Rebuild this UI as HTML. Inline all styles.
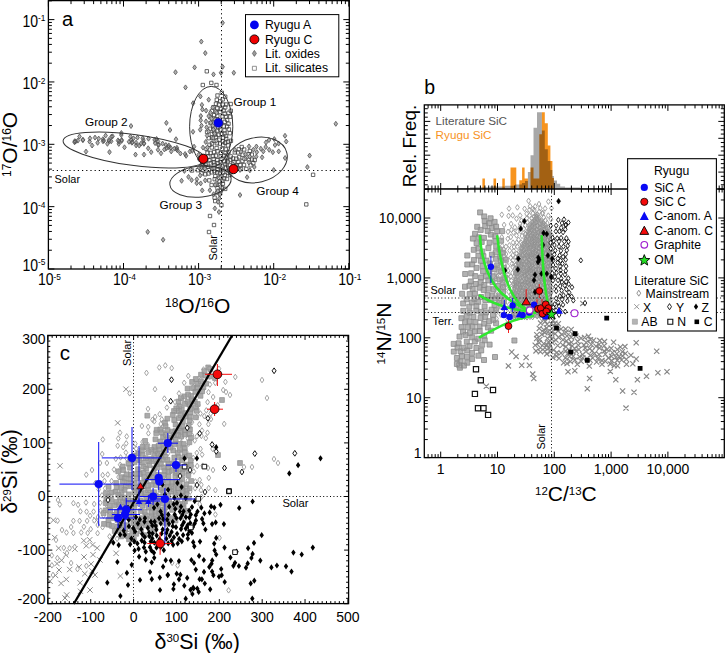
<!DOCTYPE html>
<html><head><meta charset="utf-8"><style>html,body{margin:0;padding:0;background:#fff;width:725px;height:653px;overflow:hidden}svg{display:block}</style></head><body><svg width="725" height="653" viewBox="0 0 725 653"><g id="pa"><path d="M218.9 160.4h3.4v3.4h-3.4z M221.5 136.2h3.4v3.4h-3.4z M218.4 110.3h3.4v3.4h-3.4z M215.6 106.7h3.4v3.4h-3.4z M246.9 152.6h3.4v3.4h-3.4z M215.6 158.5h3.4v3.4h-3.4z M222.8 128.7h3.4v3.4h-3.4z M212.4 130h3.4v3.4h-3.4z M220.3 147.1h3.4v3.4h-3.4z M203.9 163.2h3.4v3.4h-3.4z M211.8 160.6h3.4v3.4h-3.4z M210.2 132.3h3.4v3.4h-3.4z M225.4 118.2h3.4v3.4h-3.4z M216.1 121.5h3.4v3.4h-3.4z M228.6 158.3h3.4v3.4h-3.4z M219.9 132.5h3.4v3.4h-3.4z M215.6 117.8h3.4v3.4h-3.4z M220.8 114.7h3.4v3.4h-3.4z M214.2 135.7h3.4v3.4h-3.4z M206.3 165.2h3.4v3.4h-3.4z M219.1 151.4h3.4v3.4h-3.4z M212 139.2h3.4v3.4h-3.4z M212.3 121.8h3.4v3.4h-3.4z M207.6 158.6h3.4v3.4h-3.4z M201.6 168.6h3.4v3.4h-3.4z M216.6 125.7h3.4v3.4h-3.4z M214.2 154h3.4v3.4h-3.4z M212.7 169.4h3.4v3.4h-3.4z M218.3 171.8h3.4v3.4h-3.4z M224.3 134.2h3.4v3.4h-3.4z M231.8 160.5h3.4v3.4h-3.4z M221.5 143.3h3.4v3.4h-3.4z M221.1 139.3h3.4v3.4h-3.4z M215.2 141.5h3.4v3.4h-3.4z M223 120.1h3.4v3.4h-3.4z M212.5 113.4h3.4v3.4h-3.4z M204.5 159h3.4v3.4h-3.4z M217.1 176.2h3.4v3.4h-3.4z M222.4 159.7h3.4v3.4h-3.4z M217.2 102.9h3.4v3.4h-3.4z M234.7 157h3.4v3.4h-3.4z M213.6 174.4h3.4v3.4h-3.4z M217.7 138h3.4v3.4h-3.4z M236.6 160.2h3.4v3.4h-3.4z M234.8 163.6h3.4v3.4h-3.4z M218.2 119.1h3.4v3.4h-3.4z M208.6 115.6h3.4v3.4h-3.4z M200.4 161h3.4v3.4h-3.4z M226 171h3.4v3.4h-3.4z M219.5 174.5h3.4v3.4h-3.4z M215.7 164.6h3.4v3.4h-3.4z M224.4 166h3.4v3.4h-3.4z M223.8 151.1h3.4v3.4h-3.4z M217.9 179.7h3.4v3.4h-3.4z M210.3 135.9h3.4v3.4h-3.4z M218.3 183.1h3.4v3.4h-3.4z M250.1 152.9h3.4v3.4h-3.4z M222.5 176.8h3.4v3.4h-3.4z M224.2 147.7h3.4v3.4h-3.4z M215.9 149.6h3.4v3.4h-3.4z M224.9 155.6h3.4v3.4h-3.4z M210.1 145.8h3.4v3.4h-3.4z M215.6 114.2h3.4v3.4h-3.4z M217.1 133.1h3.4v3.4h-3.4z M211.5 126h3.4v3.4h-3.4z M200.1 164.1h3.4v3.4h-3.4z M213.1 132.9h3.4v3.4h-3.4z M208.8 151.2h3.4v3.4h-3.4z M219.2 188.7h3.4v3.4h-3.4z M229.1 109.1h3.4v3.4h-3.4z M222.9 112h3.4v3.4h-3.4z M206.8 171.8h3.4v3.4h-3.4z M211.9 157.4h3.4v3.4h-3.4z M240.9 153h3.4v3.4h-3.4z M211.6 117.1h3.4v3.4h-3.4z M207.1 168.3h3.4v3.4h-3.4z M243.3 157h3.4v3.4h-3.4z M237.4 155.6h3.4v3.4h-3.4z M223.5 187.2h3.4v3.4h-3.4z M225.9 159.6h3.4v3.4h-3.4z M216 161.4h3.4v3.4h-3.4z M229 154.7h3.4v3.4h-3.4z M211.2 166.7h3.4v3.4h-3.4z M215.8 128.9h3.4v3.4h-3.4z M221 97.7h3.4v3.4h-3.4z M222.6 153.8h3.4v3.4h-3.4z M226.3 139.9h3.4v3.4h-3.4z M204.8 147.2h3.4v3.4h-3.4z M205.8 151.1h3.4v3.4h-3.4z M250.2 157.8h3.4v3.4h-3.4z M211.3 154.6h3.4v3.4h-3.4z M226.3 143.7h3.4v3.4h-3.4z M218.9 154.6h3.4v3.4h-3.4z M203.6 172.6h3.4v3.4h-3.4z M218.6 127.9h3.4v3.4h-3.4z M221.3 170.9h3.4v3.4h-3.4z M223.5 95h3.4v3.4h-3.4z M210.2 109.2h3.4v3.4h-3.4z M207 136.5h3.4v3.4h-3.4z M240.8 159.3h3.4v3.4h-3.4z M223.5 141.1h3.4v3.4h-3.4z M190.3 168.8h3.4v3.4h-3.4z M224.5 137.1h3.4v3.4h-3.4z M224.4 102.8h3.4v3.4h-3.4z M225.3 124.8h3.4v3.4h-3.4z M209.1 161.6h3.4v3.4h-3.4z M223.5 105.7h3.4v3.4h-3.4z M213 177.5h3.4v3.4h-3.4z M215.8 186.4h3.4v3.4h-3.4z M214.9 146.3h3.4v3.4h-3.4z M233.1 150.7h3.4v3.4h-3.4z M220.4 164.7h3.4v3.4h-3.4z M223.8 162.4h3.4v3.4h-3.4z M222.1 124.6h3.4v3.4h-3.4z M231.3 156.7h3.4v3.4h-3.4z M218.3 141.9h3.4v3.4h-3.4z M205.4 130.3h3.4v3.4h-3.4z M212.4 150.4h3.4v3.4h-3.4z M219.5 168.6h3.4v3.4h-3.4z M214.2 109.9h3.4v3.4h-3.4z M206.6 155h3.4v3.4h-3.4z M236.4 167.1h3.4v3.4h-3.4z M209.9 183.3h3.4v3.4h-3.4z M215.1 98.1h3.4v3.4h-3.4z M220.1 91.1h3.4v3.4h-3.4z M227.2 127.7h3.4v3.4h-3.4z M229 102.3h3.4v3.4h-3.4z M247.2 158.1h3.4v3.4h-3.4z M218.4 191.8h3.4v3.4h-3.4z M210.3 141.7h3.4v3.4h-3.4z M220.7 179.1h3.4v3.4h-3.4z M228.6 115h3.4v3.4h-3.4z M212.9 163.3h3.4v3.4h-3.4z M238.6 163.3h3.4v3.4h-3.4z M207.8 143.1h3.4v3.4h-3.4z M219.2 107.4h3.4v3.4h-3.4z M248.9 163.6h3.4v3.4h-3.4z M223.2 173.4h3.4v3.4h-3.4z M221.3 102.9h3.4v3.4h-3.4z M218.6 99.6h3.4v3.4h-3.4z M229 167.6h3.4v3.4h-3.4z M228.4 163.7h3.4v3.4h-3.4z M242.3 163.3h3.4v3.4h-3.4z M226.8 122h3.4v3.4h-3.4z M215.6 190.8h3.4v3.4h-3.4z M226.9 111.1h3.4v3.4h-3.4z M219.3 122.3h3.4v3.4h-3.4z M228.4 173.3h3.4v3.4h-3.4z M215.5 170.7h3.4v3.4h-3.4z M219.7 203.4h3.4v3.4h-3.4z M211.8 105.5h3.4v3.4h-3.4z M196.1 168.5h3.4v3.4h-3.4z M225.3 177.3h3.4v3.4h-3.4z M213.5 199.4h3.4v3.4h-3.4z M219.8 157.3h3.4v3.4h-3.4z M199.8 171.5h3.4v3.4h-3.4z M212.9 195.9h3.4v3.4h-3.4z M215.7 167.9h3.4v3.4h-3.4z M221.9 108.8h3.4v3.4h-3.4z M253 158.3h3.4v3.4h-3.4z M215.8 93.8h3.4v3.4h-3.4z M202.6 165.9h3.4v3.4h-3.4z M214.4 183.1h3.4v3.4h-3.4z M221.2 182h3.4v3.4h-3.4z M229.2 139.1h3.4v3.4h-3.4z M208.8 121.4h3.4v3.4h-3.4z M236.3 150.8h3.4v3.4h-3.4z M224.2 115.2h3.4v3.4h-3.4z M226.9 150.2h3.4v3.4h-3.4z M214.3 102.1h3.4v3.4h-3.4z M237.1 147.6h3.4v3.4h-3.4z M251.6 161.4h3.4v3.4h-3.4z M210 170.6h3.4v3.4h-3.4z M222.8 131.8h3.4v3.4h-3.4z M248.1 149.3h3.4v3.4h-3.4z M200.4 157.3h3.4v3.4h-3.4z M239.3 167.4h3.4v3.4h-3.4z M244.6 167.2h3.4v3.4h-3.4z M228.2 131.5h3.4v3.4h-3.4z M207.6 178.7h3.4v3.4h-3.4z M242.5 147.8h3.4v3.4h-3.4z M208.7 127h3.4v3.4h-3.4z M240 145.3h3.4v3.4h-3.4z M220.5 186h3.4v3.4h-3.4z M205.1 69.6h3.4v3.4h-3.4z M201.1 83.3h3.4v3.4h-3.4z M209.6 81.2h3.4v3.4h-3.4z M214.8 83.3h3.4v3.4h-3.4z M311.4 173.1h3.4v3.4h-3.4z M304.6 202.7h3.4v3.4h-3.4z M208.3 214.3h3.4v3.4h-3.4z M212.3 223.3h3.4v3.4h-3.4z M207.3 230.3h3.4v3.4h-3.4z" fill="#fff" stroke="#404040" stroke-width="0.8"/><path d="M144 140.7l1.8 2.5l-1.8 2.5l-1.8-2.5z M162.6 141.1l1.8 2.5l-1.8 2.5l-1.8-2.5z M95 135.1l1.8 2.5l-1.8 2.5l-1.8-2.5z M186.1 153.3l1.8 2.5l-1.8 2.5l-1.8-2.5z M185.1 151.5l1.8 2.5l-1.8 2.5l-1.8-2.5z M118 137.9l1.8 2.5l-1.8 2.5l-1.8-2.5z M105.6 133.1l1.8 2.5l-1.8 2.5l-1.8-2.5z M164.4 147l1.8 2.5l-1.8 2.5l-1.8-2.5z M121.7 137.4l1.8 2.5l-1.8 2.5l-1.8-2.5z M74.7 138.7l1.8 2.5l-1.8 2.5l-1.8-2.5z M118.8 141.4l1.8 2.5l-1.8 2.5l-1.8-2.5z M129 139.3l1.8 2.5l-1.8 2.5l-1.8-2.5z M198.7 152.3l1.8 2.5l-1.8 2.5l-1.8-2.5z M74.6 139.8l1.8 2.5l-1.8 2.5l-1.8-2.5z M143.4 137.7l1.8 2.5l-1.8 2.5l-1.8-2.5z M77.9 138.1l1.8 2.5l-1.8 2.5l-1.8-2.5z M121.4 130.5l1.8 2.5l-1.8 2.5l-1.8-2.5z M180.4 151l1.8 2.5l-1.8 2.5l-1.8-2.5z M189.9 149l1.8 2.5l-1.8 2.5l-1.8-2.5z M176 136.7l1.8 2.5l-1.8 2.5l-1.8-2.5z M158 142l1.8 2.5l-1.8 2.5l-1.8-2.5z M124.5 144.8l1.8 2.5l-1.8 2.5l-1.8-2.5z M203.5 155.4l1.8 2.5l-1.8 2.5l-1.8-2.5z M119 139l1.8 2.5l-1.8 2.5l-1.8-2.5z M170.7 145.3l1.8 2.5l-1.8 2.5l-1.8-2.5z M107.4 141.3l1.8 2.5l-1.8 2.5l-1.8-2.5z M194.1 144.2l1.8 2.5l-1.8 2.5l-1.8-2.5z M202.3 154.1l1.8 2.5l-1.8 2.5l-1.8-2.5z M158 147.3l1.8 2.5l-1.8 2.5l-1.8-2.5z M89.6 139.1l1.8 2.5l-1.8 2.5l-1.8-2.5z M75.7 138.9l1.8 2.5l-1.8 2.5l-1.8-2.5z M121.6 138.4l1.8 2.5l-1.8 2.5l-1.8-2.5z M131.8 140.2l1.8 2.5l-1.8 2.5l-1.8-2.5z M108.9 137.4l1.8 2.5l-1.8 2.5l-1.8-2.5z M79.5 134l1.8 2.5l-1.8 2.5l-1.8-2.5z M109.3 138.6l1.8 2.5l-1.8 2.5l-1.8-2.5z M142.7 135.7l1.8 2.5l-1.8 2.5l-1.8-2.5z M201.5 165.1l1.8 2.5l-1.8 2.5l-1.8-2.5z M112.6 133.8l1.8 2.5l-1.8 2.5l-1.8-2.5z M155.1 140.6l1.8 2.5l-1.8 2.5l-1.8-2.5z M158.7 142.5l1.8 2.5l-1.8 2.5l-1.8-2.5z M176.9 145.3l1.8 2.5l-1.8 2.5l-1.8-2.5z M130.4 134.1l1.8 2.5l-1.8 2.5l-1.8-2.5z M136.1 140.2l1.8 2.5l-1.8 2.5l-1.8-2.5z M192.3 148.3l1.8 2.5l-1.8 2.5l-1.8-2.5z M141 141.1l1.8 2.5l-1.8 2.5l-1.8-2.5z M90 135.8l1.8 2.5l-1.8 2.5l-1.8-2.5z M176.7 146.9l1.8 2.5l-1.8 2.5l-1.8-2.5z M103 138.8l1.8 2.5l-1.8 2.5l-1.8-2.5z M171.2 148.9l1.8 2.5l-1.8 2.5l-1.8-2.5z M83.1 137.4l1.8 2.5l-1.8 2.5l-1.8-2.5z M137.5 135.1l1.8 2.5l-1.8 2.5l-1.8-2.5z M103.9 138.1l1.8 2.5l-1.8 2.5l-1.8-2.5z M139.2 143.1l1.8 2.5l-1.8 2.5l-1.8-2.5z M143.9 141.3l1.8 2.5l-1.8 2.5l-1.8-2.5z M97.6 140.3l1.8 2.5l-1.8 2.5l-1.8-2.5z M131.2 137.6l1.8 2.5l-1.8 2.5l-1.8-2.5z M202.6 162.5l1.8 2.5l-1.8 2.5l-1.8-2.5z M168.7 144.7l1.8 2.5l-1.8 2.5l-1.8-2.5z M132.5 139.7l1.8 2.5l-1.8 2.5l-1.8-2.5z M174.4 146.1l1.8 2.5l-1.8 2.5l-1.8-2.5z M121.3 132.5l1.8 2.5l-1.8 2.5l-1.8-2.5z M203.3 161.8l1.8 2.5l-1.8 2.5l-1.8-2.5z M98.7 136.1l1.8 2.5l-1.8 2.5l-1.8-2.5z M154.6 137.4l1.8 2.5l-1.8 2.5l-1.8-2.5z M111.4 134.2l1.8 2.5l-1.8 2.5l-1.8-2.5z M166.6 145.6l1.8 2.5l-1.8 2.5l-1.8-2.5z M111.2 138.8l1.8 2.5l-1.8 2.5l-1.8-2.5z M199 156.5l1.8 2.5l-1.8 2.5l-1.8-2.5z M82.7 137.5l1.8 2.5l-1.8 2.5l-1.8-2.5z M148.5 136.2l1.8 2.5l-1.8 2.5l-1.8-2.5z M102.9 136.7l1.8 2.5l-1.8 2.5l-1.8-2.5z M168.8 142.9l1.8 2.5l-1.8 2.5l-1.8-2.5z M148.2 145.8l1.8 2.5l-1.8 2.5l-1.8-2.5z M92.1 143l1.8 2.5l-1.8 2.5l-1.8-2.5z M133.5 135.8l1.8 2.5l-1.8 2.5l-1.8-2.5z M156.6 136.5l1.8 2.5l-1.8 2.5l-1.8-2.5z M165.9 142.5l1.8 2.5l-1.8 2.5l-1.8-2.5z M177.6 148l1.8 2.5l-1.8 2.5l-1.8-2.5z M136.1 142.9l1.8 2.5l-1.8 2.5l-1.8-2.5z M86 149.1l1.8 2.5l-1.8 2.5l-1.8-2.5z M109.5 149.6l1.8 2.5l-1.8 2.5l-1.8-2.5z M135.5 152.1l1.8 2.5l-1.8 2.5l-1.8-2.5z M144 152.1l1.8 2.5l-1.8 2.5l-1.8-2.5z M151.2 149.6l1.8 2.5l-1.8 2.5l-1.8-2.5z M161 150.8l1.8 2.5l-1.8 2.5l-1.8-2.5z M201.5 123.1l1.8 2.5l-1.8 2.5l-1.8-2.5z M212.8 123.2l1.8 2.5l-1.8 2.5l-1.8-2.5z M263.3 148.9l1.8 2.5l-1.8 2.5l-1.8-2.5z M213.6 191.7l1.8 2.5l-1.8 2.5l-1.8-2.5z M193 129.3l1.8 2.5l-1.8 2.5l-1.8-2.5z M214.9 205.9l1.8 2.5l-1.8 2.5l-1.8-2.5z M262.1 154.8l1.8 2.5l-1.8 2.5l-1.8-2.5z M227.9 159.4l1.8 2.5l-1.8 2.5l-1.8-2.5z M219 209.5l1.8 2.5l-1.8 2.5l-1.8-2.5z M200.2 127.2l1.8 2.5l-1.8 2.5l-1.8-2.5z M219.9 192l1.8 2.5l-1.8 2.5l-1.8-2.5z M200.4 93.9l1.8 2.5l-1.8 2.5l-1.8-2.5z M188.5 174.4l1.8 2.5l-1.8 2.5l-1.8-2.5z M206 118.9l1.8 2.5l-1.8 2.5l-1.8-2.5z M216.8 177.5l1.8 2.5l-1.8 2.5l-1.8-2.5z M220.7 184l1.8 2.5l-1.8 2.5l-1.8-2.5z M256.2 154.2l1.8 2.5l-1.8 2.5l-1.8-2.5z M196.8 176.8l1.8 2.5l-1.8 2.5l-1.8-2.5z M191.6 177.6l1.8 2.5l-1.8 2.5l-1.8-2.5z M272.8 149.7l1.8 2.5l-1.8 2.5l-1.8-2.5z M256.4 144l1.8 2.5l-1.8 2.5l-1.8-2.5z M208.6 128.9l1.8 2.5l-1.8 2.5l-1.8-2.5z M200.8 113.5l1.8 2.5l-1.8 2.5l-1.8-2.5z M248.9 160l1.8 2.5l-1.8 2.5l-1.8-2.5z M269 137.5l1.8 2.5l-1.8 2.5l-1.8-2.5z M204.8 166.2l1.8 2.5l-1.8 2.5l-1.8-2.5z M207.1 133.1l1.8 2.5l-1.8 2.5l-1.8-2.5z M181.6 178.3l1.8 2.5l-1.8 2.5l-1.8-2.5z M201.9 102.4l1.8 2.5l-1.8 2.5l-1.8-2.5z M210.7 120.2l1.8 2.5l-1.8 2.5l-1.8-2.5z M209.9 187.7l1.8 2.5l-1.8 2.5l-1.8-2.5z M278.7 148.9l1.8 2.5l-1.8 2.5l-1.8-2.5z M208.7 113.6l1.8 2.5l-1.8 2.5l-1.8-2.5z M206.1 108.1l1.8 2.5l-1.8 2.5l-1.8-2.5z M207.4 145l1.8 2.5l-1.8 2.5l-1.8-2.5z M215.1 116.9l1.8 2.5l-1.8 2.5l-1.8-2.5z M210.5 110.2l1.8 2.5l-1.8 2.5l-1.8-2.5z M205.2 177.9l1.8 2.5l-1.8 2.5l-1.8-2.5z M214.6 131.2l1.8 2.5l-1.8 2.5l-1.8-2.5z M212.8 105l1.8 2.5l-1.8 2.5l-1.8-2.5z M219.3 195.9l1.8 2.5l-1.8 2.5l-1.8-2.5z M217.8 188.6l1.8 2.5l-1.8 2.5l-1.8-2.5z M260.8 146.2l1.8 2.5l-1.8 2.5l-1.8-2.5z M214.2 165.5l1.8 2.5l-1.8 2.5l-1.8-2.5z M211.6 116.2l1.8 2.5l-1.8 2.5l-1.8-2.5z M200.2 172.9l1.8 2.5l-1.8 2.5l-1.8-2.5z M196.7 180.6l1.8 2.5l-1.8 2.5l-1.8-2.5z M265.7 144.5l1.8 2.5l-1.8 2.5l-1.8-2.5z M240.9 149.3l1.8 2.5l-1.8 2.5l-1.8-2.5z M249 143.9l1.8 2.5l-1.8 2.5l-1.8-2.5z M213.4 127l1.8 2.5l-1.8 2.5l-1.8-2.5z M200.7 117.8l1.8 2.5l-1.8 2.5l-1.8-2.5z M253.4 147.2l1.8 2.5l-1.8 2.5l-1.8-2.5z M249.9 167.8l1.8 2.5l-1.8 2.5l-1.8-2.5z M206.6 124.8l1.8 2.5l-1.8 2.5l-1.8-2.5z M249.6 154l1.8 2.5l-1.8 2.5l-1.8-2.5z M184.4 168.4l1.8 2.5l-1.8 2.5l-1.8-2.5z M199.1 165.2l1.8 2.5l-1.8 2.5l-1.8-2.5z M269.2 147.3l1.8 2.5l-1.8 2.5l-1.8-2.5z M218.1 199.4l1.8 2.5l-1.8 2.5l-1.8-2.5z M245.5 151.7l1.8 2.5l-1.8 2.5l-1.8-2.5z M274.3 136.6l1.8 2.5l-1.8 2.5l-1.8-2.5z M190.5 167.1l1.8 2.5l-1.8 2.5l-1.8-2.5z M208.7 97.2l1.8 2.5l-1.8 2.5l-1.8-2.5z M221.6 166l1.8 2.5l-1.8 2.5l-1.8-2.5z M205.7 139.5l1.8 2.5l-1.8 2.5l-1.8-2.5z M278.6 141.1l1.8 2.5l-1.8 2.5l-1.8-2.5z M286.2 139l1.8 2.5l-1.8 2.5l-1.8-2.5z M232.8 161.5l1.8 2.5l-1.8 2.5l-1.8-2.5z M220.3 175l1.8 2.5l-1.8 2.5l-1.8-2.5z M202.4 107l1.8 2.5l-1.8 2.5l-1.8-2.5z M203 145.1l1.8 2.5l-1.8 2.5l-1.8-2.5z M240 167.4l1.8 2.5l-1.8 2.5l-1.8-2.5z M247.1 174.7l1.8 2.5l-1.8 2.5l-1.8-2.5z M285 133.3l1.8 2.5l-1.8 2.5l-1.8-2.5z M200.7 180.9l1.8 2.5l-1.8 2.5l-1.8-2.5z M216.6 110.3l1.8 2.5l-1.8 2.5l-1.8-2.5z M236.3 163.4l1.8 2.5l-1.8 2.5l-1.8-2.5z M243.8 156.3l1.8 2.5l-1.8 2.5l-1.8-2.5z M254.3 164.5l1.8 2.5l-1.8 2.5l-1.8-2.5z M275 142.5l1.8 2.5l-1.8 2.5l-1.8-2.5z M216.3 138.2l1.8 2.5l-1.8 2.5l-1.8-2.5z M213.2 135.5l1.8 2.5l-1.8 2.5l-1.8-2.5z M234.8 147.3l1.8 2.5l-1.8 2.5l-1.8-2.5z M215.1 182.4l1.8 2.5l-1.8 2.5l-1.8-2.5z M256.8 149.6l1.8 2.5l-1.8 2.5l-1.8-2.5z M266 139.9l1.8 2.5l-1.8 2.5l-1.8-2.5z M216.3 122.8l1.8 2.5l-1.8 2.5l-1.8-2.5z M202.2 187.9l1.8 2.5l-1.8 2.5l-1.8-2.5z M222.6 20.3l1.8 2.5l-1.8 2.5l-1.8-2.5z M201.3 39.1l1.8 2.5l-1.8 2.5l-1.8-2.5z M205.3 50.6l1.8 2.5l-1.8 2.5l-1.8-2.5z M194.6 64.9l1.8 2.5l-1.8 2.5l-1.8-2.5z M175.5 69.7l1.8 2.5l-1.8 2.5l-1.8-2.5z M222.6 64.3l1.8 2.5l-1.8 2.5l-1.8-2.5z M233.8 70.3l1.8 2.5l-1.8 2.5l-1.8-2.5z M185.5 84.9l1.8 2.5l-1.8 2.5l-1.8-2.5z M193.1 100.7l1.8 2.5l-1.8 2.5l-1.8-2.5z M166.4 120.4l1.8 2.5l-1.8 2.5l-1.8-2.5z M335.8 121.3l1.8 2.5l-1.8 2.5l-1.8-2.5z M213.5 71.9l1.8 2.5l-1.8 2.5l-1.8-2.5z M221 70.3l1.8 2.5l-1.8 2.5l-1.8-2.5z M309.6 153.1l1.8 2.5l-1.8 2.5l-1.8-2.5z M307.4 164.6l1.8 2.5l-1.8 2.5l-1.8-2.5z M240 192.5l1.8 2.5l-1.8 2.5l-1.8-2.5z M273.7 167.5l1.8 2.5l-1.8 2.5l-1.8-2.5z M285.1 155.5l1.8 2.5l-1.8 2.5l-1.8-2.5z M147.7 229.4l1.8 2.5l-1.8 2.5l-1.8-2.5z M163.1 237.3l1.8 2.5l-1.8 2.5l-1.8-2.5z M158 139l1.8 2.5l-1.8 2.5l-1.8-2.5z M131 123.5l1.8 2.5l-1.8 2.5l-1.8-2.5z M170 127.5l1.8 2.5l-1.8 2.5l-1.8-2.5z" fill="#b0b0b0" stroke="#505050" stroke-width="0.8"/><ellipse cx="134" cy="150" rx="71.5" ry="15.5" transform="rotate(7.6 134 150)" fill="none" stroke="#333" stroke-width="1"/><ellipse cx="211.2" cy="126.8" rx="21.6" ry="40.4" fill="none" stroke="#333" stroke-width="1"/><ellipse cx="200.5" cy="181.5" rx="30.8" ry="15.5" transform="rotate(-6 200.5 181.5)" fill="none" stroke="#333" stroke-width="1"/><ellipse cx="256.7" cy="160" rx="31" ry="22.3" transform="rotate(-13.5 256.7 160)" fill="none" stroke="#333" stroke-width="1"/><path d="M48.4 170.5H349.3M221.5 0.6V269" stroke="#000" stroke-width="1" stroke-dasharray="1.2 3" fill="none"/><circle cx="218.3" cy="122.8" r="4.4" fill="#0000f0" stroke="#0000a0" stroke-width="0.6"/><circle cx="203.3" cy="158.8" r="4.6" fill="#f00000" stroke="#000" stroke-width="0.9"/><circle cx="233.5" cy="169.1" r="4.6" fill="#f00000" stroke="#000" stroke-width="0.9"/><rect x="245.5" y="14.6" width="93.3" height="62.2" fill="#fff" stroke="#000" stroke-width="1"/><circle cx="254.4" cy="24.9" r="4.4" fill="#0000f0"/><circle cx="254.4" cy="39.4" r="4.5" fill="#f00000" stroke="#000" stroke-width="0.9"/><path d="M254.4 50.4l2 3l-2 3l-2-3z" fill="#9a9a9a" stroke="#555" stroke-width="0.7"/><path d="M252.4 66.3h4v4h-4z" fill="#fff" stroke="#777" stroke-width="0.8"/><text x="265" y="29.2" font-family="Liberation Sans, sans-serif" font-size="12.2">Ryugu A</text><text x="265" y="43.5" font-family="Liberation Sans, sans-serif" font-size="12.2">Ryugu C</text><text x="265" y="57.8" font-family="Liberation Sans, sans-serif" font-size="12.2">Lit. oxides</text><text x="265" y="72.1" font-family="Liberation Sans, sans-serif" font-size="12.2">Lit. silicates</text><text x="233.6" y="105.9" font-family="Liberation Sans, sans-serif" font-size="11.8">Group 1</text><text x="85" y="125.5" font-family="Liberation Sans, sans-serif" font-size="11.8">Group 2</text><text x="159.5" y="209.3" font-family="Liberation Sans, sans-serif" font-size="11.8">Group 3</text><text x="256.3" y="195" font-family="Liberation Sans, sans-serif" font-size="11.8">Group 4</text><text x="54.6" y="182.8" font-family="Liberation Sans, sans-serif" font-size="10.9">Solar</text><text transform="translate(216.5,260.5) rotate(-90)" font-family="Liberation Sans, sans-serif" font-size="10.9">Solar</text><path d="M48.4 269v-6 M48.4 0.6v6 M71.01 269v-3.5 M71.01 0.6v3.5 M84.23 269v-3.5 M84.23 0.6v3.5 M93.61 269v-3.5 M93.61 0.6v3.5 M100.89 269v-3.5 M100.89 0.6v3.5 M106.84 269v-3.5 M106.84 0.6v3.5 M111.87 269v-3.5 M111.87 0.6v3.5 M116.22 269v-3.5 M116.22 0.6v3.5 M120.06 269v-3.5 M120.06 0.6v3.5 M123.5 269v-6 M123.5 0.6v6 M146.11 269v-3.5 M146.11 0.6v3.5 M159.33 269v-3.5 M159.33 0.6v3.5 M168.71 269v-3.5 M168.71 0.6v3.5 M175.99 269v-3.5 M175.99 0.6v3.5 M181.94 269v-3.5 M181.94 0.6v3.5 M186.97 269v-3.5 M186.97 0.6v3.5 M191.32 269v-3.5 M191.32 0.6v3.5 M195.16 269v-3.5 M195.16 0.6v3.5 M198.6 269v-6 M198.6 0.6v6 M221.21 269v-3.5 M221.21 0.6v3.5 M234.43 269v-3.5 M234.43 0.6v3.5 M243.81 269v-3.5 M243.81 0.6v3.5 M251.09 269v-3.5 M251.09 0.6v3.5 M257.04 269v-3.5 M257.04 0.6v3.5 M262.07 269v-3.5 M262.07 0.6v3.5 M266.42 269v-3.5 M266.42 0.6v3.5 M270.26 269v-3.5 M270.26 0.6v3.5 M273.7 269v-6 M273.7 0.6v6 M296.31 269v-3.5 M296.31 0.6v3.5 M309.53 269v-3.5 M309.53 0.6v3.5 M318.91 269v-3.5 M318.91 0.6v3.5 M326.19 269v-3.5 M326.19 0.6v3.5 M332.14 269v-3.5 M332.14 0.6v3.5 M337.17 269v-3.5 M337.17 0.6v3.5 M341.52 269v-3.5 M341.52 0.6v3.5 M345.36 269v-3.5 M345.36 0.6v3.5 M348.8 269v-6 M348.8 0.6v6 M48.4 269h6 M349.3 269h-6 M48.4 250.23h3.5 M349.3 250.23h-3.5 M48.4 239.25h3.5 M349.3 239.25h-3.5 M48.4 231.46h3.5 M349.3 231.46h-3.5 M48.4 225.42h3.5 M349.3 225.42h-3.5 M48.4 220.48h3.5 M349.3 220.48h-3.5 M48.4 216.31h3.5 M349.3 216.31h-3.5 M48.4 212.69h3.5 M349.3 212.69h-3.5 M48.4 209.5h3.5 M349.3 209.5h-3.5 M48.4 206.65h6 M349.3 206.65h-6 M48.4 187.88h3.5 M349.3 187.88h-3.5 M48.4 176.9h3.5 M349.3 176.9h-3.5 M48.4 169.11h3.5 M349.3 169.11h-3.5 M48.4 163.07h3.5 M349.3 163.07h-3.5 M48.4 158.13h3.5 M349.3 158.13h-3.5 M48.4 153.96h3.5 M349.3 153.96h-3.5 M48.4 150.34h3.5 M349.3 150.34h-3.5 M48.4 147.15h3.5 M349.3 147.15h-3.5 M48.4 144.3h6 M349.3 144.3h-6 M48.4 125.53h3.5 M349.3 125.53h-3.5 M48.4 114.55h3.5 M349.3 114.55h-3.5 M48.4 106.76h3.5 M349.3 106.76h-3.5 M48.4 100.72h3.5 M349.3 100.72h-3.5 M48.4 95.78h3.5 M349.3 95.78h-3.5 M48.4 91.61h3.5 M349.3 91.61h-3.5 M48.4 87.99h3.5 M349.3 87.99h-3.5 M48.4 84.8h3.5 M349.3 84.8h-3.5 M48.4 81.95h6 M349.3 81.95h-6 M48.4 63.18h3.5 M349.3 63.18h-3.5 M48.4 52.2h3.5 M349.3 52.2h-3.5 M48.4 44.41h3.5 M349.3 44.41h-3.5 M48.4 38.37h3.5 M349.3 38.37h-3.5 M48.4 33.43h3.5 M349.3 33.43h-3.5 M48.4 29.26h3.5 M349.3 29.26h-3.5 M48.4 25.64h3.5 M349.3 25.64h-3.5 M48.4 22.45h3.5 M349.3 22.45h-3.5 M48.4 19.6h6 M349.3 19.6h-6 M48.4 0.83h3.5 M349.3 0.83h-3.5" stroke="#000" stroke-width="1" fill="none"/><rect x="48.4" y="0.6" width="300.9" height="268.4" fill="none" stroke="#000" stroke-width="1.3"/><text transform="translate(49.4,285) scale(0.9,1)" text-anchor="middle" font-family="Liberation Sans, sans-serif" font-size="15.6">10<tspan font-size="9.3" dy="-5.3">-5</tspan></text><text transform="translate(45.5,270.5) scale(0.9,1)" text-anchor="end" font-family="Liberation Sans, sans-serif" font-size="15.6">10<tspan font-size="9.3" dy="-5.3">-5</tspan></text><text transform="translate(124.5,285) scale(0.9,1)" text-anchor="middle" font-family="Liberation Sans, sans-serif" font-size="15.6">10<tspan font-size="9.3" dy="-5.3">-4</tspan></text><text transform="translate(45.5,213.65) scale(0.9,1)" text-anchor="end" font-family="Liberation Sans, sans-serif" font-size="15.6">10<tspan font-size="9.3" dy="-5.3">-4</tspan></text><text transform="translate(199.6,285) scale(0.9,1)" text-anchor="middle" font-family="Liberation Sans, sans-serif" font-size="15.6">10<tspan font-size="9.3" dy="-5.3">-3</tspan></text><text transform="translate(45.5,151.3) scale(0.9,1)" text-anchor="end" font-family="Liberation Sans, sans-serif" font-size="15.6">10<tspan font-size="9.3" dy="-5.3">-3</tspan></text><text transform="translate(274.7,285) scale(0.9,1)" text-anchor="middle" font-family="Liberation Sans, sans-serif" font-size="15.6">10<tspan font-size="9.3" dy="-5.3">-2</tspan></text><text transform="translate(45.5,88.95) scale(0.9,1)" text-anchor="end" font-family="Liberation Sans, sans-serif" font-size="15.6">10<tspan font-size="9.3" dy="-5.3">-2</tspan></text><text transform="translate(349.8,285) scale(0.9,1)" text-anchor="middle" font-family="Liberation Sans, sans-serif" font-size="15.6">10<tspan font-size="9.3" dy="-5.3">-1</tspan></text><text transform="translate(45.5,26.6) scale(0.9,1)" text-anchor="end" font-family="Liberation Sans, sans-serif" font-size="15.6">10<tspan font-size="9.3" dy="-5.3">-1</tspan></text><text x="165" y="313" font-family="Liberation Sans, sans-serif" font-size="21"><tspan font-size="12" dy="-6.5">18</tspan><tspan dy="6.5">O/</tspan><tspan font-size="12" dy="-6.5">16</tspan><tspan dy="6.5">O</tspan></text><text transform="translate(17.3,144.4) rotate(-90)" text-anchor="middle" font-family="Liberation Sans, sans-serif" font-size="21"><tspan font-size="12" dy="-6.5">17</tspan><tspan dy="6.5">O/</tspan><tspan font-size="12" dy="-6.5">16</tspan><tspan dy="6.5">O</tspan></text><text x="62" y="25.5" font-family="Liberation Sans, sans-serif" font-size="20">a</text></g><g id="pb"><path d="M482.4 189V178.6H484.9V189z M493.5 189V178.6H496.1V189z M502.3 189V178.6H504.8V189z M510.5 189V167.5H516.3V189z M519.3 189V180.3H522.1V189z M522.1 189V167.5H524.6V189z M524.6 189V178.6H527.9V189z M530.5 189V167.5H533.5V189z M533.5 189V178.6H539.3V189z M539.3 189V134.3H541.9V189z M541.9 189V112.2H544.8V189z M544.8 189V123.2H547.8V189z M547.8 189V145.4H550.4V189z M550.4 189V161H552.4V189z M552.4 189V178H553.9V189z" fill="#f7941e"/><path d="M440 189V188H470V189z M470 189V187.2H490V189z M490 189V186.6H505V189z M505 189V185.8H515V189z M515 189V184.5H522V189z M522 189V183H525V189z M525 189V181H527.9V189z M527.9 189V172.1H530.5V189z M530.5 189V155.2H533.5V189z M533.5 189V127.8H537V189z M537 189V112.2H541.9V189z M541.9 189V130.4H544.8V189z M544.8 189V149.3H547.8V189z M547.8 189V161H550.4V189z M550.4 189V170H552.4V189z M552.4 189V176H553.9V189z M553.9 189V180.6H557V189z M557 189V183.8H560.2V189z M560.2 189V186.4H565V189z M565 189V187.6H580V189z M580 189V188.3H600V189z" fill="#000" fill-opacity="0.34"/><path d="M582.6 345.5l5.2 5.2m-5.2 0l5.2 -5.2 M608.9 353.6l5.2 5.2m-5.2 0l5.2 -5.2 M544 325.5l5.2 5.2m-5.2 0l5.2 -5.2 M590.1 355.4l5.2 5.2m-5.2 0l5.2 -5.2 M563.5 329.6l5.2 5.2m-5.2 0l5.2 -5.2 M601.9 339l5.2 5.2m-5.2 0l5.2 -5.2 M614.2 351.2l5.2 5.2m-5.2 0l5.2 -5.2 M541.1 341.2l5.2 5.2m-5.2 0l5.2 -5.2 M550.6 318l5.2 5.2m-5.2 0l5.2 -5.2 M587.8 352.8l5.2 5.2m-5.2 0l5.2 -5.2 M555.1 342.9l5.2 5.2m-5.2 0l5.2 -5.2 M567.1 353.9l5.2 5.2m-5.2 0l5.2 -5.2 M578.5 335.6l5.2 5.2m-5.2 0l5.2 -5.2 M605.8 355.3l5.2 5.2m-5.2 0l5.2 -5.2 M609.8 350.1l5.2 5.2m-5.2 0l5.2 -5.2 M553.3 337.5l5.2 5.2m-5.2 0l5.2 -5.2 M544.8 335.6l5.2 5.2m-5.2 0l5.2 -5.2 M576.3 346.9l5.2 5.2m-5.2 0l5.2 -5.2 M596.5 351.8l5.2 5.2m-5.2 0l5.2 -5.2 M576.9 354.2l5.2 5.2m-5.2 0l5.2 -5.2 M569.6 343.3l5.2 5.2m-5.2 0l5.2 -5.2 M563 348.5l5.2 5.2m-5.2 0l5.2 -5.2 M568.6 334.6l5.2 5.2m-5.2 0l5.2 -5.2 M589.6 348.2l5.2 5.2m-5.2 0l5.2 -5.2 M546 339.3l5.2 5.2m-5.2 0l5.2 -5.2 M548.8 321.3l5.2 5.2m-5.2 0l5.2 -5.2 M560.2 342.4l5.2 5.2m-5.2 0l5.2 -5.2 M567.8 358.9l5.2 5.2m-5.2 0l5.2 -5.2 M633.6 356.4l5.2 5.2m-5.2 0l5.2 -5.2 M596.4 341.8l5.2 5.2m-5.2 0l5.2 -5.2 M572.3 357.4l5.2 5.2m-5.2 0l5.2 -5.2 M563.8 338.3l5.2 5.2m-5.2 0l5.2 -5.2 M554.3 350l5.2 5.2m-5.2 0l5.2 -5.2 M587.8 337.2l5.2 5.2m-5.2 0l5.2 -5.2 M614.7 346.9l5.2 5.2m-5.2 0l5.2 -5.2 M560.3 337.1l5.2 5.2m-5.2 0l5.2 -5.2 M559.3 331.8l5.2 5.2m-5.2 0l5.2 -5.2 M595.2 355.8l5.2 5.2m-5.2 0l5.2 -5.2 M542.6 318.8l5.2 5.2m-5.2 0l5.2 -5.2 M604.4 346.8l5.2 5.2m-5.2 0l5.2 -5.2 M537.2 336.9l5.2 5.2m-5.2 0l5.2 -5.2 M547.6 333.5l5.2 5.2m-5.2 0l5.2 -5.2 M547.4 342.5l5.2 5.2m-5.2 0l5.2 -5.2 M619 357.4l5.2 5.2m-5.2 0l5.2 -5.2 M549 329.3l5.2 5.2m-5.2 0l5.2 -5.2 M550.2 354.8l5.2 5.2m-5.2 0l5.2 -5.2 M563 326.4l5.2 5.2m-5.2 0l5.2 -5.2 M574.9 338.6l5.2 5.2m-5.2 0l5.2 -5.2 M534.2 332.2l5.2 5.2m-5.2 0l5.2 -5.2 M593.4 343.6l5.2 5.2m-5.2 0l5.2 -5.2 M538 320.5l5.2 5.2m-5.2 0l5.2 -5.2 M568.6 326.9l5.2 5.2m-5.2 0l5.2 -5.2 M549.2 336.5l5.2 5.2m-5.2 0l5.2 -5.2 M580 351.9l5.2 5.2m-5.2 0l5.2 -5.2 M556.5 355.7l5.2 5.2m-5.2 0l5.2 -5.2 M611 339.7l5.2 5.2m-5.2 0l5.2 -5.2 M614.7 357.8l5.2 5.2m-5.2 0l5.2 -5.2 M566.6 347.6l5.2 5.2m-5.2 0l5.2 -5.2 M563.4 344.1l5.2 5.2m-5.2 0l5.2 -5.2 M568.9 339.6l5.2 5.2m-5.2 0l5.2 -5.2 M622.3 344l5.2 5.2m-5.2 0l5.2 -5.2 M602.7 351.6l5.2 5.2m-5.2 0l5.2 -5.2 M587.1 346.1l5.2 5.2m-5.2 0l5.2 -5.2 M622.8 350.9l5.2 5.2m-5.2 0l5.2 -5.2 M558.4 326.4l5.2 5.2m-5.2 0l5.2 -5.2 M564.4 333.4l5.2 5.2m-5.2 0l5.2 -5.2 M553.7 353.4l5.2 5.2m-5.2 0l5.2 -5.2 M552.4 320.7l5.2 5.2m-5.2 0l5.2 -5.2 M617.8 344.4l5.2 5.2m-5.2 0l5.2 -5.2 M623.9 361.6l5.2 5.2m-5.2 0l5.2 -5.2 M596.9 345.5l5.2 5.2m-5.2 0l5.2 -5.2 M552.6 331.1l5.2 5.2m-5.2 0l5.2 -5.2 M545.6 329.2l5.2 5.2m-5.2 0l5.2 -5.2 M628.3 352.6l5.2 5.2m-5.2 0l5.2 -5.2 M592 351l5.2 5.2m-5.2 0l5.2 -5.2 M581.4 342.5l5.2 5.2m-5.2 0l5.2 -5.2 M549.4 325.7l5.2 5.2m-5.2 0l5.2 -5.2 M562.8 355.3l5.2 5.2m-5.2 0l5.2 -5.2 M619.8 353.4l5.2 5.2m-5.2 0l5.2 -5.2 M553.8 323.8l5.2 5.2m-5.2 0l5.2 -5.2 M597.2 338l5.2 5.2m-5.2 0l5.2 -5.2 M558.4 350.5l5.2 5.2m-5.2 0l5.2 -5.2 M580.2 355.2l5.2 5.2m-5.2 0l5.2 -5.2 M583.4 348.9l5.2 5.2m-5.2 0l5.2 -5.2 M549.8 340.2l5.2 5.2m-5.2 0l5.2 -5.2 M578.5 358.7l5.2 5.2m-5.2 0l5.2 -5.2 M542.3 345.2l5.2 5.2m-5.2 0l5.2 -5.2 M542.2 330.2l5.2 5.2m-5.2 0l5.2 -5.2 M601.6 343.2l5.2 5.2m-5.2 0l5.2 -5.2 M588.6 341.9l5.2 5.2m-5.2 0l5.2 -5.2 M599.4 358l5.2 5.2m-5.2 0l5.2 -5.2 M561 360.1l5.2 5.2m-5.2 0l5.2 -5.2 M599.4 361.7l5.2 5.2m-5.2 0l5.2 -5.2 M536.6 340.2l5.2 5.2m-5.2 0l5.2 -5.2 M574.7 361.7l5.2 5.2m-5.2 0l5.2 -5.2 M570.2 349.1l5.2 5.2m-5.2 0l5.2 -5.2 M613.3 354.6l5.2 5.2m-5.2 0l5.2 -5.2 M623.7 356.7l5.2 5.2m-5.2 0l5.2 -5.2 M573.6 348.6l5.2 5.2m-5.2 0l5.2 -5.2 M569.7 331.4l5.2 5.2m-5.2 0l5.2 -5.2 M591 337.7l5.2 5.2m-5.2 0l5.2 -5.2 M607.7 361.3l5.2 5.2m-5.2 0l5.2 -5.2 M555.4 328.3l5.2 5.2m-5.2 0l5.2 -5.2 M534.1 335.9l5.2 5.2m-5.2 0l5.2 -5.2 M547.8 349l5.2 5.2m-5.2 0l5.2 -5.2 M575.8 342.7l5.2 5.2m-5.2 0l5.2 -5.2 M585.9 333.7l5.2 5.2m-5.2 0l5.2 -5.2 M583.5 339.9l5.2 5.2m-5.2 0l5.2 -5.2 M587.5 357.7l5.2 5.2m-5.2 0l5.2 -5.2 M564.9 351.1l5.2 5.2m-5.2 0l5.2 -5.2 M542.3 348.6l5.2 5.2m-5.2 0l5.2 -5.2 M541.2 327.1l5.2 5.2m-5.2 0l5.2 -5.2 M551 347.4l5.2 5.2m-5.2 0l5.2 -5.2 M581.9 334.9l5.2 5.2m-5.2 0l5.2 -5.2 M555.7 321.2l5.2 5.2m-5.2 0l5.2 -5.2 M546.3 345.5l5.2 5.2m-5.2 0l5.2 -5.2 M555.7 334.6l5.2 5.2m-5.2 0l5.2 -5.2 M607.7 368.8l5.2 5.2m-5.2 0l5.2 -5.2 M539.2 331.8l5.2 5.2m-5.2 0l5.2 -5.2 M572.2 368.1l5.2 5.2m-5.2 0l5.2 -5.2 M532.6 342.6l5.2 5.2m-5.2 0l5.2 -5.2 M586.7 363.5l5.2 5.2m-5.2 0l5.2 -5.2 M608.6 345.6l5.2 5.2m-5.2 0l5.2 -5.2 M536.7 325.8l5.2 5.2m-5.2 0l5.2 -5.2 M601.6 348.5l5.2 5.2m-5.2 0l5.2 -5.2 M573.4 333.5l5.2 5.2m-5.2 0l5.2 -5.2 M545.1 315.1l5.2 5.2m-5.2 0l5.2 -5.2 M537.9 345.1l5.2 5.2m-5.2 0l5.2 -5.2 M594 359.4l5.2 5.2m-5.2 0l5.2 -5.2 M611.7 363l5.2 5.2m-5.2 0l5.2 -5.2 M564.4 360.9l5.2 5.2m-5.2 0l5.2 -5.2 M570.6 353.6l5.2 5.2m-5.2 0l5.2 -5.2 M544.2 351.3l5.2 5.2m-5.2 0l5.2 -5.2 M584.3 355.8l5.2 5.2m-5.2 0l5.2 -5.2 M616.6 353.9l5.2 5.2m-5.2 0l5.2 -5.2 M609.1 358l5.2 5.2m-5.2 0l5.2 -5.2 M614.9 363.1l5.2 5.2m-5.2 0l5.2 -5.2 M544.1 342.3l5.2 5.2m-5.2 0l5.2 -5.2 M540.5 311.8l5.2 5.2m-5.2 0l5.2 -5.2 M572 345.7l5.2 5.2m-5.2 0l5.2 -5.2 M544.5 321.6l5.2 5.2m-5.2 0l5.2 -5.2 M566 341.3l5.2 5.2m-5.2 0l5.2 -5.2 M602.8 358.7l5.2 5.2m-5.2 0l5.2 -5.2 M619.7 349.1l5.2 5.2m-5.2 0l5.2 -5.2 M537.8 349.1l5.2 5.2m-5.2 0l5.2 -5.2 M580.2 300.8l5.2 5.2m-5.2 0l5.2 -5.2 M633.6 340.2l5.2 5.2m-5.2 0l5.2 -5.2 M654.1 348.6l5.2 5.2m-5.2 0l5.2 -5.2 M630.2 361.1l5.2 5.2m-5.2 0l5.2 -5.2 M655.3 370.2l5.2 5.2m-5.2 0l5.2 -5.2 M664.4 369.1l5.2 5.2m-5.2 0l5.2 -5.2 M643.9 373.6l5.2 5.2m-5.2 0l5.2 -5.2 M634.8 377.1l5.2 5.2m-5.2 0l5.2 -5.2 M587 375.9l5.2 5.2m-5.2 0l5.2 -5.2 M613.2 377.1l5.2 5.2m-5.2 0l5.2 -5.2 M584.7 386.2l5.2 5.2m-5.2 0l5.2 -5.2 M620 388.4l5.2 5.2m-5.2 0l5.2 -5.2 M631.4 389.6l5.2 5.2m-5.2 0l5.2 -5.2 M623.4 405.5l5.2 5.2m-5.2 0l5.2 -5.2 M565.4 369.1l5.2 5.2m-5.2 0l5.2 -5.2 M505.8 363.3l5.2 5.2m-5.2 0l5.2 -5.2 M513.5 353.8l5.2 5.2m-5.2 0l5.2 -5.2 M509.1 349.4l5.2 5.2m-5.2 0l5.2 -5.2 M519.1 362.6l5.2 5.2m-5.2 0l5.2 -5.2 M526.8 362.6l5.2 5.2m-5.2 0l5.2 -5.2 M523.5 354.9l5.2 5.2m-5.2 0l5.2 -5.2 M530.1 371.5l5.2 5.2m-5.2 0l5.2 -5.2 M531.2 375.9l5.2 5.2m-5.2 0l5.2 -5.2 M533.4 348.3l5.2 5.2m-5.2 0l5.2 -5.2 M483.7 383.6l5.2 5.2m-5.2 0l5.2 -5.2" stroke="#858585" stroke-width="1.15" fill="none"/><path d="M472.4 328.9h5.0v5.0h-5.0z M464.1 296.8h5.0v5.0h-5.0z M458 348.9h5.0v5.0h-5.0z M481.4 235.4h5.0v5.0h-5.0z M492.9 238.4h5.0v5.0h-5.0z M472.3 339h5.0v5.0h-5.0z M497.1 276.9h5.0v5.0h-5.0z M486.7 268.7h5.0v5.0h-5.0z M465.2 324.6h5.0v5.0h-5.0z M463.1 332.6h5.0v5.0h-5.0z M490 279.6h5.0v5.0h-5.0z M482.2 218.4h5.0v5.0h-5.0z M482.1 303.9h5.0v5.0h-5.0z M479.8 249h5.0v5.0h-5.0z M464.3 339.2h5.0v5.0h-5.0z M498.1 268.9h5.0v5.0h-5.0z M451.3 349.1h5.0v5.0h-5.0z M489.2 225.5h5.0v5.0h-5.0z M487.1 240.1h5.0v5.0h-5.0z M480.1 263.5h5.0v5.0h-5.0z M477 324h5.0v5.0h-5.0z M492.8 233.8h5.0v5.0h-5.0z M489.4 252.2h5.0v5.0h-5.0z M459.1 324.6h5.0v5.0h-5.0z M464.7 348h5.0v5.0h-5.0z M476.4 234.8h5.0v5.0h-5.0z M466.8 304.2h5.0v5.0h-5.0z M480.6 268.9h5.0v5.0h-5.0z M474 265.4h5.0v5.0h-5.0z M461.1 345.3h5.0v5.0h-5.0z M472.4 291h5.0v5.0h-5.0z M478.5 294.5h5.0v5.0h-5.0z M473.9 345.5h5.0v5.0h-5.0z M479.2 239.4h5.0v5.0h-5.0z M464.8 360.2h5.0v5.0h-5.0z M484 258.1h5.0v5.0h-5.0z M477.2 328.5h5.0v5.0h-5.0z M488.3 232.1h5.0v5.0h-5.0z M491.1 286.7h5.0v5.0h-5.0z M481.8 282.5h5.0v5.0h-5.0z M497.4 293.7h5.0v5.0h-5.0z M475.7 299.3h5.0v5.0h-5.0z M491.6 273.8h5.0v5.0h-5.0z M457 334.1h5.0v5.0h-5.0z M464.8 253h5.0v5.0h-5.0z M493.7 244h5.0v5.0h-5.0z M477 285.2h5.0v5.0h-5.0z M472.7 273.6h5.0v5.0h-5.0z M458.1 358.9h5.0v5.0h-5.0z M493.6 224.2h5.0v5.0h-5.0z M471.4 257.6h5.0v5.0h-5.0z M472.6 231.3h5.0v5.0h-5.0z M473.9 303.7h5.0v5.0h-5.0z M487.4 261h5.0v5.0h-5.0z M500.1 280.2h5.0v5.0h-5.0z M488.1 215.8h5.0v5.0h-5.0z M483.5 309.9h5.0v5.0h-5.0z M472.9 319.7h5.0v5.0h-5.0z M485.9 286.2h5.0v5.0h-5.0z M470.9 314.5h5.0v5.0h-5.0z M485.2 228.4h5.0v5.0h-5.0z M468.3 278.9h5.0v5.0h-5.0z M473.8 308.2h5.0v5.0h-5.0z M485 292.6h5.0v5.0h-5.0z M492.1 266.7h5.0v5.0h-5.0z M481.6 333.2h5.0v5.0h-5.0z M454.4 361.5h5.0v5.0h-5.0z M478.2 227.4h5.0v5.0h-5.0z M473.2 281.5h5.0v5.0h-5.0z M481.7 321.1h5.0v5.0h-5.0z M492 302.6h5.0v5.0h-5.0z M487.9 297.6h5.0v5.0h-5.0z M495.6 283.5h5.0v5.0h-5.0z M469.6 356.5h5.0v5.0h-5.0z M474.1 240.7h5.0v5.0h-5.0z M469.4 300h5.0v5.0h-5.0z M478.3 258.2h5.0v5.0h-5.0z M486.7 318.7h5.0v5.0h-5.0z M478.6 275h5.0v5.0h-5.0z M483.4 273.8h5.0v5.0h-5.0z M488.6 328.2h5.0v5.0h-5.0z M464.8 262h5.0v5.0h-5.0z M494.7 262.8h5.0v5.0h-5.0z M493.3 256.3h5.0v5.0h-5.0z M475.8 336.2h5.0v5.0h-5.0z M471.3 247.3h5.0v5.0h-5.0z M464.3 313.6h5.0v5.0h-5.0z M466.9 283.3h5.0v5.0h-5.0z M481.7 213.9h5.0v5.0h-5.0z M478.1 315.4h5.0v5.0h-5.0z M493.3 249.8h5.0v5.0h-5.0z M498.6 258.7h5.0v5.0h-5.0z M485.9 245.6h5.0v5.0h-5.0z M482.7 223.7h5.0v5.0h-5.0z M464.4 354.4h5.0v5.0h-5.0z M454.4 355.5h5.0v5.0h-5.0z M461.4 363.1h5.0v5.0h-5.0z M462.7 271.5h5.0v5.0h-5.0z M457.4 365.2h5.0v5.0h-5.0z M498.6 238.2h5.0v5.0h-5.0z M467.2 291.6h5.0v5.0h-5.0z M467.1 343.6h5.0v5.0h-5.0z M459.5 353.6h5.0v5.0h-5.0z M469.7 334.8h5.0v5.0h-5.0z M497.8 254.1h5.0v5.0h-5.0z M482.8 297.5h5.0v5.0h-5.0z M494.7 228.7h5.0v5.0h-5.0z M469.6 350.4h5.0v5.0h-5.0z M456.1 340.8h5.0v5.0h-5.0z M475.9 253.1h5.0v5.0h-5.0z M470.4 236.1h5.0v5.0h-5.0z M490.5 312.4h5.0v5.0h-5.0z M460.7 301h5.0v5.0h-5.0z M467.2 310.1h5.0v5.0h-5.0z M501.2 265.5h5.0v5.0h-5.0z M478.2 279.6h5.0v5.0h-5.0z M493.1 296h5.0v5.0h-5.0z M460.8 308.3h5.0v5.0h-5.0z M470.1 324.2h5.0v5.0h-5.0z M490.8 317.3h5.0v5.0h-5.0z M489.2 307.2h5.0v5.0h-5.0z M481.2 287.4h5.0v5.0h-5.0z M500.4 250.1h5.0v5.0h-5.0z M458.9 315.7h5.0v5.0h-5.0z M467.1 319h5.0v5.0h-5.0z M475.9 246h5.0v5.0h-5.0z M468.7 270.8h5.0v5.0h-5.0z M478.7 309.4h5.0v5.0h-5.0z M470.2 286.5h5.0v5.0h-5.0z M486.6 220.8h5.0v5.0h-5.0z M480.9 253.7h5.0v5.0h-5.0z M496.9 300.1h5.0v5.0h-5.0z M479.7 342.2h5.0v5.0h-5.0z M467.3 330.4h5.0v5.0h-5.0z M482.2 337.8h5.0v5.0h-5.0z M459.6 291.3h5.0v5.0h-5.0z M502.7 275.1h5.0v5.0h-5.0z M503.3 257.3h5.0v5.0h-5.0z M485.4 324.9h5.0v5.0h-5.0z M475.9 353.2h5.0v5.0h-5.0z M493.6 320.8h5.0v5.0h-5.0z M500.5 284.7h5.0v5.0h-5.0z M469.7 261.9h5.0v5.0h-5.0z M478.7 347.9h5.0v5.0h-5.0z M451.2 341.4h5.0v5.0h-5.0z M482.7 314.4h5.0v5.0h-5.0z M493.7 307.7h5.0v5.0h-5.0z M455 345.1h5.0v5.0h-5.0z M485.8 277.9h5.0v5.0h-5.0z M462.5 284.2h5.0v5.0h-5.0z M489.9 292.9h5.0v5.0h-5.0z M460.5 329h5.0v5.0h-5.0z M474.7 224.3h5.0v5.0h-5.0z M462.6 319.6h5.0v5.0h-5.0z M497.2 247h5.0v5.0h-5.0z M471.9 296.3h5.0v5.0h-5.0z M501.3 298.9h5.0v5.0h-5.0z M492.1 219.4h5.0v5.0h-5.0z M500.5 289.4h5.0v5.0h-5.0z M499.6 228.6h5.0v5.0h-5.0z M477.6 209.9h5.0v5.0h-5.0z M511.9 338h5.0v5.0h-5.0z M487.1 342.1h5.0v5.0h-5.0z M492.5 354.5h5.0v5.0h-5.0z M481.5 357.5h5.0v5.0h-5.0z M456.8 362.8h5.0v5.0h-5.0z" fill="#b2b2b2" stroke="#8a8a8a" stroke-width="0.8"/><path d="M473.4 366.6h5.2v5.2h-5.2z M478.2 377.7h5.2v5.2h-5.2z M490.4 387.4h5.2v5.2h-5.2z M472.3 391.3h5.2v5.2h-5.2z M475.4 405.7h5.2v5.2h-5.2z M480.9 405.7h5.2v5.2h-5.2z M485.5 412.3h5.2v5.2h-5.2z" fill="none" stroke="#111" stroke-width="1.2"/><path d="M536 213 L546 225 L552 234 L552 318 L511 318 L512 295 L515 268 L521 246 L528 228z" fill="#b8b8b8"/><path d="M536 247.4l1.9 2.8l-1.9 2.8l-1.9 -2.8z M524.8 272.2l1.9 2.8l-1.9 2.8l-1.9 -2.8z M532.5 253l1.9 2.8l-1.9 2.8l-1.9 -2.8z M519.4 310.1l1.9 2.8l-1.9 2.8l-1.9 -2.8z M530.6 244.3l1.9 2.8l-1.9 2.8l-1.9 -2.8z M531.6 270.8l1.9 2.8l-1.9 2.8l-1.9 -2.8z M547.7 300.6l1.9 2.8l-1.9 2.8l-1.9 -2.8z M542.8 308.9l1.9 2.8l-1.9 2.8l-1.9 -2.8z M517.5 283.9l1.9 2.8l-1.9 2.8l-1.9 -2.8z M524.1 261.3l1.9 2.8l-1.9 2.8l-1.9 -2.8z M520.6 284.4l1.9 2.8l-1.9 2.8l-1.9 -2.8z M539 253.7l1.9 2.8l-1.9 2.8l-1.9 -2.8z M538.4 229.5l1.9 2.8l-1.9 2.8l-1.9 -2.8z M532 223.3l1.9 2.8l-1.9 2.8l-1.9 -2.8z M525.9 236.7l1.9 2.8l-1.9 2.8l-1.9 -2.8z M532.6 314.3l1.9 2.8l-1.9 2.8l-1.9 -2.8z M533.5 273.5l1.9 2.8l-1.9 2.8l-1.9 -2.8z M537.4 296.6l1.9 2.8l-1.9 2.8l-1.9 -2.8z M536.5 244.4l1.9 2.8l-1.9 2.8l-1.9 -2.8z M544.5 272.1l1.9 2.8l-1.9 2.8l-1.9 -2.8z M529.7 229.5l1.9 2.8l-1.9 2.8l-1.9 -2.8z M515.2 304.9l1.9 2.8l-1.9 2.8l-1.9 -2.8z M542 312l1.9 2.8l-1.9 2.8l-1.9 -2.8z M539.5 234l1.9 2.8l-1.9 2.8l-1.9 -2.8z M515.6 277.5l1.9 2.8l-1.9 2.8l-1.9 -2.8z M530.2 285.2l1.9 2.8l-1.9 2.8l-1.9 -2.8z M547.9 249.4l1.9 2.8l-1.9 2.8l-1.9 -2.8z M542.8 244.5l1.9 2.8l-1.9 2.8l-1.9 -2.8z M522.5 303.5l1.9 2.8l-1.9 2.8l-1.9 -2.8z M524.6 281.3l1.9 2.8l-1.9 2.8l-1.9 -2.8z M518.8 260.8l1.9 2.8l-1.9 2.8l-1.9 -2.8z M534.3 290.4l1.9 2.8l-1.9 2.8l-1.9 -2.8z M535.8 263.5l1.9 2.8l-1.9 2.8l-1.9 -2.8z M539.9 257.1l1.9 2.8l-1.9 2.8l-1.9 -2.8z M550.1 252.8l1.9 2.8l-1.9 2.8l-1.9 -2.8z M548.7 312.3l1.9 2.8l-1.9 2.8l-1.9 -2.8z M524.4 291.3l1.9 2.8l-1.9 2.8l-1.9 -2.8z M525.7 310.7l1.9 2.8l-1.9 2.8l-1.9 -2.8z M550.5 262.9l1.9 2.8l-1.9 2.8l-1.9 -2.8z M532.6 287.9l1.9 2.8l-1.9 2.8l-1.9 -2.8z M551.1 260.4l1.9 2.8l-1.9 2.8l-1.9 -2.8z M519.2 299.7l1.9 2.8l-1.9 2.8l-1.9 -2.8z M537.2 313.5l1.9 2.8l-1.9 2.8l-1.9 -2.8z M540.8 263.6l1.9 2.8l-1.9 2.8l-1.9 -2.8z M518.3 312.9l1.9 2.8l-1.9 2.8l-1.9 -2.8z M534.5 224.1l1.9 2.8l-1.9 2.8l-1.9 -2.8z M519.8 305.3l1.9 2.8l-1.9 2.8l-1.9 -2.8z M516.1 308.1l1.9 2.8l-1.9 2.8l-1.9 -2.8z M538.6 249.1l1.9 2.8l-1.9 2.8l-1.9 -2.8z M514.3 273.4l1.9 2.8l-1.9 2.8l-1.9 -2.8z M526.4 252.2l1.9 2.8l-1.9 2.8l-1.9 -2.8z M524.1 241.1l1.9 2.8l-1.9 2.8l-1.9 -2.8z M546.4 302.5l1.9 2.8l-1.9 2.8l-1.9 -2.8z M545.2 265.3l1.9 2.8l-1.9 2.8l-1.9 -2.8z M540.1 240.1l1.9 2.8l-1.9 2.8l-1.9 -2.8z M544 253.4l1.9 2.8l-1.9 2.8l-1.9 -2.8z M512.8 300.3l1.9 2.8l-1.9 2.8l-1.9 -2.8z M513.8 314.8l1.9 2.8l-1.9 2.8l-1.9 -2.8z M532 262.2l1.9 2.8l-1.9 2.8l-1.9 -2.8z M533.1 265.9l1.9 2.8l-1.9 2.8l-1.9 -2.8z M543.8 298.7l1.9 2.8l-1.9 2.8l-1.9 -2.8z M528.4 260.1l1.9 2.8l-1.9 2.8l-1.9 -2.8z M539.9 282.6l1.9 2.8l-1.9 2.8l-1.9 -2.8z M542.6 228.9l1.9 2.8l-1.9 2.8l-1.9 -2.8z M528.7 273.8l1.9 2.8l-1.9 2.8l-1.9 -2.8z M551.2 256.5l1.9 2.8l-1.9 2.8l-1.9 -2.8z M538.1 291.3l1.9 2.8l-1.9 2.8l-1.9 -2.8z M533.8 282.2l1.9 2.8l-1.9 2.8l-1.9 -2.8z M540.8 293.7l1.9 2.8l-1.9 2.8l-1.9 -2.8z M523.9 296.8l1.9 2.8l-1.9 2.8l-1.9 -2.8z M528.7 297.5l1.9 2.8l-1.9 2.8l-1.9 -2.8z M543.9 231.1l1.9 2.8l-1.9 2.8l-1.9 -2.8z M537.6 223.1l1.9 2.8l-1.9 2.8l-1.9 -2.8z M541.7 273.5l1.9 2.8l-1.9 2.8l-1.9 -2.8z M548.7 260.2l1.9 2.8l-1.9 2.8l-1.9 -2.8z M548.1 256.6l1.9 2.8l-1.9 2.8l-1.9 -2.8z M524.2 247.2l1.9 2.8l-1.9 2.8l-1.9 -2.8z M518.8 288.9l1.9 2.8l-1.9 2.8l-1.9 -2.8z M536.8 282.8l1.9 2.8l-1.9 2.8l-1.9 -2.8z M532 299.4l1.9 2.8l-1.9 2.8l-1.9 -2.8z M526.5 265.4l1.9 2.8l-1.9 2.8l-1.9 -2.8z M530.5 305.4l1.9 2.8l-1.9 2.8l-1.9 -2.8z M531.3 291.2l1.9 2.8l-1.9 2.8l-1.9 -2.8z M547.5 284l1.9 2.8l-1.9 2.8l-1.9 -2.8z M546.9 266.9l1.9 2.8l-1.9 2.8l-1.9 -2.8z M533.6 296.3l1.9 2.8l-1.9 2.8l-1.9 -2.8z M548.8 288.3l1.9 2.8l-1.9 2.8l-1.9 -2.8z M527.8 239.3l1.9 2.8l-1.9 2.8l-1.9 -2.8z M526.3 258.7l1.9 2.8l-1.9 2.8l-1.9 -2.8z M549.2 280l1.9 2.8l-1.9 2.8l-1.9 -2.8z M545.6 229.6l1.9 2.8l-1.9 2.8l-1.9 -2.8z M526.8 294.2l1.9 2.8l-1.9 2.8l-1.9 -2.8z M544.8 288.5l1.9 2.8l-1.9 2.8l-1.9 -2.8z M547.5 307.8l1.9 2.8l-1.9 2.8l-1.9 -2.8z M524.8 269l1.9 2.8l-1.9 2.8l-1.9 -2.8z M520.4 266.4l1.9 2.8l-1.9 2.8l-1.9 -2.8z M514 297.1l1.9 2.8l-1.9 2.8l-1.9 -2.8z M542.1 279.3l1.9 2.8l-1.9 2.8l-1.9 -2.8z M513.4 281.5l1.9 2.8l-1.9 2.8l-1.9 -2.8z M539 298.8l1.9 2.8l-1.9 2.8l-1.9 -2.8z M545.7 292.8l1.9 2.8l-1.9 2.8l-1.9 -2.8z M547.2 241.5l1.9 2.8l-1.9 2.8l-1.9 -2.8z M534.1 277.2l1.9 2.8l-1.9 2.8l-1.9 -2.8z M551.1 301.2l1.9 2.8l-1.9 2.8l-1.9 -2.8z M528.9 309.7l1.9 2.8l-1.9 2.8l-1.9 -2.8z M550.3 277.3l1.9 2.8l-1.9 2.8l-1.9 -2.8z M528 301.6l1.9 2.8l-1.9 2.8l-1.9 -2.8z M517.5 280.1l1.9 2.8l-1.9 2.8l-1.9 -2.8z M536 256.4l1.9 2.8l-1.9 2.8l-1.9 -2.8z M543.2 306.4l1.9 2.8l-1.9 2.8l-1.9 -2.8z M544.3 281.6l1.9 2.8l-1.9 2.8l-1.9 -2.8z M521.8 245.2l1.9 2.8l-1.9 2.8l-1.9 -2.8z M547.1 244.6l1.9 2.8l-1.9 2.8l-1.9 -2.8z M545.6 239.5l1.9 2.8l-1.9 2.8l-1.9 -2.8z M546.4 225.1l1.9 2.8l-1.9 2.8l-1.9 -2.8z M546.4 312.5l1.9 2.8l-1.9 2.8l-1.9 -2.8z M546.6 275.8l1.9 2.8l-1.9 2.8l-1.9 -2.8z M528.6 277.6l1.9 2.8l-1.9 2.8l-1.9 -2.8z M542.9 285.4l1.9 2.8l-1.9 2.8l-1.9 -2.8z M542.5 265.3l1.9 2.8l-1.9 2.8l-1.9 -2.8z M534 310l1.9 2.8l-1.9 2.8l-1.9 -2.8z M536.6 286.3l1.9 2.8l-1.9 2.8l-1.9 -2.8z M541.5 255.1l1.9 2.8l-1.9 2.8l-1.9 -2.8z M533.5 244.3l1.9 2.8l-1.9 2.8l-1.9 -2.8z M530.4 301.6l1.9 2.8l-1.9 2.8l-1.9 -2.8z M536.6 214.1l1.9 2.8l-1.9 2.8l-1.9 -2.8z M529.8 224.7l1.9 2.8l-1.9 2.8l-1.9 -2.8z M523.3 285.2l1.9 2.8l-1.9 2.8l-1.9 -2.8z M519.6 294.1l1.9 2.8l-1.9 2.8l-1.9 -2.8z M526.2 245.5l1.9 2.8l-1.9 2.8l-1.9 -2.8z M551.3 246.7l1.9 2.8l-1.9 2.8l-1.9 -2.8z M516.9 267.3l1.9 2.8l-1.9 2.8l-1.9 -2.8z M528.9 241.4l1.9 2.8l-1.9 2.8l-1.9 -2.8z M541.7 236.8l1.9 2.8l-1.9 2.8l-1.9 -2.8z M517.6 273.6l1.9 2.8l-1.9 2.8l-1.9 -2.8z M521.8 278.3l1.9 2.8l-1.9 2.8l-1.9 -2.8z M531.7 236.3l1.9 2.8l-1.9 2.8l-1.9 -2.8z M532.8 250l1.9 2.8l-1.9 2.8l-1.9 -2.8z M538.2 288.6l1.9 2.8l-1.9 2.8l-1.9 -2.8z M535.9 219.4l1.9 2.8l-1.9 2.8l-1.9 -2.8z M525.9 304.1l1.9 2.8l-1.9 2.8l-1.9 -2.8z M547.4 237.1l1.9 2.8l-1.9 2.8l-1.9 -2.8z M527.4 279.6l1.9 2.8l-1.9 2.8l-1.9 -2.8z M547.3 270.8l1.9 2.8l-1.9 2.8l-1.9 -2.8z M550.1 294.6l1.9 2.8l-1.9 2.8l-1.9 -2.8z M539 259.7l1.9 2.8l-1.9 2.8l-1.9 -2.8z M551.1 308.7l1.9 2.8l-1.9 2.8l-1.9 -2.8z M513.2 308l1.9 2.8l-1.9 2.8l-1.9 -2.8z M532 242.3l1.9 2.8l-1.9 2.8l-1.9 -2.8z M548.8 228.9l1.9 2.8l-1.9 2.8l-1.9 -2.8z M530.8 264.6l1.9 2.8l-1.9 2.8l-1.9 -2.8z M520.7 249.5l1.9 2.8l-1.9 2.8l-1.9 -2.8z M541.2 277.2l1.9 2.8l-1.9 2.8l-1.9 -2.8z M528.9 256.7l1.9 2.8l-1.9 2.8l-1.9 -2.8z M549.5 231.2l1.9 2.8l-1.9 2.8l-1.9 -2.8z M534.8 239.5l1.9 2.8l-1.9 2.8l-1.9 -2.8z M531.1 310.7l1.9 2.8l-1.9 2.8l-1.9 -2.8z M537.3 216.4l1.9 2.8l-1.9 2.8l-1.9 -2.8z M521.7 271.4l1.9 2.8l-1.9 2.8l-1.9 -2.8z M538.2 304.6l1.9 2.8l-1.9 2.8l-1.9 -2.8z M537.2 233.4l1.9 2.8l-1.9 2.8l-1.9 -2.8z M536 267.1l1.9 2.8l-1.9 2.8l-1.9 -2.8z M527.4 289.2l1.9 2.8l-1.9 2.8l-1.9 -2.8z M523.7 265.1l1.9 2.8l-1.9 2.8l-1.9 -2.8z M534.2 214.1l1.9 2.8l-1.9 2.8l-1.9 -2.8z M537 309.4l1.9 2.8l-1.9 2.8l-1.9 -2.8z M540.7 269.9l1.9 2.8l-1.9 2.8l-1.9 -2.8z M517.6 255.8l1.9 2.8l-1.9 2.8l-1.9 -2.8z M518.4 277.3l1.9 2.8l-1.9 2.8l-1.9 -2.8z M549.3 303.6l1.9 2.8l-1.9 2.8l-1.9 -2.8z M515.2 270.3l1.9 2.8l-1.9 2.8l-1.9 -2.8z M539.3 274.7l1.9 2.8l-1.9 2.8l-1.9 -2.8z M514.7 285.7l1.9 2.8l-1.9 2.8l-1.9 -2.8z M535 300.6l1.9 2.8l-1.9 2.8l-1.9 -2.8z M531.5 280.7l1.9 2.8l-1.9 2.8l-1.9 -2.8z M543.8 267.4l1.9 2.8l-1.9 2.8l-1.9 -2.8z M549.4 239.4l1.9 2.8l-1.9 2.8l-1.9 -2.8z M531.2 233l1.9 2.8l-1.9 2.8l-1.9 -2.8z M519.4 286.6l1.9 2.8l-1.9 2.8l-1.9 -2.8z M541.3 218.5l1.9 2.8l-1.9 2.8l-1.9 -2.8z M551.9 285l1.9 2.8l-1.9 2.8l-1.9 -2.8z M537.9 307.1l1.9 2.8l-1.9 2.8l-1.9 -2.8z M527.3 283.4l1.9 2.8l-1.9 2.8l-1.9 -2.8z M535.5 279.2l1.9 2.8l-1.9 2.8l-1.9 -2.8z M537 269.7l1.9 2.8l-1.9 2.8l-1.9 -2.8z M516 261.7l1.9 2.8l-1.9 2.8l-1.9 -2.8z M527 314.5l1.9 2.8l-1.9 2.8l-1.9 -2.8z M538.8 245.3l1.9 2.8l-1.9 2.8l-1.9 -2.8z M517.6 270.6l1.9 2.8l-1.9 2.8l-1.9 -2.8z M540.1 296.8l1.9 2.8l-1.9 2.8l-1.9 -2.8z M550.7 235.8l1.9 2.8l-1.9 2.8l-1.9 -2.8z M538.1 272.1l1.9 2.8l-1.9 2.8l-1.9 -2.8z M539.9 302.7l1.9 2.8l-1.9 2.8l-1.9 -2.8z M527.8 254.2l1.9 2.8l-1.9 2.8l-1.9 -2.8z M534.5 284.4l1.9 2.8l-1.9 2.8l-1.9 -2.8z M551.5 272.7l1.9 2.8l-1.9 2.8l-1.9 -2.8z M532.4 259.5l1.9 2.8l-1.9 2.8l-1.9 -2.8z M544.6 246l1.9 2.8l-1.9 2.8l-1.9 -2.8z M523.9 294l1.9 2.8l-1.9 2.8l-1.9 -2.8z M534 293.9l1.9 2.8l-1.9 2.8l-1.9 -2.8z M545 262.9l1.9 2.8l-1.9 2.8l-1.9 -2.8z M522.2 310.2l1.9 2.8l-1.9 2.8l-1.9 -2.8z M518.4 253.3l1.9 2.8l-1.9 2.8l-1.9 -2.8z M543.3 222.7l1.9 2.8l-1.9 2.8l-1.9 -2.8z M537.2 236.7l1.9 2.8l-1.9 2.8l-1.9 -2.8z M522.8 258.6l1.9 2.8l-1.9 2.8l-1.9 -2.8z M536.1 259.4l1.9 2.8l-1.9 2.8l-1.9 -2.8z M540.5 243.6l1.9 2.8l-1.9 2.8l-1.9 -2.8z M552 265.7l1.9 2.8l-1.9 2.8l-1.9 -2.8z M526.2 286.7l1.9 2.8l-1.9 2.8l-1.9 -2.8z M524.8 299.5l1.9 2.8l-1.9 2.8l-1.9 -2.8z M533 247l1.9 2.8l-1.9 2.8l-1.9 -2.8z M551 290.1l1.9 2.8l-1.9 2.8l-1.9 -2.8z M532.5 255.7l1.9 2.8l-1.9 2.8l-1.9 -2.8z M532.4 218.9l1.9 2.8l-1.9 2.8l-1.9 -2.8z M529.8 222.2l1.9 2.8l-1.9 2.8l-1.9 -2.8z M515.8 301.7l1.9 2.8l-1.9 2.8l-1.9 -2.8z M526.3 276.4l1.9 2.8l-1.9 2.8l-1.9 -2.8z M544.2 259.6l1.9 2.8l-1.9 2.8l-1.9 -2.8z M534.1 220.9l1.9 2.8l-1.9 2.8l-1.9 -2.8z M537.6 251.8l1.9 2.8l-1.9 2.8l-1.9 -2.8z M539.7 311.9l1.9 2.8l-1.9 2.8l-1.9 -2.8z M519.9 291.3l1.9 2.8l-1.9 2.8l-1.9 -2.8z M529.1 248.3l1.9 2.8l-1.9 2.8l-1.9 -2.8z M519.7 257.9l1.9 2.8l-1.9 2.8l-1.9 -2.8z M521.2 260.5l1.9 2.8l-1.9 2.8l-1.9 -2.8z M514.4 292.6l1.9 2.8l-1.9 2.8l-1.9 -2.8z M545.7 222.6l1.9 2.8l-1.9 2.8l-1.9 -2.8z M535 270.9l1.9 2.8l-1.9 2.8l-1.9 -2.8z M524.9 250.2l1.9 2.8l-1.9 2.8l-1.9 -2.8z M534.9 253.5l1.9 2.8l-1.9 2.8l-1.9 -2.8z M551.7 232.4l1.9 2.8l-1.9 2.8l-1.9 -2.8z M540.9 267.4l1.9 2.8l-1.9 2.8l-1.9 -2.8z M544.1 296.3l1.9 2.8l-1.9 2.8l-1.9 -2.8z M550.1 298.8l1.9 2.8l-1.9 2.8l-1.9 -2.8z M518.4 264.5l1.9 2.8l-1.9 2.8l-1.9 -2.8z M534.4 217.1l1.9 2.8l-1.9 2.8l-1.9 -2.8z M521.3 307.2l1.9 2.8l-1.9 2.8l-1.9 -2.8z M521 263.2l1.9 2.8l-1.9 2.8l-1.9 -2.8z M534.3 227.9l1.9 2.8l-1.9 2.8l-1.9 -2.8z M517.3 292.6l1.9 2.8l-1.9 2.8l-1.9 -2.8z M521.8 314.4l1.9 2.8l-1.9 2.8l-1.9 -2.8z M524.6 314.1l1.9 2.8l-1.9 2.8l-1.9 -2.8z M546 232.2l1.9 2.8l-1.9 2.8l-1.9 -2.8z M547 297.2l1.9 2.8l-1.9 2.8l-1.9 -2.8z M551.5 287.7l1.9 2.8l-1.9 2.8l-1.9 -2.8z M543.1 234.4l1.9 2.8l-1.9 2.8l-1.9 -2.8z M527 268.1l1.9 2.8l-1.9 2.8l-1.9 -2.8z M547.7 253.8l1.9 2.8l-1.9 2.8l-1.9 -2.8z M536.8 293.4l1.9 2.8l-1.9 2.8l-1.9 -2.8z M540.4 309.7l1.9 2.8l-1.9 2.8l-1.9 -2.8z M529.5 262.1l1.9 2.8l-1.9 2.8l-1.9 -2.8z M539 278.2l1.9 2.8l-1.9 2.8l-1.9 -2.8z M542.3 247.5l1.9 2.8l-1.9 2.8l-1.9 -2.8z M520.5 296.7l1.9 2.8l-1.9 2.8l-1.9 -2.8z M516.9 297.3l1.9 2.8l-1.9 2.8l-1.9 -2.8z M540 224.5l1.9 2.8l-1.9 2.8l-1.9 -2.8z M534.5 305.1l1.9 2.8l-1.9 2.8l-1.9 -2.8z M535 232.1l1.9 2.8l-1.9 2.8l-1.9 -2.8z M549.9 244.2l1.9 2.8l-1.9 2.8l-1.9 -2.8z M529 266.7l1.9 2.8l-1.9 2.8l-1.9 -2.8z M522.5 287.7l1.9 2.8l-1.9 2.8l-1.9 -2.8z M515.2 265.7l1.9 2.8l-1.9 2.8l-1.9 -2.8z M542.3 291.4l1.9 2.8l-1.9 2.8l-1.9 -2.8z M537.7 239l1.9 2.8l-1.9 2.8l-1.9 -2.8z M521.9 242.1l1.9 2.8l-1.9 2.8l-1.9 -2.8z M541.5 315.1l1.9 2.8l-1.9 2.8l-1.9 -2.8z M515.4 290.3l1.9 2.8l-1.9 2.8l-1.9 -2.8z M545.6 315.1l1.9 2.8l-1.9 2.8l-1.9 -2.8z M533.5 268.7l1.9 2.8l-1.9 2.8l-1.9 -2.8z M541.2 299.8l1.9 2.8l-1.9 2.8l-1.9 -2.8z M529.1 292.5l1.9 2.8l-1.9 2.8l-1.9 -2.8z M536.8 227.1l1.9 2.8l-1.9 2.8l-1.9 -2.8z M532 227.9l1.9 2.8l-1.9 2.8l-1.9 -2.8z M517.3 303.7l1.9 2.8l-1.9 2.8l-1.9 -2.8z M551.5 249.8l1.9 2.8l-1.9 2.8l-1.9 -2.8z M541.9 260.2l1.9 2.8l-1.9 2.8l-1.9 -2.8z M524 308.7l1.9 2.8l-1.9 2.8l-1.9 -2.8z M542.6 238.9l1.9 2.8l-1.9 2.8l-1.9 -2.8z M522.2 273.8l1.9 2.8l-1.9 2.8l-1.9 -2.8z M530.5 295l1.9 2.8l-1.9 2.8l-1.9 -2.8z M547.3 310.2l1.9 2.8l-1.9 2.8l-1.9 -2.8z M520.9 301.6l1.9 2.8l-1.9 2.8l-1.9 -2.8z M550.4 282.7l1.9 2.8l-1.9 2.8l-1.9 -2.8z M518.9 268.6l1.9 2.8l-1.9 2.8l-1.9 -2.8z M521.1 254.6l1.9 2.8l-1.9 2.8l-1.9 -2.8z M524.7 255.7l1.9 2.8l-1.9 2.8l-1.9 -2.8z M532.8 230.7l1.9 2.8l-1.9 2.8l-1.9 -2.8z M534.4 236.9l1.9 2.8l-1.9 2.8l-1.9 -2.8z M519.4 282.3l1.9 2.8l-1.9 2.8l-1.9 -2.8z M527.5 228.7l1.9 2.8l-1.9 2.8l-1.9 -2.8z M544.5 278l1.9 2.8l-1.9 2.8l-1.9 -2.8z M512.2 312.7l1.9 2.8l-1.9 2.8l-1.9 -2.8z M546.5 290.2l1.9 2.8l-1.9 2.8l-1.9 -2.8z M544.3 226.4l1.9 2.8l-1.9 2.8l-1.9 -2.8z M549.6 266l1.9 2.8l-1.9 2.8l-1.9 -2.8z M544.8 242.2l1.9 2.8l-1.9 2.8l-1.9 -2.8z M537.1 211.7l1.9 2.8l-1.9 2.8l-1.9 -2.8z M525.7 231.2l1.9 2.8l-1.9 2.8l-1.9 -2.8z M550 241.8l1.9 2.8l-1.9 2.8l-1.9 -2.8z M551.2 313.1l1.9 2.8l-1.9 2.8l-1.9 -2.8z M530.9 278l1.9 2.8l-1.9 2.8l-1.9 -2.8z M537.3 300.4l1.9 2.8l-1.9 2.8l-1.9 -2.8z M528.1 305.8l1.9 2.8l-1.9 2.8l-1.9 -2.8z M531.5 275.6l1.9 2.8l-1.9 2.8l-1.9 -2.8z M535.2 249.9l1.9 2.8l-1.9 2.8l-1.9 -2.8z M515.6 311.5l1.9 2.8l-1.9 2.8l-1.9 -2.8z M551.7 304.3l1.9 2.8l-1.9 2.8l-1.9 -2.8z M543.6 275.6l1.9 2.8l-1.9 2.8l-1.9 -2.8z M529.2 269l1.9 2.8l-1.9 2.8l-1.9 -2.8z M522.7 252.5l1.9 2.8l-1.9 2.8l-1.9 -2.8z M540.6 287.9l1.9 2.8l-1.9 2.8l-1.9 -2.8z M547.4 305.2l1.9 2.8l-1.9 2.8l-1.9 -2.8z M512.7 303.7l1.9 2.8l-1.9 2.8l-1.9 -2.8z M543.1 256.8l1.9 2.8l-1.9 2.8l-1.9 -2.8z M533.2 302.9l1.9 2.8l-1.9 2.8l-1.9 -2.8z M542.9 250.1l1.9 2.8l-1.9 2.8l-1.9 -2.8z M539.3 214.9l1.9 2.8l-1.9 2.8l-1.9 -2.8z M550.9 269.6l1.9 2.8l-1.9 2.8l-1.9 -2.8z M548.4 274.1l1.9 2.8l-1.9 2.8l-1.9 -2.8z M533.8 234.4l1.9 2.8l-1.9 2.8l-1.9 -2.8z M538.1 262.5l1.9 2.8l-1.9 2.8l-1.9 -2.8z M539.8 221.1l1.9 2.8l-1.9 2.8l-1.9 -2.8z M529 226.9l1.9 2.8l-1.9 2.8l-1.9 -2.8z M515.3 283.2l1.9 2.8l-1.9 2.8l-1.9 -2.8z M533.6 307.5l1.9 2.8l-1.9 2.8l-1.9 -2.8z M527.4 233.7l1.9 2.8l-1.9 2.8l-1.9 -2.8z M516.6 287.5l1.9 2.8l-1.9 2.8l-1.9 -2.8z M537.5 241.6l1.9 2.8l-1.9 2.8l-1.9 -2.8z M540.5 228l1.9 2.8l-1.9 2.8l-1.9 -2.8z M524.7 289l1.9 2.8l-1.9 2.8l-1.9 -2.8z M516.8 314.8l1.9 2.8l-1.9 2.8l-1.9 -2.8z M540.7 230.6l1.9 2.8l-1.9 2.8l-1.9 -2.8z M545 236.2l1.9 2.8l-1.9 2.8l-1.9 -2.8z M527.2 243.1l1.9 2.8l-1.9 2.8l-1.9 -2.8z M522 281.9l1.9 2.8l-1.9 2.8l-1.9 -2.8z M525.1 278.8l1.9 2.8l-1.9 2.8l-1.9 -2.8z M526.7 291.9l1.9 2.8l-1.9 2.8l-1.9 -2.8z M551.3 296.7l1.9 2.8l-1.9 2.8l-1.9 -2.8z M539 285l1.9 2.8l-1.9 2.8l-1.9 -2.8z M543.3 220.4l1.9 2.8l-1.9 2.8l-1.9 -2.8z M530 314l1.9 2.8l-1.9 2.8l-1.9 -2.8z M529.1 235.9l1.9 2.8l-1.9 2.8l-1.9 -2.8z M526.9 271.2l1.9 2.8l-1.9 2.8l-1.9 -2.8z M548.7 291.2l1.9 2.8l-1.9 2.8l-1.9 -2.8z M545.9 257.4l1.9 2.8l-1.9 2.8l-1.9 -2.8z M535.6 303l1.9 2.8l-1.9 2.8l-1.9 -2.8z M538.3 267.4l1.9 2.8l-1.9 2.8l-1.9 -2.8z M529.1 282l1.9 2.8l-1.9 2.8l-1.9 -2.8z M518.6 307.5l1.9 2.8l-1.9 2.8l-1.9 -2.8z M541.7 252.1l1.9 2.8l-1.9 2.8l-1.9 -2.8z M525.2 238.9l1.9 2.8l-1.9 2.8l-1.9 -2.8z M530.7 251.3l1.9 2.8l-1.9 2.8l-1.9 -2.8z M543.2 301.1l1.9 2.8l-1.9 2.8l-1.9 -2.8z M512.1 293.8l1.9 2.8l-1.9 2.8l-1.9 -2.8z M548 263.9l1.9 2.8l-1.9 2.8l-1.9 -2.8z M542.8 303.9l1.9 2.8l-1.9 2.8l-1.9 -2.8z M528.8 245.8l1.9 2.8l-1.9 2.8l-1.9 -2.8z M531.1 267.5l1.9 2.8l-1.9 2.8l-1.9 -2.8z M543.2 269.9l1.9 2.8l-1.9 2.8l-1.9 -2.8z M549.8 306.3l1.9 2.8l-1.9 2.8l-1.9 -2.8z M545.9 285.9l1.9 2.8l-1.9 2.8l-1.9 -2.8z M547.7 246.9l1.9 2.8l-1.9 2.8l-1.9 -2.8z M537 276.4l1.9 2.8l-1.9 2.8l-1.9 -2.8z M546.4 279.4l1.9 2.8l-1.9 2.8l-1.9 -2.8z M530 289.2l1.9 2.8l-1.9 2.8l-1.9 -2.8z M531.9 239.3l1.9 2.8l-1.9 2.8l-1.9 -2.8z M540.8 306l1.9 2.8l-1.9 2.8l-1.9 -2.8z M545.4 251.1l1.9 2.8l-1.9 2.8l-1.9 -2.8z M548.7 234l1.9 2.8l-1.9 2.8l-1.9 -2.8z M534.6 242l1.9 2.8l-1.9 2.8l-1.9 -2.8z M530.1 253.7l1.9 2.8l-1.9 2.8l-1.9 -2.8z M551.8 239.1l1.9 2.8l-1.9 2.8l-1.9 -2.8z M515.2 279.9l1.9 2.8l-1.9 2.8l-1.9 -2.8z M512.4 290.6l1.9 2.8l-1.9 2.8l-1.9 -2.8z" fill="none" stroke="#8e8e8e" stroke-width="0.9"/><path d="M522 233.2l1.9 2.8l-1.9 2.8l-1.9 -2.8z M525.6 235.7l1.9 2.8l-1.9 2.8l-1.9 -2.8z M499.8 263.7l1.9 2.8l-1.9 2.8l-1.9 -2.8z M532.6 219.1l1.9 2.8l-1.9 2.8l-1.9 -2.8z M509.6 280.7l1.9 2.8l-1.9 2.8l-1.9 -2.8z M517.4 269.5l1.9 2.8l-1.9 2.8l-1.9 -2.8z M512.7 212.6l1.9 2.8l-1.9 2.8l-1.9 -2.8z M514.9 224.5l1.9 2.8l-1.9 2.8l-1.9 -2.8z M509.3 301.7l1.9 2.8l-1.9 2.8l-1.9 -2.8z M522.9 263.5l1.9 2.8l-1.9 2.8l-1.9 -2.8z M512.5 270.2l1.9 2.8l-1.9 2.8l-1.9 -2.8z M521.2 245.2l1.9 2.8l-1.9 2.8l-1.9 -2.8z M511.4 277.7l1.9 2.8l-1.9 2.8l-1.9 -2.8z M529 226.8l1.9 2.8l-1.9 2.8l-1.9 -2.8z M517.4 274l1.9 2.8l-1.9 2.8l-1.9 -2.8z M528.7 222.9l1.9 2.8l-1.9 2.8l-1.9 -2.8z M525.3 222.7l1.9 2.8l-1.9 2.8l-1.9 -2.8z M525.8 253.8l1.9 2.8l-1.9 2.8l-1.9 -2.8z M514.8 267.5l1.9 2.8l-1.9 2.8l-1.9 -2.8z M506.5 295.1l1.9 2.8l-1.9 2.8l-1.9 -2.8z M512.7 304.6l1.9 2.8l-1.9 2.8l-1.9 -2.8z M528.7 242.7l1.9 2.8l-1.9 2.8l-1.9 -2.8z M509.6 306.7l1.9 2.8l-1.9 2.8l-1.9 -2.8z M525.3 269.8l1.9 2.8l-1.9 2.8l-1.9 -2.8z M529.4 247.8l1.9 2.8l-1.9 2.8l-1.9 -2.8z M497.6 294.8l1.9 2.8l-1.9 2.8l-1.9 -2.8z M515.2 277.1l1.9 2.8l-1.9 2.8l-1.9 -2.8z M512.8 252.4l1.9 2.8l-1.9 2.8l-1.9 -2.8z M518.4 279.4l1.9 2.8l-1.9 2.8l-1.9 -2.8z M497.8 305.4l1.9 2.8l-1.9 2.8l-1.9 -2.8z M520.8 228.7l1.9 2.8l-1.9 2.8l-1.9 -2.8z M529.4 232.4l1.9 2.8l-1.9 2.8l-1.9 -2.8z M508.7 289l1.9 2.8l-1.9 2.8l-1.9 -2.8z M534 223.5l1.9 2.8l-1.9 2.8l-1.9 -2.8z M505.9 243.9l1.9 2.8l-1.9 2.8l-1.9 -2.8z M508.1 276.3l1.9 2.8l-1.9 2.8l-1.9 -2.8z M512 260.9l1.9 2.8l-1.9 2.8l-1.9 -2.8z M502 280.7l1.9 2.8l-1.9 2.8l-1.9 -2.8z M512.9 257.7l1.9 2.8l-1.9 2.8l-1.9 -2.8z M513.1 239.8l1.9 2.8l-1.9 2.8l-1.9 -2.8z M508 229l1.9 2.8l-1.9 2.8l-1.9 -2.8z M532.7 227.4l1.9 2.8l-1.9 2.8l-1.9 -2.8z M505.6 285l1.9 2.8l-1.9 2.8l-1.9 -2.8z M513.7 248l1.9 2.8l-1.9 2.8l-1.9 -2.8z M513.7 313.1l1.9 2.8l-1.9 2.8l-1.9 -2.8z M504.5 300.5l1.9 2.8l-1.9 2.8l-1.9 -2.8z M535.2 203.6l1.9 2.8l-1.9 2.8l-1.9 -2.8z M516.5 232.6l1.9 2.8l-1.9 2.8l-1.9 -2.8z M521.2 239.8l1.9 2.8l-1.9 2.8l-1.9 -2.8z M500.1 258.9l1.9 2.8l-1.9 2.8l-1.9 -2.8z M543.8 214.6l1.9 2.8l-1.9 2.8l-1.9 -2.8z M503.4 266.9l1.9 2.8l-1.9 2.8l-1.9 -2.8z M506.5 279.8l1.9 2.8l-1.9 2.8l-1.9 -2.8z M538.3 236.5l1.9 2.8l-1.9 2.8l-1.9 -2.8z M533.1 231.4l1.9 2.8l-1.9 2.8l-1.9 -2.8z M509.4 242.5l1.9 2.8l-1.9 2.8l-1.9 -2.8z M512.6 264.1l1.9 2.8l-1.9 2.8l-1.9 -2.8z M509.7 247.8l1.9 2.8l-1.9 2.8l-1.9 -2.8z M511.1 221.1l1.9 2.8l-1.9 2.8l-1.9 -2.8z M504.4 260.3l1.9 2.8l-1.9 2.8l-1.9 -2.8z M499.4 301.7l1.9 2.8l-1.9 2.8l-1.9 -2.8z M520.1 224.4l1.9 2.8l-1.9 2.8l-1.9 -2.8z M518.6 237l1.9 2.8l-1.9 2.8l-1.9 -2.8z M507.9 271.7l1.9 2.8l-1.9 2.8l-1.9 -2.8z M534.3 207.2l1.9 2.8l-1.9 2.8l-1.9 -2.8z M525.2 231.4l1.9 2.8l-1.9 2.8l-1.9 -2.8z M504 290.1l1.9 2.8l-1.9 2.8l-1.9 -2.8z M507.5 316.9l1.9 2.8l-1.9 2.8l-1.9 -2.8z M529.5 212.7l1.9 2.8l-1.9 2.8l-1.9 -2.8z M536.5 230.3l1.9 2.8l-1.9 2.8l-1.9 -2.8z M547.2 220.3l1.9 2.8l-1.9 2.8l-1.9 -2.8z M521.4 217.9l1.9 2.8l-1.9 2.8l-1.9 -2.8z M542.7 219.6l1.9 2.8l-1.9 2.8l-1.9 -2.8z M526.2 245.1l1.9 2.8l-1.9 2.8l-1.9 -2.8z M531.9 215.9l1.9 2.8l-1.9 2.8l-1.9 -2.8z M510.8 234.2l1.9 2.8l-1.9 2.8l-1.9 -2.8z M524.6 206l1.9 2.8l-1.9 2.8l-1.9 -2.8z M511 273.7l1.9 2.8l-1.9 2.8l-1.9 -2.8z M536.1 212.2l1.9 2.8l-1.9 2.8l-1.9 -2.8z M534.2 236.3l1.9 2.8l-1.9 2.8l-1.9 -2.8z M517.5 228.6l1.9 2.8l-1.9 2.8l-1.9 -2.8z M510.8 254.9l1.9 2.8l-1.9 2.8l-1.9 -2.8z M520.5 275.5l1.9 2.8l-1.9 2.8l-1.9 -2.8z M505.9 251.3l1.9 2.8l-1.9 2.8l-1.9 -2.8z M513.8 308.3l1.9 2.8l-1.9 2.8l-1.9 -2.8z M521.4 290.8l1.9 2.8l-1.9 2.8l-1.9 -2.8z M517.4 243.8l1.9 2.8l-1.9 2.8l-1.9 -2.8z M508.6 213.1l1.9 2.8l-1.9 2.8l-1.9 -2.8z M526 265.6l1.9 2.8l-1.9 2.8l-1.9 -2.8z M507.8 263.2l1.9 2.8l-1.9 2.8l-1.9 -2.8z M530.1 203.4l1.9 2.8l-1.9 2.8l-1.9 -2.8z M544.8 234.3l1.9 2.8l-1.9 2.8l-1.9 -2.8z M530.4 270.3l1.9 2.8l-1.9 2.8l-1.9 -2.8z M507.8 236l1.9 2.8l-1.9 2.8l-1.9 -2.8z M502.5 305.3l1.9 2.8l-1.9 2.8l-1.9 -2.8z M541.1 232.4l1.9 2.8l-1.9 2.8l-1.9 -2.8z M520.8 267.8l1.9 2.8l-1.9 2.8l-1.9 -2.8z M496.5 315.8l1.9 2.8l-1.9 2.8l-1.9 -2.8z M532 243.1l1.9 2.8l-1.9 2.8l-1.9 -2.8z M520 293.7l1.9 2.8l-1.9 2.8l-1.9 -2.8z M542.4 210.9l1.9 2.8l-1.9 2.8l-1.9 -2.8z M535.6 217.7l1.9 2.8l-1.9 2.8l-1.9 -2.8z M530.2 283.6l1.9 2.8l-1.9 2.8l-1.9 -2.8z M526.2 259.7l1.9 2.8l-1.9 2.8l-1.9 -2.8z M527.4 239.3l1.9 2.8l-1.9 2.8l-1.9 -2.8z M500.9 284.3l1.9 2.8l-1.9 2.8l-1.9 -2.8z M503.9 246.8l1.9 2.8l-1.9 2.8l-1.9 -2.8z M515.8 301.5l1.9 2.8l-1.9 2.8l-1.9 -2.8z M532.9 210.3l1.9 2.8l-1.9 2.8l-1.9 -2.8z M515.6 292.8l1.9 2.8l-1.9 2.8l-1.9 -2.8z M538.9 216.3l1.9 2.8l-1.9 2.8l-1.9 -2.8z M516.6 251.1l1.9 2.8l-1.9 2.8l-1.9 -2.8z M551 216.4l1.9 2.8l-1.9 2.8l-1.9 -2.8z M522.7 248.3l1.9 2.8l-1.9 2.8l-1.9 -2.8z M514.3 281.7l1.9 2.8l-1.9 2.8l-1.9 -2.8z M520.1 221.1l1.9 2.8l-1.9 2.8l-1.9 -2.8z M523.8 226l1.9 2.8l-1.9 2.8l-1.9 -2.8z M510.9 292.2l1.9 2.8l-1.9 2.8l-1.9 -2.8z M522.7 296.9l1.9 2.8l-1.9 2.8l-1.9 -2.8z M526.7 211l1.9 2.8l-1.9 2.8l-1.9 -2.8z M508.3 313.4l1.9 2.8l-1.9 2.8l-1.9 -2.8z M515.8 254.4l1.9 2.8l-1.9 2.8l-1.9 -2.8z M498 298.1l1.9 2.8l-1.9 2.8l-1.9 -2.8z M546.2 255.5l1.9 2.8l-1.9 2.8l-1.9 -2.8z M505.1 312.1l1.9 2.8l-1.9 2.8l-1.9 -2.8z M516.5 215.9l1.9 2.8l-1.9 2.8l-1.9 -2.8z M513.9 289.1l1.9 2.8l-1.9 2.8l-1.9 -2.8z M538.6 272.6l1.9 2.8l-1.9 2.8l-1.9 -2.8z M540.3 205.4l1.9 2.8l-1.9 2.8l-1.9 -2.8z M500.4 268.8l1.9 2.8l-1.9 2.8l-1.9 -2.8z M517.7 260.1l1.9 2.8l-1.9 2.8l-1.9 -2.8z M519.2 249l1.9 2.8l-1.9 2.8l-1.9 -2.8z M527.4 219.4l1.9 2.8l-1.9 2.8l-1.9 -2.8z M532.8 253.6l1.9 2.8l-1.9 2.8l-1.9 -2.8z M520.1 212.7l1.9 2.8l-1.9 2.8l-1.9 -2.8z M498.5 291.3l1.9 2.8l-1.9 2.8l-1.9 -2.8z M505 273.9l1.9 2.8l-1.9 2.8l-1.9 -2.8z M516.8 239.8l1.9 2.8l-1.9 2.8l-1.9 -2.8z M532.1 259.1l1.9 2.8l-1.9 2.8l-1.9 -2.8z M518 284l1.9 2.8l-1.9 2.8l-1.9 -2.8z M524.4 240.6l1.9 2.8l-1.9 2.8l-1.9 -2.8z M513.5 229.8l1.9 2.8l-1.9 2.8l-1.9 -2.8z M522.3 300.7l1.9 2.8l-1.9 2.8l-1.9 -2.8z M551.5 205.5l1.9 2.8l-1.9 2.8l-1.9 -2.8z M520.8 255.9l1.9 2.8l-1.9 2.8l-1.9 -2.8z M544.9 238.7l1.9 2.8l-1.9 2.8l-1.9 -2.8z M501.8 234.4l1.9 2.8l-1.9 2.8l-1.9 -2.8z M541.3 249l1.9 2.8l-1.9 2.8l-1.9 -2.8z M516.9 287.8l1.9 2.8l-1.9 2.8l-1.9 -2.8z M526.8 215.5l1.9 2.8l-1.9 2.8l-1.9 -2.8z M539.9 225.7l1.9 2.8l-1.9 2.8l-1.9 -2.8z M545.1 205.7l1.9 2.8l-1.9 2.8l-1.9 -2.8z M550 228l1.9 2.8l-1.9 2.8l-1.9 -2.8z M531.8 250l1.9 2.8l-1.9 2.8l-1.9 -2.8z M545.4 217.5l1.9 2.8l-1.9 2.8l-1.9 -2.8z M548.3 212.8l1.9 2.8l-1.9 2.8l-1.9 -2.8z M500.8 311.9l1.9 2.8l-1.9 2.8l-1.9 -2.8z M496.5 264.8l1.9 2.8l-1.9 2.8l-1.9 -2.8z M510.7 296.1l1.9 2.8l-1.9 2.8l-1.9 -2.8z M504.1 222.1l1.9 2.8l-1.9 2.8l-1.9 -2.8z M508.1 268.1l1.9 2.8l-1.9 2.8l-1.9 -2.8z M500.9 287.9l1.9 2.8l-1.9 2.8l-1.9 -2.8z M537.5 239.8l1.9 2.8l-1.9 2.8l-1.9 -2.8z M495.9 279.7l1.9 2.8l-1.9 2.8l-1.9 -2.8z M511.5 286l1.9 2.8l-1.9 2.8l-1.9 -2.8z M495.9 310.1l1.9 2.8l-1.9 2.8l-1.9 -2.8z M502.2 243.1l1.9 2.8l-1.9 2.8l-1.9 -2.8z M514.1 244.2l1.9 2.8l-1.9 2.8l-1.9 -2.8z M506 255.5l1.9 2.8l-1.9 2.8l-1.9 -2.8z M501.6 277.2l1.9 2.8l-1.9 2.8l-1.9 -2.8z M495.9 271.2l1.9 2.8l-1.9 2.8l-1.9 -2.8z M502.3 293.9l1.9 2.8l-1.9 2.8l-1.9 -2.8z M533 268.6l1.9 2.8l-1.9 2.8l-1.9 -2.8z M535.8 244.7l1.9 2.8l-1.9 2.8l-1.9 -2.8z M521.8 252.2l1.9 2.8l-1.9 2.8l-1.9 -2.8z M504 270.8l1.9 2.8l-1.9 2.8l-1.9 -2.8z M517.4 204.6l1.9 2.8l-1.9 2.8l-1.9 -2.8z M546.3 225l1.9 2.8l-1.9 2.8l-1.9 -2.8z M495.8 275.7l1.9 2.8l-1.9 2.8l-1.9 -2.8z M529.7 278.7l1.9 2.8l-1.9 2.8l-1.9 -2.8z M495.3 285.2l1.9 2.8l-1.9 2.8l-1.9 -2.8z M501.8 211.9l1.9 2.8l-1.9 2.8l-1.9 -2.8z M499.9 273.5l1.9 2.8l-1.9 2.8l-1.9 -2.8z M519 264.3l1.9 2.8l-1.9 2.8l-1.9 -2.8z M505.4 308.4l1.9 2.8l-1.9 2.8l-1.9 -2.8z M524.1 283.8l1.9 2.8l-1.9 2.8l-1.9 -2.8z M539.3 208.9l1.9 2.8l-1.9 2.8l-1.9 -2.8z M511.4 227.1l1.9 2.8l-1.9 2.8l-1.9 -2.8z M526.1 277.5l1.9 2.8l-1.9 2.8l-1.9 -2.8z M530.8 274.1l1.9 2.8l-1.9 2.8l-1.9 -2.8z M523 259.1l1.9 2.8l-1.9 2.8l-1.9 -2.8z M515.6 262.7l1.9 2.8l-1.9 2.8l-1.9 -2.8z M544.6 243.3l1.9 2.8l-1.9 2.8l-1.9 -2.8z M495.2 291.6l1.9 2.8l-1.9 2.8l-1.9 -2.8z M530 236.6l1.9 2.8l-1.9 2.8l-1.9 -2.8z M529.4 207.1l1.9 2.8l-1.9 2.8l-1.9 -2.8z M528.6 198.1l1.9 2.8l-1.9 2.8l-1.9 -2.8z M509 205.8l1.9 2.8l-1.9 2.8l-1.9 -2.8z M532.8 206.2l1.9 2.8l-1.9 2.8l-1.9 -2.8z M539 201.2l1.9 2.8l-1.9 2.8l-1.9 -2.8z M548.4 198.8l1.9 2.8l-1.9 2.8l-1.9 -2.8z M542.7 210l1.9 2.8l-1.9 2.8l-1.9 -2.8z" fill="none" stroke="#9a9a9a" stroke-width="0.9"/><path d="M561.9 279.4l1.8 2.6l-1.8 2.6l-1.8 -2.6z M563.4 244l1.8 2.6l-1.8 2.6l-1.8 -2.6z M559 238.8l1.8 2.6l-1.8 2.6l-1.8 -2.6z M557.8 256l1.8 2.6l-1.8 2.6l-1.8 -2.6z M562.1 296.9l1.8 2.6l-1.8 2.6l-1.8 -2.6z M557.2 235.7l1.8 2.6l-1.8 2.6l-1.8 -2.6z M560.1 264l1.8 2.6l-1.8 2.6l-1.8 -2.6z M559 303.6l1.8 2.6l-1.8 2.6l-1.8 -2.6z M555.3 247.8l1.8 2.6l-1.8 2.6l-1.8 -2.6z M563.1 254.3l1.8 2.6l-1.8 2.6l-1.8 -2.6z M554.3 251.9l1.8 2.6l-1.8 2.6l-1.8 -2.6z M555.8 283.8l1.8 2.6l-1.8 2.6l-1.8 -2.6z M561.2 275.9l1.8 2.6l-1.8 2.6l-1.8 -2.6z M561.2 225.2l1.8 2.6l-1.8 2.6l-1.8 -2.6z M562.5 261l1.8 2.6l-1.8 2.6l-1.8 -2.6z M553.2 257.7l1.8 2.6l-1.8 2.6l-1.8 -2.6z M560.2 283.4l1.8 2.6l-1.8 2.6l-1.8 -2.6z M559 243.9l1.8 2.6l-1.8 2.6l-1.8 -2.6z M561.6 288l1.8 2.6l-1.8 2.6l-1.8 -2.6z M550.6 240.3l1.8 2.6l-1.8 2.6l-1.8 -2.6z M560.9 248.2l1.8 2.6l-1.8 2.6l-1.8 -2.6z M555.9 228.8l1.8 2.6l-1.8 2.6l-1.8 -2.6z M560.8 271.1l1.8 2.6l-1.8 2.6l-1.8 -2.6z M558.3 217.3l1.8 2.6l-1.8 2.6l-1.8 -2.6z M566.1 263.6l1.8 2.6l-1.8 2.6l-1.8 -2.6z M564 216.8l1.8 2.6l-1.8 2.6l-1.8 -2.6z M567.7 243.2l1.8 2.6l-1.8 2.6l-1.8 -2.6z M559.8 293.5l1.8 2.6l-1.8 2.6l-1.8 -2.6z M561.1 235.3l1.8 2.6l-1.8 2.6l-1.8 -2.6z M554.4 242.4l1.8 2.6l-1.8 2.6l-1.8 -2.6z M552.9 278l1.8 2.6l-1.8 2.6l-1.8 -2.6z M565.7 251.7l1.8 2.6l-1.8 2.6l-1.8 -2.6z M568.5 239.1l1.8 2.6l-1.8 2.6l-1.8 -2.6z M563.1 229.7l1.8 2.6l-1.8 2.6l-1.8 -2.6z M556.2 288.5l1.8 2.6l-1.8 2.6l-1.8 -2.6z M555.9 266l1.8 2.6l-1.8 2.6l-1.8 -2.6z M565.5 222.3l1.8 2.6l-1.8 2.6l-1.8 -2.6z M566.1 279.2l1.8 2.6l-1.8 2.6l-1.8 -2.6z M563.5 292.6l1.8 2.6l-1.8 2.6l-1.8 -2.6z M560.4 308.1l1.8 2.6l-1.8 2.6l-1.8 -2.6z M553.1 262.4l1.8 2.6l-1.8 2.6l-1.8 -2.6z M567.3 298.4l1.8 2.6l-1.8 2.6l-1.8 -2.6z M566.4 235.6l1.8 2.6l-1.8 2.6l-1.8 -2.6z M552.3 270.6l1.8 2.6l-1.8 2.6l-1.8 -2.6z M565 272.1l1.8 2.6l-1.8 2.6l-1.8 -2.6z M562 220.5l1.8 2.6l-1.8 2.6l-1.8 -2.6z M556.2 295.8l1.8 2.6l-1.8 2.6l-1.8 -2.6z M572 284.6l1.8 2.6l-1.8 2.6l-1.8 -2.6z M571.6 293.9l1.8 2.6l-1.8 2.6l-1.8 -2.6z M552.6 235.2l1.8 2.6l-1.8 2.6l-1.8 -2.6z M556.5 270.2l1.8 2.6l-1.8 2.6l-1.8 -2.6z M563 302.2l1.8 2.6l-1.8 2.6l-1.8 -2.6z M565.8 268.2l1.8 2.6l-1.8 2.6l-1.8 -2.6z M559.4 228.7l1.8 2.6l-1.8 2.6l-1.8 -2.6z M565.2 309l1.8 2.6l-1.8 2.6l-1.8 -2.6z M569.1 289.8l1.8 2.6l-1.8 2.6l-1.8 -2.6z M556.2 223l1.8 2.6l-1.8 2.6l-1.8 -2.6z M568.3 275.7l1.8 2.6l-1.8 2.6l-1.8 -2.6z M565.7 257.1l1.8 2.6l-1.8 2.6l-1.8 -2.6z M558 277.7l1.8 2.6l-1.8 2.6l-1.8 -2.6z M554.9 274.2l1.8 2.6l-1.8 2.6l-1.8 -2.6z M566.3 286.7l1.8 2.6l-1.8 2.6l-1.8 -2.6z M560.6 267.6l1.8 2.6l-1.8 2.6l-1.8 -2.6z M559.7 252.8l1.8 2.6l-1.8 2.6l-1.8 -2.6z M573.3 297.9l1.8 2.6l-1.8 2.6l-1.8 -2.6z M564.3 238.9l1.8 2.6l-1.8 2.6l-1.8 -2.6z M553.7 238.4l1.8 2.6l-1.8 2.6l-1.8 -2.6z M557.6 260l1.8 2.6l-1.8 2.6l-1.8 -2.6z M567.9 293.5l1.8 2.6l-1.8 2.6l-1.8 -2.6z M564.8 282.9l1.8 2.6l-1.8 2.6l-1.8 -2.6z M550.8 246.1l1.8 2.6l-1.8 2.6l-1.8 -2.6z M554.7 301.6l1.8 2.6l-1.8 2.6l-1.8 -2.6z M560.6 258.1l1.8 2.6l-1.8 2.6l-1.8 -2.6z M550.7 223.2l1.8 2.6l-1.8 2.6l-1.8 -2.6z M558.2 300.1l1.8 2.6l-1.8 2.6l-1.8 -2.6z M566.8 247.7l1.8 2.6l-1.8 2.6l-1.8 -2.6z M553.3 304.8l1.8 2.6l-1.8 2.6l-1.8 -2.6z M559.1 312.3l1.8 2.6l-1.8 2.6l-1.8 -2.6z M568.4 219.9l1.8 2.6l-1.8 2.6l-1.8 -2.6z M565.3 226.7l1.8 2.6l-1.8 2.6l-1.8 -2.6z M568.8 281.5l1.8 2.6l-1.8 2.6l-1.8 -2.6z M556.1 307.7l1.8 2.6l-1.8 2.6l-1.8 -2.6z M580.8 257.8l1.8 2.6l-1.8 2.6l-1.8 -2.6z M566 222.4l1.8 2.6l-1.8 2.6l-1.8 -2.6z M585 300.4l1.8 2.6l-1.8 2.6l-1.8 -2.6z" fill="#fff" stroke="#111" stroke-width="0.9"/><path d="M558.6 198.3l2 2.9l-2 2.9l-2 -2.9z M520.7 225.8l2 2.9l-2 2.9l-2 -2.9z M524.3 218.3l2 2.9l-2 2.9l-2 -2.9z M543.6 230.1l2 2.9l-2 2.9l-2 -2.9z M546.8 231.1l2 2.9l-2 2.9l-2 -2.9z M518.3 255.8l2 2.9l-2 2.9l-2 -2.9z M538.3 254.7l2 2.9l-2 2.9l-2 -2.9z M539.3 256.9l2 2.9l-2 2.9l-2 -2.9z M547.9 252.6l2 2.9l-2 2.9l-2 -2.9z M552.2 255.8l2 2.9l-2 2.9l-2 -2.9z M517.9 266.5l2 2.9l-2 2.9l-2 -2.9z M541.5 270.8l2 2.9l-2 2.9l-2 -2.9z M535 271.9l2 2.9l-2 2.9l-2 -2.9z M546.8 270.8l2 2.9l-2 2.9l-2 -2.9z M551.1 274.1l2 2.9l-2 2.9l-2 -2.9z M534 277.3l2 2.9l-2 2.9l-2 -2.9z M505 267.6l2 2.9l-2 2.9l-2 -2.9z M535 289.1l2 2.9l-2 2.9l-2 -2.9z M539.3 288l2 2.9l-2 2.9l-2 -2.9z M543 242.1l2 2.9l-2 2.9l-2 -2.9z M538 259.1l2 2.9l-2 2.9l-2 -2.9z" fill="#000" stroke="#000" stroke-width="0.5"/><path d="M554.1 325.8h4.8v4.8h-4.8z M572.7 331.3h4.8v4.8h-4.8z M568.3 349.8h4.8v4.8h-4.8z M584.9 357.9h4.8v4.8h-4.8z M604.3 315.8h4.8v4.8h-4.8z M637.7 365.9h4.8v4.8h-4.8z" fill="#000"/><path d="M424.3 298H724.3M424.3 312.5H724.3M551.5 189.0V457.6" stroke="#000" stroke-width="1" stroke-dasharray="1 2.4" fill="none"/><path d="M479.9 236.3 C483 280 500 300 535 313" fill="none" stroke="#2ee82e" stroke-width="2.6" stroke-linecap="round"/><path d="M497.3 236.3 C503 285 515 305 531 312" fill="none" stroke="#2ee82e" stroke-width="2.6" stroke-linecap="round"/><path d="M541.7 236.3 C543 280 546 305 552 313" fill="none" stroke="#2ee82e" stroke-width="2.6" stroke-linecap="round"/><path d="M479.9 295.7 C495 305 512 310 530 311.5" fill="none" stroke="#2ee82e" stroke-width="2.6" stroke-linecap="round"/><path d="M479.9 337.2 C500 326 515 318 533 316" fill="none" stroke="#2ee82e" stroke-width="2.6" stroke-linecap="round"/><path d="M490.9 256V283M504.3 300V312M512.6 298V312" stroke="#0a0af5" stroke-width="0.9"/><path d="M526.2 289V305M539.3 284V298M508.5 320V333M537 299v5M542 299v5" stroke="#f50a0a" stroke-width="0.9"/><path d="M504.3 303.4l3.9 6.6h-7.8z M519.6 310.6l3.9 6.6h-7.8z M559 307.2l3.9 6.6h-7.8z M545 310.9l3.9 6.6h-7.8z" fill="#0a0af5"/><circle cx="490.9" cy="266.8" r="3.2" fill="#0a0af5"/><circle cx="512.6" cy="305.4" r="3.2" fill="#0a0af5"/><circle cx="503.8" cy="315.1" r="3.2" fill="#0a0af5"/><circle cx="509.6" cy="317" r="3.2" fill="#0a0af5"/><circle cx="522.6" cy="315.1" r="3.2" fill="#0a0af5"/><circle cx="534.1" cy="304.8" r="3.2" fill="#0a0af5"/><circle cx="529.2" cy="312.6" r="3.2" fill="#0a0af5"/><circle cx="545.2" cy="316.4" r="3.2" fill="#0a0af5"/><path d="M526.2 297.4l4.4 7.4h-8.7z" fill="#f50a0a" stroke="#000" stroke-width="0.8"/><circle cx="539.3" cy="291" r="3.4" fill="#f50a0a" stroke="#000" stroke-width="0.8"/><circle cx="508.5" cy="326.1" r="3.4" fill="#f50a0a" stroke="#000" stroke-width="0.8"/><circle cx="538" cy="308.9" r="3.4" fill="#f50a0a" stroke="#000" stroke-width="0.8"/><circle cx="540.8" cy="308.1" r="3.4" fill="#f50a0a" stroke="#000" stroke-width="0.8"/><circle cx="545.7" cy="304.3" r="3.4" fill="#f50a0a" stroke="#000" stroke-width="0.8"/><circle cx="548.5" cy="308.1" r="3.4" fill="#f50a0a" stroke="#000" stroke-width="0.8"/><circle cx="542.4" cy="313.7" r="3.4" fill="#f50a0a" stroke="#000" stroke-width="0.8"/><circle cx="546.3" cy="311.4" r="3.4" fill="#f50a0a" stroke="#000" stroke-width="0.8"/><circle cx="529.7" cy="310.3" r="3.3" fill="#fff" stroke="#a020d0" stroke-width="1.1"/><circle cx="574.5" cy="313.2" r="3.5" fill="#fff" stroke="#a020d0" stroke-width="1.1"/><path d="M551.5 308.9 L552.9 312.6 L556.8 312.8 L553.8 315.2 L554.8 319 L551.5 316.9 L548.2 319 L549.2 315.2 L546.2 312.8 L550.1 312.6z" fill="#22dd22" stroke="#000" stroke-width="0.9"/><text x="430.4" y="294" font-family="Liberation Sans, sans-serif" font-size="10.9">Solar</text><text x="432.6" y="325.2" font-family="Liberation Sans, sans-serif" font-size="10.9">Terr.</text><text transform="translate(544.6,449.5) rotate(-90)" font-family="Liberation Sans, sans-serif" font-size="10.9">Solar</text><path d="M428.1 457.6v-3.5 M428.1 189v3.5 M428.1 189v-3.5 M428.1 104.9v3.5 M431.9 457.6v-3.5 M431.9 189v3.5 M431.9 189v-3.5 M431.9 104.9v3.5 M435.2 457.6v-3.5 M435.2 189v3.5 M435.2 189v-3.5 M435.2 104.9v3.5 M438.1 457.6v-3.5 M438.1 189v3.5 M438.1 189v-3.5 M438.1 104.9v3.5 M440.7 457.6v-6 M440.7 189v6 M440.7 189v-6 M440.7 104.9v6 M457.8 457.6v-3.5 M457.8 189v3.5 M457.8 189v-3.5 M457.8 104.9v3.5 M467.8 457.6v-3.5 M467.8 189v3.5 M467.8 189v-3.5 M467.8 104.9v3.5 M474.9 457.6v-3.5 M474.9 189v3.5 M474.9 189v-3.5 M474.9 104.9v3.5 M480.4 457.6v-3.5 M480.4 189v3.5 M480.4 189v-3.5 M480.4 104.9v3.5 M484.9 457.6v-3.5 M484.9 189v3.5 M484.9 189v-3.5 M484.9 104.9v3.5 M488.7 457.6v-3.5 M488.7 189v3.5 M488.7 189v-3.5 M488.7 104.9v3.5 M492 457.6v-3.5 M492 189v3.5 M492 189v-3.5 M492 104.9v3.5 M494.9 457.6v-3.5 M494.9 189v3.5 M494.9 189v-3.5 M494.9 104.9v3.5 M497.5 457.6v-6 M497.5 189v6 M497.5 189v-6 M497.5 104.9v6 M514.6 457.6v-3.5 M514.6 189v3.5 M514.6 189v-3.5 M514.6 104.9v3.5 M524.6 457.6v-3.5 M524.6 189v3.5 M524.6 189v-3.5 M524.6 104.9v3.5 M531.7 457.6v-3.5 M531.7 189v3.5 M531.7 189v-3.5 M531.7 104.9v3.5 M537.2 457.6v-3.5 M537.2 189v3.5 M537.2 189v-3.5 M537.2 104.9v3.5 M541.7 457.6v-3.5 M541.7 189v3.5 M541.7 189v-3.5 M541.7 104.9v3.5 M545.5 457.6v-3.5 M545.5 189v3.5 M545.5 189v-3.5 M545.5 104.9v3.5 M548.8 457.6v-3.5 M548.8 189v3.5 M548.8 189v-3.5 M548.8 104.9v3.5 M551.7 457.6v-3.5 M551.7 189v3.5 M551.7 189v-3.5 M551.7 104.9v3.5 M554.3 457.6v-6 M554.3 189v6 M554.3 189v-6 M554.3 104.9v6 M571.4 457.6v-3.5 M571.4 189v3.5 M571.4 189v-3.5 M571.4 104.9v3.5 M581.4 457.6v-3.5 M581.4 189v3.5 M581.4 189v-3.5 M581.4 104.9v3.5 M588.5 457.6v-3.5 M588.5 189v3.5 M588.5 189v-3.5 M588.5 104.9v3.5 M594 457.6v-3.5 M594 189v3.5 M594 189v-3.5 M594 104.9v3.5 M598.5 457.6v-3.5 M598.5 189v3.5 M598.5 189v-3.5 M598.5 104.9v3.5 M602.3 457.6v-3.5 M602.3 189v3.5 M602.3 189v-3.5 M602.3 104.9v3.5 M605.6 457.6v-3.5 M605.6 189v3.5 M605.6 189v-3.5 M605.6 104.9v3.5 M608.5 457.6v-3.5 M608.5 189v3.5 M608.5 189v-3.5 M608.5 104.9v3.5 M611.1 457.6v-6 M611.1 189v6 M611.1 189v-6 M611.1 104.9v6 M628.2 457.6v-3.5 M628.2 189v3.5 M628.2 189v-3.5 M628.2 104.9v3.5 M638.2 457.6v-3.5 M638.2 189v3.5 M638.2 189v-3.5 M638.2 104.9v3.5 M645.3 457.6v-3.5 M645.3 189v3.5 M645.3 189v-3.5 M645.3 104.9v3.5 M650.8 457.6v-3.5 M650.8 189v3.5 M650.8 189v-3.5 M650.8 104.9v3.5 M655.3 457.6v-3.5 M655.3 189v3.5 M655.3 189v-3.5 M655.3 104.9v3.5 M659.1 457.6v-3.5 M659.1 189v3.5 M659.1 189v-3.5 M659.1 104.9v3.5 M662.4 457.6v-3.5 M662.4 189v3.5 M662.4 189v-3.5 M662.4 104.9v3.5 M665.3 457.6v-3.5 M665.3 189v3.5 M665.3 189v-3.5 M665.3 104.9v3.5 M667.9 457.6v-6 M667.9 189v6 M667.9 189v-6 M667.9 104.9v6 M685 457.6v-3.5 M685 189v3.5 M685 189v-3.5 M685 104.9v3.5 M695 457.6v-3.5 M695 189v3.5 M695 189v-3.5 M695 104.9v3.5 M702.1 457.6v-3.5 M702.1 189v3.5 M702.1 189v-3.5 M702.1 104.9v3.5 M707.6 457.6v-3.5 M707.6 189v3.5 M707.6 189v-3.5 M707.6 104.9v3.5 M712.1 457.6v-3.5 M712.1 189v3.5 M712.1 189v-3.5 M712.1 104.9v3.5 M715.9 457.6v-3.5 M715.9 189v3.5 M715.9 189v-3.5 M715.9 104.9v3.5 M719.2 457.6v-3.5 M719.2 189v3.5 M719.2 189v-3.5 M719.2 104.9v3.5 M722.1 457.6v-3.5 M722.1 189v3.5 M722.1 189v-3.5 M722.1 104.9v3.5 M424.3 457.6h6 M724.3 457.6h-6 M424.3 439.57h3.5 M724.3 439.57h-3.5 M424.3 429.02h3.5 M724.3 429.02h-3.5 M424.3 421.54h3.5 M724.3 421.54h-3.5 M424.3 415.73h3.5 M724.3 415.73h-3.5 M424.3 410.99h3.5 M724.3 410.99h-3.5 M424.3 406.98h3.5 M724.3 406.98h-3.5 M424.3 403.5h3.5 M724.3 403.5h-3.5 M424.3 400.44h3.5 M724.3 400.44h-3.5 M424.3 397.7h6 M724.3 397.7h-6 M424.3 379.67h3.5 M724.3 379.67h-3.5 M424.3 369.12h3.5 M724.3 369.12h-3.5 M424.3 361.64h3.5 M724.3 361.64h-3.5 M424.3 355.83h3.5 M724.3 355.83h-3.5 M424.3 351.09h3.5 M724.3 351.09h-3.5 M424.3 347.08h3.5 M724.3 347.08h-3.5 M424.3 343.6h3.5 M724.3 343.6h-3.5 M424.3 340.54h3.5 M724.3 340.54h-3.5 M424.3 337.8h6 M724.3 337.8h-6 M424.3 319.77h3.5 M724.3 319.77h-3.5 M424.3 309.22h3.5 M724.3 309.22h-3.5 M424.3 301.74h3.5 M724.3 301.74h-3.5 M424.3 295.93h3.5 M724.3 295.93h-3.5 M424.3 291.19h3.5 M724.3 291.19h-3.5 M424.3 287.18h3.5 M724.3 287.18h-3.5 M424.3 283.7h3.5 M724.3 283.7h-3.5 M424.3 280.64h3.5 M724.3 280.64h-3.5 M424.3 277.9h6 M724.3 277.9h-6 M424.3 259.87h3.5 M724.3 259.87h-3.5 M424.3 249.32h3.5 M724.3 249.32h-3.5 M424.3 241.84h3.5 M724.3 241.84h-3.5 M424.3 236.03h3.5 M724.3 236.03h-3.5 M424.3 231.29h3.5 M724.3 231.29h-3.5 M424.3 227.28h3.5 M724.3 227.28h-3.5 M424.3 223.8h3.5 M724.3 223.8h-3.5 M424.3 220.74h3.5 M724.3 220.74h-3.5 M424.3 218h6 M724.3 218h-6 M424.3 199.97h3.5 M724.3 199.97h-3.5 M424.3 189.42h3.5 M724.3 189.42h-3.5 M424.3 189h6 M724.3 189h-6 M424.3 184.78h3.5 M724.3 184.78h-3.5 M424.3 180.55h3.5 M724.3 180.55h-3.5 M424.3 176.32h3.5 M724.3 176.32h-3.5 M424.3 172.1h6 M724.3 172.1h-6 M424.3 167.88h3.5 M724.3 167.88h-3.5 M424.3 163.65h3.5 M724.3 163.65h-3.5 M424.3 159.43h3.5 M724.3 159.43h-3.5 M424.3 155.2h6 M724.3 155.2h-6 M424.3 150.97h3.5 M724.3 150.97h-3.5 M424.3 146.75h3.5 M724.3 146.75h-3.5 M424.3 142.53h3.5 M724.3 142.53h-3.5 M424.3 138.3h6 M724.3 138.3h-6 M424.3 134.07h3.5 M724.3 134.07h-3.5 M424.3 129.85h3.5 M724.3 129.85h-3.5 M424.3 125.62h3.5 M724.3 125.62h-3.5 M424.3 121.4h6 M724.3 121.4h-6 M424.3 117.18h3.5 M724.3 117.18h-3.5 M424.3 112.95h3.5 M724.3 112.95h-3.5 M424.3 108.73h3.5 M724.3 108.73h-3.5" stroke="#000" stroke-width="1" fill="none"/><rect x="424.3" y="104.9" width="300" height="352.7" fill="none" stroke="#000" stroke-width="1.3"/><path d="M424.3 189.0H724.3" stroke="#000" stroke-width="1.3"/><text transform="translate(440.7,473.6) scale(0.97,1)" text-anchor="middle" font-family="Liberation Sans, sans-serif" font-size="14.4">1</text><text transform="translate(497.5,473.6) scale(0.97,1)" text-anchor="middle" font-family="Liberation Sans, sans-serif" font-size="14.4">10</text><text transform="translate(554.3,473.6) scale(0.97,1)" text-anchor="middle" font-family="Liberation Sans, sans-serif" font-size="14.4">100</text><text transform="translate(611.1,473.6) scale(0.97,1)" text-anchor="middle" font-family="Liberation Sans, sans-serif" font-size="14.4">1,000</text><text transform="translate(667.9,473.6) scale(0.97,1)" text-anchor="middle" font-family="Liberation Sans, sans-serif" font-size="14.4">10,000</text><text transform="translate(421.5,402.9) scale(0.97,1)" text-anchor="end" font-family="Liberation Sans, sans-serif" font-size="14.4">10</text><text transform="translate(421.5,343) scale(0.97,1)" text-anchor="end" font-family="Liberation Sans, sans-serif" font-size="14.4">100</text><text transform="translate(421.5,283.1) scale(0.97,1)" text-anchor="end" font-family="Liberation Sans, sans-serif" font-size="14.4">1,000</text><text transform="translate(421.5,223.2) scale(0.97,1)" text-anchor="end" font-family="Liberation Sans, sans-serif" font-size="14.4">10,000</text><text transform="translate(421.5,458) scale(0.97,1)" text-anchor="end" font-family="Liberation Sans, sans-serif" font-size="14.4">1</text><text x="535" y="501" font-family="Liberation Sans, sans-serif" font-size="21"><tspan font-size="11.5" dy="-6.5">12</tspan><tspan dy="6.5">C/</tspan><tspan font-size="11.5" dy="-6.5">13</tspan><tspan dy="6.5">C</tspan></text><text transform="translate(391,333.5) rotate(-90)" text-anchor="middle" font-family="Liberation Sans, sans-serif" font-size="21"><tspan font-size="11.5" dy="-6.5">14</tspan><tspan dy="6.5">N/</tspan><tspan font-size="11.5" dy="-6.5">15</tspan><tspan dy="6.5">N</tspan></text><text transform="translate(415.5,146) rotate(-90)" text-anchor="middle" font-family="Liberation Sans, sans-serif" font-size="18.8">Rel. Freq.</text><text x="424.3" y="94.4" font-family="Liberation Sans, sans-serif" font-size="19.5">b</text><text x="435.6" y="124.9" font-family="Liberation Sans, sans-serif" font-size="11.7" fill="#555">Literature SiC</text><text x="435.6" y="138.7" font-family="Liberation Sans, sans-serif" font-size="11.7" fill="#f7931e">Ryugu SiC</text><rect x="627.6" y="158.7" width="88.8" height="172.3" fill="#fff" stroke="#000" stroke-width="1.1"/><text x="671.6" y="175" text-anchor="middle" font-family="Liberation Sans, sans-serif" font-size="12.2">Ryugu</text><text x="654.2" y="191.6" font-family="Liberation Sans, sans-serif" font-size="12.2">SiC A</text><text x="654.2" y="206" font-family="Liberation Sans, sans-serif" font-size="12.2">SiC C</text><text x="654.2" y="220.4" font-family="Liberation Sans, sans-serif" font-size="12.2">C-anom. A</text><text x="654.2" y="234.9" font-family="Liberation Sans, sans-serif" font-size="12.2">C-anom. C</text><text x="654.2" y="249.3" font-family="Liberation Sans, sans-serif" font-size="12.2">Graphite</text><text x="654.2" y="263.7" font-family="Liberation Sans, sans-serif" font-size="12.2">OM</text><circle cx="644.3" cy="187.4" r="3.6" fill="#0a0af5"/><circle cx="644.3" cy="201.8" r="3.6" fill="#f50a0a" stroke="#000" stroke-width="0.8"/><path d="M644.3 211.6l4.5 8.4h-9z" fill="#0a0af5"/><path d="M644.3 226.2l4.4 8.2h-8.8z" fill="#f50a0a" stroke="#000" stroke-width="0.9"/><circle cx="644.3" cy="244.8" r="3.3" fill="#fff" stroke="#a020d0" stroke-width="1.2"/><path d="M644.3 254.6 L645.8 258.4 L649.8 258.6 L646.7 261.2 L647.7 265.1 L644.3 262.9 L640.9 265.1 L641.9 261.2 L638.8 258.6 L642.8 258.4z" fill="#22dd22" stroke="#000" stroke-width="0.9"/><text x="671.6" y="284.5" text-anchor="middle" font-family="Liberation Sans, sans-serif" font-size="12.2">Literature SiC</text><path d="M638.8 290.2l1.9 3l-1.9 3l-1.9-3z" fill="#fff" stroke="#777" stroke-width="0.8"/><text x="645.5" y="297.5" font-family="Liberation Sans, sans-serif" font-size="12.2">Mainstream</text><path d="M634.2 304.2l5 5m-5 0l5-5" stroke="#8c8c8c" stroke-width="0.9"/><text x="643" y="311.9" font-family="Liberation Sans, sans-serif" font-size="12.2">X</text><path d="M669.5 303.6l2 3.1l-2 3.1l-2-3.1z" fill="#fff" stroke="#111" stroke-width="0.9"/><text x="676" y="311.9" font-family="Liberation Sans, sans-serif" font-size="12.2">Y</text><path d="M696 303.6l2.1 3.1l-2.1 3.1l-2.1-3.1z" fill="#000"/><text x="701.5" y="311.9" font-family="Liberation Sans, sans-serif" font-size="12.2">Z</text><path d="M632.4 319.2h5v5h-5z" fill="#b5b5b5" stroke="#a0a0a0" stroke-width="0.7"/><text x="641.3" y="326.3" font-family="Liberation Sans, sans-serif" font-size="12.2">AB</text><path d="M667.8 319.2h5v5h-5z" fill="none" stroke="#111" stroke-width="1.1"/><text x="677.2" y="326.3" font-family="Liberation Sans, sans-serif" font-size="12.2">N</text><path d="M694.5 319.5h4.6v4.6h-4.6z" fill="#000"/><text x="703.8" y="326.3" font-family="Liberation Sans, sans-serif" font-size="12.2">C</text></g><g id="pc"><path d="M94.5 545.3l5.4 5.4m-5.4 0l5.4 -5.4 M64 592.3l5.4 5.4m-5.4 0l5.4 -5.4 M63.6 576.7l5.4 5.4m-5.4 0l5.4 -5.4 M117.7 573.3l5.4 5.4m-5.4 0l5.4 -5.4 M81.3 554.3l5.4 5.4m-5.4 0l5.4 -5.4 M77.4 580.1l5.4 5.4m-5.4 0l5.4 -5.4 M89.9 542.2l5.4 5.4m-5.4 0l5.4 -5.4 M56.3 567.3l5.4 5.4m-5.4 0l5.4 -5.4 M90.3 552l5.4 5.4m-5.4 0l5.4 -5.4 M63.1 552.2l5.4 5.4m-5.4 0l5.4 -5.4 M52 534.9l5.4 5.4m-5.4 0l5.4 -5.4 M76.4 564.3l5.4 5.4m-5.4 0l5.4 -5.4 M82.1 571l5.4 5.4m-5.4 0l5.4 -5.4 M81.1 537.9l5.4 5.4m-5.4 0l5.4 -5.4 M87 537.1l5.4 5.4m-5.4 0l5.4 -5.4 M88.4 561.3l5.4 5.4m-5.4 0l5.4 -5.4 M54.3 560.9l5.4 5.4m-5.4 0l5.4 -5.4 M72.2 546.4l5.4 5.4m-5.4 0l5.4 -5.4 M89.3 568.2l5.4 5.4m-5.4 0l5.4 -5.4 M83.6 543.1l5.4 5.4m-5.4 0l5.4 -5.4 M55.9 545.5l5.4 5.4m-5.4 0l5.4 -5.4 M47.3 578.5l5.4 5.4m-5.4 0l5.4 -5.4 M113.4 550.6l5.4 5.4m-5.4 0l5.4 -5.4 M58.4 580.7l5.4 5.4m-5.4 0l5.4 -5.4 M67 566.8l5.4 5.4m-5.4 0l5.4 -5.4 M93.1 516.9l5.4 5.4m-5.4 0l5.4 -5.4 M58.9 557.6l5.4 5.4m-5.4 0l5.4 -5.4 M52.8 572.7l5.4 5.4m-5.4 0l5.4 -5.4 M77.8 588.6l5.4 5.4m-5.4 0l5.4 -5.4 M123.7 526.5l5.4 5.4m-5.4 0l5.4 -5.4 M50.7 517.5l5.4 5.4m-5.4 0l5.4 -5.4 M123.3 386.5l5.4 5.4m-5.4 0l5.4 -5.4 M115 420.2l5.4 5.4m-5.4 0l5.4 -5.4 M57.3 463.1l5.4 5.4m-5.4 0l5.4 -5.4 M92.3 572.3l5.4 5.4m-5.4 0l5.4 -5.4 M87.3 587.3l5.4 5.4m-5.4 0l5.4 -5.4 M62.3 595.3l5.4 5.4m-5.4 0l5.4 -5.4 M97.3 557.3l5.4 5.4m-5.4 0l5.4 -5.4" stroke="#8c8c8c" stroke-width="1" fill="none"/><path d="M216.2 375.1l1.9 2.8l-1.9 2.8l-1.9 -2.8z M199.7 477.1l1.9 2.8l-1.9 2.8l-1.9 -2.8z M106.9 460.2l1.9 2.8l-1.9 2.8l-1.9 -2.8z M71.1 560.2l1.9 2.8l-1.9 2.8l-1.9 -2.8z M108.1 490.3l1.9 2.8l-1.9 2.8l-1.9 -2.8z M135.3 440.9l1.9 2.8l-1.9 2.8l-1.9 -2.8z M183.7 455.3l1.9 2.8l-1.9 2.8l-1.9 -2.8z M51.8 552.6l1.9 2.8l-1.9 2.8l-1.9 -2.8z M196.9 433.5l1.9 2.8l-1.9 2.8l-1.9 -2.8z M186.3 449.2l1.9 2.8l-1.9 2.8l-1.9 -2.8z M148.2 424.1l1.9 2.8l-1.9 2.8l-1.9 -2.8z M193.2 384.2l1.9 2.8l-1.9 2.8l-1.9 -2.8z M152.9 474.3l1.9 2.8l-1.9 2.8l-1.9 -2.8z M199.7 501.3l1.9 2.8l-1.9 2.8l-1.9 -2.8z M215.3 380.1l1.9 2.8l-1.9 2.8l-1.9 -2.8z M223.2 387.2l1.9 2.8l-1.9 2.8l-1.9 -2.8z M210.7 410.7l1.9 2.8l-1.9 2.8l-1.9 -2.8z M188 477.5l1.9 2.8l-1.9 2.8l-1.9 -2.8z M191.6 404.4l1.9 2.8l-1.9 2.8l-1.9 -2.8z M208.8 475.1l1.9 2.8l-1.9 2.8l-1.9 -2.8z M83.9 524l1.9 2.8l-1.9 2.8l-1.9 -2.8z M128.5 471.5l1.9 2.8l-1.9 2.8l-1.9 -2.8z M97.8 522.2l1.9 2.8l-1.9 2.8l-1.9 -2.8z M136.2 446l1.9 2.8l-1.9 2.8l-1.9 -2.8z M141.9 423.2l1.9 2.8l-1.9 2.8l-1.9 -2.8z M94.3 517.7l1.9 2.8l-1.9 2.8l-1.9 -2.8z M195.4 478.7l1.9 2.8l-1.9 2.8l-1.9 -2.8z M118.6 474.3l1.9 2.8l-1.9 2.8l-1.9 -2.8z M170.3 469.1l1.9 2.8l-1.9 2.8l-1.9 -2.8z M209.9 381.7l1.9 2.8l-1.9 2.8l-1.9 -2.8z M104.5 478.2l1.9 2.8l-1.9 2.8l-1.9 -2.8z M123.2 444.4l1.9 2.8l-1.9 2.8l-1.9 -2.8z M117.1 536l1.9 2.8l-1.9 2.8l-1.9 -2.8z M220.1 371.5l1.9 2.8l-1.9 2.8l-1.9 -2.8z M184.6 500.6l1.9 2.8l-1.9 2.8l-1.9 -2.8z M142.6 439.2l1.9 2.8l-1.9 2.8l-1.9 -2.8z M100.8 507.9l1.9 2.8l-1.9 2.8l-1.9 -2.8z M209.6 373.7l1.9 2.8l-1.9 2.8l-1.9 -2.8z M186.9 463.1l1.9 2.8l-1.9 2.8l-1.9 -2.8z M210.9 416.3l1.9 2.8l-1.9 2.8l-1.9 -2.8z M205.8 435.4l1.9 2.8l-1.9 2.8l-1.9 -2.8z M203.7 386l1.9 2.8l-1.9 2.8l-1.9 -2.8z M112.6 524.1l1.9 2.8l-1.9 2.8l-1.9 -2.8z M195.1 485.5l1.9 2.8l-1.9 2.8l-1.9 -2.8z M187.9 435.6l1.9 2.8l-1.9 2.8l-1.9 -2.8z M144.2 447.6l1.9 2.8l-1.9 2.8l-1.9 -2.8z M196.6 414.3l1.9 2.8l-1.9 2.8l-1.9 -2.8z M155.1 414.1l1.9 2.8l-1.9 2.8l-1.9 -2.8z M137.6 454.8l1.9 2.8l-1.9 2.8l-1.9 -2.8z M197.2 463.2l1.9 2.8l-1.9 2.8l-1.9 -2.8z M105.2 485.5l1.9 2.8l-1.9 2.8l-1.9 -2.8z M128.9 459.5l1.9 2.8l-1.9 2.8l-1.9 -2.8z M202.7 462.9l1.9 2.8l-1.9 2.8l-1.9 -2.8z M191.9 432.4l1.9 2.8l-1.9 2.8l-1.9 -2.8z M117.7 443l1.9 2.8l-1.9 2.8l-1.9 -2.8z M126.7 433.6l1.9 2.8l-1.9 2.8l-1.9 -2.8z M200.9 389.6l1.9 2.8l-1.9 2.8l-1.9 -2.8z M224.2 421.1l1.9 2.8l-1.9 2.8l-1.9 -2.8z M87.1 518.1l1.9 2.8l-1.9 2.8l-1.9 -2.8z M181.8 492.2l1.9 2.8l-1.9 2.8l-1.9 -2.8z M193.8 468.7l1.9 2.8l-1.9 2.8l-1.9 -2.8z M166.4 494l1.9 2.8l-1.9 2.8l-1.9 -2.8z M213.1 394.2l1.9 2.8l-1.9 2.8l-1.9 -2.8z M109.6 533.6l1.9 2.8l-1.9 2.8l-1.9 -2.8z M90.1 513l1.9 2.8l-1.9 2.8l-1.9 -2.8z M177.3 408.7l1.9 2.8l-1.9 2.8l-1.9 -2.8z M212.6 446.1l1.9 2.8l-1.9 2.8l-1.9 -2.8z M200.8 376.9l1.9 2.8l-1.9 2.8l-1.9 -2.8z M120.2 461.9l1.9 2.8l-1.9 2.8l-1.9 -2.8z M193.2 455.1l1.9 2.8l-1.9 2.8l-1.9 -2.8z M59.8 501.7l1.9 2.8l-1.9 2.8l-1.9 -2.8z M111.6 478.3l1.9 2.8l-1.9 2.8l-1.9 -2.8z M202 427.7l1.9 2.8l-1.9 2.8l-1.9 -2.8z M203.5 366.7l1.9 2.8l-1.9 2.8l-1.9 -2.8z M179 390.6l1.9 2.8l-1.9 2.8l-1.9 -2.8z M126.6 455.5l1.9 2.8l-1.9 2.8l-1.9 -2.8z M100.2 500l1.9 2.8l-1.9 2.8l-1.9 -2.8z M188.3 373.1l1.9 2.8l-1.9 2.8l-1.9 -2.8z M207.6 399.3l1.9 2.8l-1.9 2.8l-1.9 -2.8z M73.4 518l1.9 2.8l-1.9 2.8l-1.9 -2.8z M77.5 566.3l1.9 2.8l-1.9 2.8l-1.9 -2.8z M118.6 529.1l1.9 2.8l-1.9 2.8l-1.9 -2.8z M181.7 434.1l1.9 2.8l-1.9 2.8l-1.9 -2.8z M86.3 471.9l1.9 2.8l-1.9 2.8l-1.9 -2.8z M196.8 450.1l1.9 2.8l-1.9 2.8l-1.9 -2.8z M192.2 463.3l1.9 2.8l-1.9 2.8l-1.9 -2.8z M90.7 526.3l1.9 2.8l-1.9 2.8l-1.9 -2.8z M114.1 466.7l1.9 2.8l-1.9 2.8l-1.9 -2.8z M74.7 544.1l1.9 2.8l-1.9 2.8l-1.9 -2.8z M208.5 389.4l1.9 2.8l-1.9 2.8l-1.9 -2.8z M102 492.5l1.9 2.8l-1.9 2.8l-1.9 -2.8z M98.7 486.6l1.9 2.8l-1.9 2.8l-1.9 -2.8z M57.4 555.3l1.9 2.8l-1.9 2.8l-1.9 -2.8z M93.6 508.8l1.9 2.8l-1.9 2.8l-1.9 -2.8z M119.9 467.2l1.9 2.8l-1.9 2.8l-1.9 -2.8z M71.1 524.2l1.9 2.8l-1.9 2.8l-1.9 -2.8z M171.5 462.5l1.9 2.8l-1.9 2.8l-1.9 -2.8z M149.9 492.7l1.9 2.8l-1.9 2.8l-1.9 -2.8z M165.2 488.8l1.9 2.8l-1.9 2.8l-1.9 -2.8z M79.6 518.1l1.9 2.8l-1.9 2.8l-1.9 -2.8z M103.5 512.9l1.9 2.8l-1.9 2.8l-1.9 -2.8z M191.9 419.4l1.9 2.8l-1.9 2.8l-1.9 -2.8z M203.9 372.1l1.9 2.8l-1.9 2.8l-1.9 -2.8z M120.6 454.6l1.9 2.8l-1.9 2.8l-1.9 -2.8z M201.6 494l1.9 2.8l-1.9 2.8l-1.9 -2.8z M204.3 413.3l1.9 2.8l-1.9 2.8l-1.9 -2.8z M199.4 421.5l1.9 2.8l-1.9 2.8l-1.9 -2.8z M63.8 545.1l1.9 2.8l-1.9 2.8l-1.9 -2.8z M181.3 439.8l1.9 2.8l-1.9 2.8l-1.9 -2.8z M73.4 530.2l1.9 2.8l-1.9 2.8l-1.9 -2.8z M66.5 529.7l1.9 2.8l-1.9 2.8l-1.9 -2.8z M78.1 502l1.9 2.8l-1.9 2.8l-1.9 -2.8z M185 396.6l1.9 2.8l-1.9 2.8l-1.9 -2.8z M164.4 395.8l1.9 2.8l-1.9 2.8l-1.9 -2.8z M95.5 480.2l1.9 2.8l-1.9 2.8l-1.9 -2.8z M208.4 421.4l1.9 2.8l-1.9 2.8l-1.9 -2.8z M106.8 502.7l1.9 2.8l-1.9 2.8l-1.9 -2.8z M198.3 402.2l1.9 2.8l-1.9 2.8l-1.9 -2.8z M217.7 402.4l1.9 2.8l-1.9 2.8l-1.9 -2.8z M206.3 407.6l1.9 2.8l-1.9 2.8l-1.9 -2.8z M124.1 474.4l1.9 2.8l-1.9 2.8l-1.9 -2.8z M148.1 442.3l1.9 2.8l-1.9 2.8l-1.9 -2.8z M133.4 459.3l1.9 2.8l-1.9 2.8l-1.9 -2.8z M125.9 449.8l1.9 2.8l-1.9 2.8l-1.9 -2.8z M126.2 440.6l1.9 2.8l-1.9 2.8l-1.9 -2.8z M187.6 430.2l1.9 2.8l-1.9 2.8l-1.9 -2.8z M188.6 440.9l1.9 2.8l-1.9 2.8l-1.9 -2.8z M167.6 474.6l1.9 2.8l-1.9 2.8l-1.9 -2.8z M190.1 489l1.9 2.8l-1.9 2.8l-1.9 -2.8z M111.4 493.6l1.9 2.8l-1.9 2.8l-1.9 -2.8z M69.6 545.4l1.9 2.8l-1.9 2.8l-1.9 -2.8z M218.9 365.9l1.9 2.8l-1.9 2.8l-1.9 -2.8z M200.4 410.7l1.9 2.8l-1.9 2.8l-1.9 -2.8z M202.1 451.8l1.9 2.8l-1.9 2.8l-1.9 -2.8z M207.5 429.9l1.9 2.8l-1.9 2.8l-1.9 -2.8z M208.7 485.3l1.9 2.8l-1.9 2.8l-1.9 -2.8z M200.5 446.1l1.9 2.8l-1.9 2.8l-1.9 -2.8z M179.1 444.9l1.9 2.8l-1.9 2.8l-1.9 -2.8z M94.2 501.2l1.9 2.8l-1.9 2.8l-1.9 -2.8z M66.9 550.2l1.9 2.8l-1.9 2.8l-1.9 -2.8z M108.1 508.4l1.9 2.8l-1.9 2.8l-1.9 -2.8z M225.4 379.1l1.9 2.8l-1.9 2.8l-1.9 -2.8z M98 514.2l1.9 2.8l-1.9 2.8l-1.9 -2.8z M189.5 470.4l1.9 2.8l-1.9 2.8l-1.9 -2.8z M81.2 529.7l1.9 2.8l-1.9 2.8l-1.9 -2.8z M201.3 482l1.9 2.8l-1.9 2.8l-1.9 -2.8z M197.2 495.5l1.9 2.8l-1.9 2.8l-1.9 -2.8z M235.3 374.2l1.9 2.8l-1.9 2.8l-1.9 -2.8z M73.4 500.4l1.9 2.8l-1.9 2.8l-1.9 -2.8z M112.9 512.2l1.9 2.8l-1.9 2.8l-1.9 -2.8z M184.2 380l1.9 2.8l-1.9 2.8l-1.9 -2.8z M97.6 530.4l1.9 2.8l-1.9 2.8l-1.9 -2.8z M179.3 461.7l1.9 2.8l-1.9 2.8l-1.9 -2.8z M201 487.4l1.9 2.8l-1.9 2.8l-1.9 -2.8z M102.7 472.3l1.9 2.8l-1.9 2.8l-1.9 -2.8z M115.8 456l1.9 2.8l-1.9 2.8l-1.9 -2.8z M51.9 562.5l1.9 2.8l-1.9 2.8l-1.9 -2.8z M172.9 446l1.9 2.8l-1.9 2.8l-1.9 -2.8z M166.9 404.8l1.9 2.8l-1.9 2.8l-1.9 -2.8z M154.3 418.5l1.9 2.8l-1.9 2.8l-1.9 -2.8z M161.8 416.5l1.9 2.8l-1.9 2.8l-1.9 -2.8z M195.6 407.7l1.9 2.8l-1.9 2.8l-1.9 -2.8z M86 499.7l1.9 2.8l-1.9 2.8l-1.9 -2.8z M86.6 508.9l1.9 2.8l-1.9 2.8l-1.9 -2.8z M80.4 508.6l1.9 2.8l-1.9 2.8l-1.9 -2.8z M213.5 405.5l1.9 2.8l-1.9 2.8l-1.9 -2.8z M194.7 437.7l1.9 2.8l-1.9 2.8l-1.9 -2.8z M57.6 517.9l1.9 2.8l-1.9 2.8l-1.9 -2.8z M87.7 530.2l1.9 2.8l-1.9 2.8l-1.9 -2.8z M167.8 450.7l1.9 2.8l-1.9 2.8l-1.9 -2.8z M86.4 563.1l1.9 2.8l-1.9 2.8l-1.9 -2.8z M102.6 524.4l1.9 2.8l-1.9 2.8l-1.9 -2.8z M107.8 471.7l1.9 2.8l-1.9 2.8l-1.9 -2.8z M108.7 521.7l1.9 2.8l-1.9 2.8l-1.9 -2.8z M162.7 424.4l1.9 2.8l-1.9 2.8l-1.9 -2.8z M175.1 399.3l1.9 2.8l-1.9 2.8l-1.9 -2.8z M201.4 433.1l1.9 2.8l-1.9 2.8l-1.9 -2.8z M159.3 364.7l1.9 2.8l-1.9 2.8l-1.9 -2.8z M165.3 362.6l1.9 2.8l-1.9 2.8l-1.9 -2.8z M171.7 365.3l1.9 2.8l-1.9 2.8l-1.9 -2.8z M146.5 370.1l1.9 2.8l-1.9 2.8l-1.9 -2.8z M155 386.4l1.9 2.8l-1.9 2.8l-1.9 -2.8z M148 406.1l1.9 2.8l-1.9 2.8l-1.9 -2.8z M159.7 411.4l1.9 2.8l-1.9 2.8l-1.9 -2.8z M152.5 417l1.9 2.8l-1.9 2.8l-1.9 -2.8z M160.8 421.2l1.9 2.8l-1.9 2.8l-1.9 -2.8z M129.7 390.5l1.9 2.8l-1.9 2.8l-1.9 -2.8z M102.8 436.7l1.9 2.8l-1.9 2.8l-1.9 -2.8z M120 429.9l1.9 2.8l-1.9 2.8l-1.9 -2.8z M102.2 451.2l1.9 2.8l-1.9 2.8l-1.9 -2.8z M118.3 435.7l1.9 2.8l-1.9 2.8l-1.9 -2.8z M148.4 430.5l1.9 2.8l-1.9 2.8l-1.9 -2.8z M215.4 487.4l1.9 2.8l-1.9 2.8l-1.9 -2.8z M215.4 511.7l1.9 2.8l-1.9 2.8l-1.9 -2.8z M219.5 535.1l1.9 2.8l-1.9 2.8l-1.9 -2.8z M228.6 587.5l1.9 2.8l-1.9 2.8l-1.9 -2.8z M177.6 562.7l1.9 2.8l-1.9 2.8l-1.9 -2.8z M172.1 560l1.9 2.8l-1.9 2.8l-1.9 -2.8z M184.5 517.2l1.9 2.8l-1.9 2.8l-1.9 -2.8z M226 389.2l1.9 2.8l-1.9 2.8l-1.9 -2.8z M230 392.2l1.9 2.8l-1.9 2.8l-1.9 -2.8z M262 377.2l1.9 2.8l-1.9 2.8l-1.9 -2.8z M267 395.2l1.9 2.8l-1.9 2.8l-1.9 -2.8z M252 464.2l1.9 2.8l-1.9 2.8l-1.9 -2.8z M244 464.2l1.9 2.8l-1.9 2.8l-1.9 -2.8z M274 456.2l1.9 2.8l-1.9 2.8l-1.9 -2.8z M278 460.2l1.9 2.8l-1.9 2.8l-1.9 -2.8z M208 465.2l1.9 2.8l-1.9 2.8l-1.9 -2.8z M213 467.2l1.9 2.8l-1.9 2.8l-1.9 -2.8z M58 497.2l1.9 2.8l-1.9 2.8l-1.9 -2.8z M56 537.2l1.9 2.8l-1.9 2.8l-1.9 -2.8z M53 572.2l1.9 2.8l-1.9 2.8l-1.9 -2.8z M62 527.2l1.9 2.8l-1.9 2.8l-1.9 -2.8z M100 460.2l1.9 2.8l-1.9 2.8l-1.9 -2.8z M92 467.2l1.9 2.8l-1.9 2.8l-1.9 -2.8z" fill="#fff" stroke="#9a9a9a" stroke-width="0.9"/><path d="M166.1 474.4h4.8v4.8h-4.8z M113.2 489.3h4.8v4.8h-4.8z M194.3 408.4h4.8v4.8h-4.8z M120.1 499.7h4.8v4.8h-4.8z M118.9 474.7h4.8v4.8h-4.8z M120.4 479.1h4.8v4.8h-4.8z M168.8 489.2h4.8v4.8h-4.8z M122.2 495.3h4.8v4.8h-4.8z M183.4 414.1h4.8v4.8h-4.8z M189.4 397.1h4.8v4.8h-4.8z M174.5 504.5h4.8v4.8h-4.8z M142.1 532.8h4.8v4.8h-4.8z M133.7 524.5h4.8v4.8h-4.8z M198.6 372.3h4.8v4.8h-4.8z M157.2 498h4.8v4.8h-4.8z M137.3 471.6h4.8v4.8h-4.8z M168.8 435.2h4.8v4.8h-4.8z M135.5 520.8h4.8v4.8h-4.8z M173 428.7h4.8v4.8h-4.8z M156.7 510.7h4.8v4.8h-4.8z M187 439.9h4.8v4.8h-4.8z M106.2 494.1h4.8v4.8h-4.8z M130.8 520.7h4.8v4.8h-4.8z M114.5 509.5h4.8v4.8h-4.8z M120.3 464.1h4.8v4.8h-4.8z M198.5 378.9h4.8v4.8h-4.8z M151.9 466h4.8v4.8h-4.8z M156.1 472.5h4.8v4.8h-4.8z M122.4 475.9h4.8v4.8h-4.8z M203.7 381.3h4.8v4.8h-4.8z M151.7 489.8h4.8v4.8h-4.8z M118.7 485h4.8v4.8h-4.8z M132.1 471.7h4.8v4.8h-4.8z M146.9 462.8h4.8v4.8h-4.8z M170.4 412.5h4.8v4.8h-4.8z M178.5 395.7h4.8v4.8h-4.8z M139.6 460.1h4.8v4.8h-4.8z M175.8 485.8h4.8v4.8h-4.8z M145.6 458.6h4.8v4.8h-4.8z M121.9 507.9h4.8v4.8h-4.8z M131.4 510.8h4.8v4.8h-4.8z M193.2 404.8h4.8v4.8h-4.8z M124.2 471.9h4.8v4.8h-4.8z M143.8 466.3h4.8v4.8h-4.8z M175.6 432.5h4.8v4.8h-4.8z M156.9 494.5h4.8v4.8h-4.8z M161.7 445.8h4.8v4.8h-4.8z M160.8 490.1h4.8v4.8h-4.8z M101.6 521.5h4.8v4.8h-4.8z M119.1 518.6h4.8v4.8h-4.8z M143.3 522.9h4.8v4.8h-4.8z M182.4 445.4h4.8v4.8h-4.8z M103.2 500.6h4.8v4.8h-4.8z M179.9 501.6h4.8v4.8h-4.8z M140 480.6h4.8v4.8h-4.8z M117.6 495.3h4.8v4.8h-4.8z M161.6 449.9h4.8v4.8h-4.8z M161.1 512.3h4.8v4.8h-4.8z M195.5 381.5h4.8v4.8h-4.8z M186.5 496.1h4.8v4.8h-4.8z M176.5 415.7h4.8v4.8h-4.8z M123.3 514.6h4.8v4.8h-4.8z M187.3 418.1h4.8v4.8h-4.8z M181 441.6h4.8v4.8h-4.8z M160.2 478.2h4.8v4.8h-4.8z M194.6 385.2h4.8v4.8h-4.8z M109.6 523.5h4.8v4.8h-4.8z M156.2 443.4h4.8v4.8h-4.8z M176.4 472.8h4.8v4.8h-4.8z M149 447.4h4.8v4.8h-4.8z M142.7 438.5h4.8v4.8h-4.8z M188.2 410.1h4.8v4.8h-4.8z M151.7 478.8h4.8v4.8h-4.8z M190.7 385.7h4.8v4.8h-4.8z M132.7 501.1h4.8v4.8h-4.8z M169.6 429.2h4.8v4.8h-4.8z M185.6 392.3h4.8v4.8h-4.8z M116.9 502h4.8v4.8h-4.8z M180.2 485.3h4.8v4.8h-4.8z M172.9 473.8h4.8v4.8h-4.8z M126.5 512h4.8v4.8h-4.8z M154.2 461.7h4.8v4.8h-4.8z M169.1 501.6h4.8v4.8h-4.8z M176.2 399.1h4.8v4.8h-4.8z M141.2 484h4.8v4.8h-4.8z M161.3 442.1h4.8v4.8h-4.8z M164.7 502.1h4.8v4.8h-4.8z M176 490.4h4.8v4.8h-4.8z M207.9 366.6h4.8v4.8h-4.8z M165.1 427.6h4.8v4.8h-4.8z M180.5 419h4.8v4.8h-4.8z M165.3 484.3h4.8v4.8h-4.8z M169.6 468.3h4.8v4.8h-4.8z M192.4 399.1h4.8v4.8h-4.8z M138.6 491.1h4.8v4.8h-4.8z M181.9 454.8h4.8v4.8h-4.8z M173.2 422.2h4.8v4.8h-4.8z M122.8 527.2h4.8v4.8h-4.8z M138.4 508.8h4.8v4.8h-4.8z M142.4 509.6h4.8v4.8h-4.8z M149.8 475.3h4.8v4.8h-4.8z M155.9 517.9h4.8v4.8h-4.8z M185.2 386.2h4.8v4.8h-4.8z M148.9 482.4h4.8v4.8h-4.8z M128.8 483.7h4.8v4.8h-4.8z M192.9 389.5h4.8v4.8h-4.8z M164 437.5h4.8v4.8h-4.8z M165.9 493.5h4.8v4.8h-4.8z M173.6 465.7h4.8v4.8h-4.8z M107 503.1h4.8v4.8h-4.8z M179.7 457.7h4.8v4.8h-4.8z M129.8 527.6h4.8v4.8h-4.8z M153.8 482.8h4.8v4.8h-4.8z M151 470h4.8v4.8h-4.8z M169.8 507.5h4.8v4.8h-4.8z M179.9 493.6h4.8v4.8h-4.8z M122.2 530.9h4.8v4.8h-4.8z M199.7 388.9h4.8v4.8h-4.8z M162.2 468.7h4.8v4.8h-4.8z M173.6 480.6h4.8v4.8h-4.8z M157.9 427.1h4.8v4.8h-4.8z M172.3 441.8h4.8v4.8h-4.8z M115.8 514.3h4.8v4.8h-4.8z M152 444.6h4.8v4.8h-4.8z M142.6 490.2h4.8v4.8h-4.8z M186.3 423.3h4.8v4.8h-4.8z M151.5 458.6h4.8v4.8h-4.8z M157.9 439.1h4.8v4.8h-4.8z M173.7 470.4h4.8v4.8h-4.8z M176.4 425.9h4.8v4.8h-4.8z M186.9 431.4h4.8v4.8h-4.8z M168.9 484h4.8v4.8h-4.8z M133.8 531.4h4.8v4.8h-4.8z M136 450.9h4.8v4.8h-4.8z M109 497.5h4.8v4.8h-4.8z M167.8 445.2h4.8v4.8h-4.8z M140.2 503.4h4.8v4.8h-4.8z M153 436.9h4.8v4.8h-4.8z M155.3 503.5h4.8v4.8h-4.8z M193.4 376.6h4.8v4.8h-4.8z M165.1 514h4.8v4.8h-4.8z M140.1 452.8h4.8v4.8h-4.8z M182.5 427.8h4.8v4.8h-4.8z M146.6 472h4.8v4.8h-4.8z M125.9 480.6h4.8v4.8h-4.8z M171.9 455.1h4.8v4.8h-4.8z M126 461.3h4.8v4.8h-4.8z M135.6 466.8h4.8v4.8h-4.8z M139 520.9h4.8v4.8h-4.8z M148.3 525.9h4.8v4.8h-4.8z M152.9 508.4h4.8v4.8h-4.8z M127.9 476.8h4.8v4.8h-4.8z M182.3 401.5h4.8v4.8h-4.8z M127 502.4h4.8v4.8h-4.8z M141.2 470.1h4.8v4.8h-4.8z M151.4 516.7h4.8v4.8h-4.8z M163.1 505h4.8v4.8h-4.8z M132.2 460h4.8v4.8h-4.8z M112.3 503h4.8v4.8h-4.8z M115.3 524.1h4.8v4.8h-4.8z M169.1 515.7h4.8v4.8h-4.8z M132.1 485.2h4.8v4.8h-4.8z M177.4 480.1h4.8v4.8h-4.8z M106.4 522.3h4.8v4.8h-4.8z M115.8 492.4h4.8v4.8h-4.8z M116.5 527.9h4.8v4.8h-4.8z M138.6 528.7h4.8v4.8h-4.8z M165.9 461.3h4.8v4.8h-4.8z M166.7 499.2h4.8v4.8h-4.8z M155.4 477.6h4.8v4.8h-4.8z M160.1 457.4h4.8v4.8h-4.8z M156.7 447.2h4.8v4.8h-4.8z M138.9 515.8h4.8v4.8h-4.8z M179.8 476.6h4.8v4.8h-4.8z M175.4 450.2h4.8v4.8h-4.8z M145.5 498.9h4.8v4.8h-4.8z M182.5 432.2h4.8v4.8h-4.8z M141.1 464.1h4.8v4.8h-4.8z M107.7 508.1h4.8v4.8h-4.8z M180.2 470.7h4.8v4.8h-4.8z M160.3 500.9h4.8v4.8h-4.8z M112.4 528.6h4.8v4.8h-4.8z M122.1 487.5h4.8v4.8h-4.8z M175.9 462.1h4.8v4.8h-4.8z M182.1 449.8h4.8v4.8h-4.8z M145.5 483.3h4.8v4.8h-4.8z M151.6 496.2h4.8v4.8h-4.8z M176.9 404.1h4.8v4.8h-4.8z M171.3 432.6h4.8v4.8h-4.8z M124.7 522.8h4.8v4.8h-4.8z M141.8 475.4h4.8v4.8h-4.8z M174.9 497.6h4.8v4.8h-4.8z M132 490.2h4.8v4.8h-4.8z M120.2 504.4h4.8v4.8h-4.8z M130.4 498.1h4.8v4.8h-4.8z M103.5 490.7h4.8v4.8h-4.8z M161.3 520.4h4.8v4.8h-4.8z M115.1 517.7h4.8v4.8h-4.8z M153 524h4.8v4.8h-4.8z M178.7 434.2h4.8v4.8h-4.8z M124.9 533.5h4.8v4.8h-4.8z M144.2 516.6h4.8v4.8h-4.8z M185.4 399.2h4.8v4.8h-4.8z M163.2 423.8h4.8v4.8h-4.8z M131.5 537.3h4.8v4.8h-4.8z M171.8 417.6h4.8v4.8h-4.8z M144 478.7h4.8v4.8h-4.8z M162.1 509h4.8v4.8h-4.8z M158.5 461.4h4.8v4.8h-4.8z M181.9 393.9h4.8v4.8h-4.8z M158.2 507h4.8v4.8h-4.8z M193.5 414.9h4.8v4.8h-4.8z M148.2 490.4h4.8v4.8h-4.8z M180.4 488.8h4.8v4.8h-4.8z M184.1 462.2h4.8v4.8h-4.8z M126.4 491.9h4.8v4.8h-4.8z M158.1 487.4h4.8v4.8h-4.8z M173.3 437.3h4.8v4.8h-4.8z M164.9 521.5h4.8v4.8h-4.8z M128.4 508.1h4.8v4.8h-4.8z M177.5 447.4h4.8v4.8h-4.8z M132.4 480.8h4.8v4.8h-4.8z M126.6 536.9h4.8v4.8h-4.8z M189.7 379.5h4.8v4.8h-4.8z M149 510.3h4.8v4.8h-4.8z M149.2 499.7h4.8v4.8h-4.8z M185.9 472.7h4.8v4.8h-4.8z M188.6 435.4h4.8v4.8h-4.8z M146.2 449.7h4.8v4.8h-4.8z M171.6 408.6h4.8v4.8h-4.8z M177.1 466.9h4.8v4.8h-4.8z M195.3 401.6h4.8v4.8h-4.8z M176.2 455h4.8v4.8h-4.8z M137.8 497.9h4.8v4.8h-4.8z M173.1 518.2h4.8v4.8h-4.8z M162.6 420.3h4.8v4.8h-4.8z M113.8 480.6h4.8v4.8h-4.8z M179.9 423.9h4.8v4.8h-4.8z M183.9 491.6h4.8v4.8h-4.8z M160.6 434.8h4.8v4.8h-4.8z M165.2 480.3h4.8v4.8h-4.8z M153.8 430.8h4.8v4.8h-4.8z M186.9 453.1h4.8v4.8h-4.8z M161.4 472.5h4.8v4.8h-4.8z M155.4 465h4.8v4.8h-4.8z M151.6 529.1h4.8v4.8h-4.8z M186.3 468.5h4.8v4.8h-4.8z M103.2 507.9h4.8v4.8h-4.8z M148 532.9h4.8v4.8h-4.8z M154.3 427.4h4.8v4.8h-4.8z M182.8 410.7h4.8v4.8h-4.8z M153.4 493.1h4.8v4.8h-4.8z M125.9 497.8h4.8v4.8h-4.8z M161.6 516.9h4.8v4.8h-4.8z M170.8 448.1h4.8v4.8h-4.8z M188.1 406.6h4.8v4.8h-4.8z M155.3 451.2h4.8v4.8h-4.8z M201 384.7h4.8v4.8h-4.8z M143.4 455.7h4.8v4.8h-4.8z M145.7 487.7h4.8v4.8h-4.8z M171.3 486.6h4.8v4.8h-4.8z M103.9 497h4.8v4.8h-4.8z M159.5 430.2h4.8v4.8h-4.8z M178.2 412.6h4.8v4.8h-4.8z M156.7 456.6h4.8v4.8h-4.8z M139.5 448h4.8v4.8h-4.8z M114.3 484.8h4.8v4.8h-4.8z M150.1 505h4.8v4.8h-4.8z M136.1 487.7h4.8v4.8h-4.8z M176.8 441.5h4.8v4.8h-4.8z M170 480.3h4.8v4.8h-4.8z M161.1 485.5h4.8v4.8h-4.8z M137.2 524h4.8v4.8h-4.8z M163.5 432h4.8v4.8h-4.8z M188.8 478.6h4.8v4.8h-4.8z M132 504.7h4.8v4.8h-4.8z M176.4 408.5h4.8v4.8h-4.8z M173 492.6h4.8v4.8h-4.8z M141.4 500.1h4.8v4.8h-4.8z M128.6 472.1h4.8v4.8h-4.8z M202 368.7h4.8v4.8h-4.8z M153.4 513.7h4.8v4.8h-4.8z M118.8 534h4.8v4.8h-4.8z M178.6 428.6h4.8v4.8h-4.8z M148.7 494.3h4.8v4.8h-4.8z M179.4 406.9h4.8v4.8h-4.8z M140.2 444.5h4.8v4.8h-4.8z M171.2 460.8h4.8v4.8h-4.8z M137 457.6h4.8v4.8h-4.8z M101.2 510.7h4.8v4.8h-4.8z M184.3 487.9h4.8v4.8h-4.8z M149.2 514h4.8v4.8h-4.8z M146.7 521.4h4.8v4.8h-4.8z M183.9 481.9h4.8v4.8h-4.8z M114.2 499.4h4.8v4.8h-4.8z M173.8 405.9h4.8v4.8h-4.8z M165.9 464.8h4.8v4.8h-4.8z M123.5 484.1h4.8v4.8h-4.8z M198.1 393.4h4.8v4.8h-4.8z M115.8 468.9h4.8v4.8h-4.8z M202.8 373.2h4.8v4.8h-4.8z M128.1 457.3h4.8v4.8h-4.8z M131.9 453.1h4.8v4.8h-4.8z M188.3 462.5h4.8v4.8h-4.8z M129.2 533.3h4.8v4.8h-4.8z M143.8 495.2h4.8v4.8h-4.8z M164.9 416.3h4.8v4.8h-4.8z M127.3 515.5h4.8v4.8h-4.8z M161.3 465h4.8v4.8h-4.8z M152.2 501.6h4.8v4.8h-4.8z M123.7 500.7h4.8v4.8h-4.8z M146.1 505.2h4.8v4.8h-4.8z M187.2 485.9h4.8v4.8h-4.8z M151.8 453.2h4.8v4.8h-4.8z M111.4 515.8h4.8v4.8h-4.8z M112.1 512.4h4.8v4.8h-4.8z M165.2 457.5h4.8v4.8h-4.8z M120.9 523.1h4.8v4.8h-4.8z M188.3 458.3h4.8v4.8h-4.8z M207.2 374h4.8v4.8h-4.8z M161.3 496.8h4.8v4.8h-4.8z M144.1 444.3h4.8v4.8h-4.8z M163 454.3h4.8v4.8h-4.8z M157.1 480.9h4.8v4.8h-4.8z M106 517.7h4.8v4.8h-4.8z M180.7 466.4h4.8v4.8h-4.8z M148.8 456.4h4.8v4.8h-4.8z M107.4 513.7h4.8v4.8h-4.8z M119.1 490.3h4.8v4.8h-4.8z M182.5 499.2h4.8v4.8h-4.8z M187.6 427h4.8v4.8h-4.8z M181.2 505.1h4.8v4.8h-4.8z M158.8 453.4h4.8v4.8h-4.8z M166.2 469.2h4.8v4.8h-4.8z M187.1 402.1h4.8v4.8h-4.8z M183.6 508.6h4.8v4.8h-4.8z M143.5 513h4.8v4.8h-4.8z M132 516.7h4.8v4.8h-4.8z M127.6 465.4h4.8v4.8h-4.8z M137.6 484h4.8v4.8h-4.8z M120.9 467.6h4.8v4.8h-4.8z M153 448.2h4.8v4.8h-4.8z M109.1 490.1h4.8v4.8h-4.8z M106.2 484.5h4.8v4.8h-4.8z M188.8 393.6h4.8v4.8h-4.8z M187.5 414.4h4.8v4.8h-4.8z M165.6 441.9h4.8v4.8h-4.8z M118.3 508.1h4.8v4.8h-4.8z M134.7 475.7h4.8v4.8h-4.8z M205.8 365h4.8v4.8h-4.8z M144.9 413.3h4.8v4.8h-4.8z M212.6 375.6h4.8v4.8h-4.8z M219.6 397.6h4.8v4.8h-4.8z M237.6 460.6h4.8v4.8h-4.8z M215.6 452.6h4.8v4.8h-4.8z" fill="#aaaaaa" stroke="#909090" stroke-width="0.7"/><path d="M274.1 367.9l2 2.9l-2 2.9l-2 -2.9z M171.5 376.8l2 2.9l-2 2.9l-2 -2.9z M170.7 398.3l2 2.9l-2 2.9l-2 -2.9z M294.8 450.4l2 2.9l-2 2.9l-2 -2.9z M187.2 425l2 2.9l-2 2.9l-2 -2.9z M199.7 430.5l2 2.9l-2 2.9l-2 -2.9z M207.9 415.4l2 2.9l-2 2.9l-2 -2.9z M212.1 441.6l2 2.9l-2 2.9l-2 -2.9z M216.2 448.5l2 2.9l-2 2.9l-2 -2.9z M254.8 450.7l2 2.9l-2 2.9l-2 -2.9z M224.5 465.1l2 2.9l-2 2.9l-2 -2.9z M241.9 469.1l2 2.9l-2 2.9l-2 -2.9z M180 473.1l2 2.9l-2 2.9l-2 -2.9z M190 467.1l2 2.9l-2 2.9l-2 -2.9z M197 482.1l2 2.9l-2 2.9l-2 -2.9z M205 489.1l2 2.9l-2 2.9l-2 -2.9z M135 496.1l2 2.9l-2 2.9l-2 -2.9z M128 505.1l2 2.9l-2 2.9l-2 -2.9z M120 522.1l2 2.9l-2 2.9l-2 -2.9z M108 497.1l2 2.9l-2 2.9l-2 -2.9z" fill="#fff" stroke="#111" stroke-width="1"/><path d="M130.2 541.2l2.2 3.1l-2.2 3.1l-2.2 -3.1z M177 499.8l2.2 3.1l-2.2 3.1l-2.2 -3.1z M120.1 531.5l2.2 3.1l-2.2 3.1l-2.2 -3.1z M150 544.1l2.2 3.1l-2.2 3.1l-2.2 -3.1z M169.2 503.6l2.2 3.1l-2.2 3.1l-2.2 -3.1z M145.7 556.6l2.2 3.1l-2.2 3.1l-2.2 -3.1z M190.2 519.9l2.2 3.1l-2.2 3.1l-2.2 -3.1z M233.4 562.7l2.2 3.1l-2.2 3.1l-2.2 -3.1z M107.3 579.6l2.2 3.1l-2.2 3.1l-2.2 -3.1z M149.4 533l2.2 3.1l-2.2 3.1l-2.2 -3.1z M113.3 539.6l2.2 3.1l-2.2 3.1l-2.2 -3.1z M175.3 505.8l2.2 3.1l-2.2 3.1l-2.2 -3.1z M179 558l2.2 3.1l-2.2 3.1l-2.2 -3.1z M204.4 510.3l2.2 3.1l-2.2 3.1l-2.2 -3.1z M183.8 519.2l2.2 3.1l-2.2 3.1l-2.2 -3.1z M156.5 544.6l2.2 3.1l-2.2 3.1l-2.2 -3.1z M173.1 541.7l2.2 3.1l-2.2 3.1l-2.2 -3.1z M187.9 531.4l2.2 3.1l-2.2 3.1l-2.2 -3.1z M131.7 561.7l2.2 3.1l-2.2 3.1l-2.2 -3.1z M171.6 537.7l2.2 3.1l-2.2 3.1l-2.2 -3.1z M131.4 535.5l2.2 3.1l-2.2 3.1l-2.2 -3.1z M168.3 511.3l2.2 3.1l-2.2 3.1l-2.2 -3.1z M163.8 547.1l2.2 3.1l-2.2 3.1l-2.2 -3.1z M161.6 530.4l2.2 3.1l-2.2 3.1l-2.2 -3.1z M220.5 501.7l2.2 3.1l-2.2 3.1l-2.2 -3.1z M162.7 526.3l2.2 3.1l-2.2 3.1l-2.2 -3.1z M189.3 527.6l2.2 3.1l-2.2 3.1l-2.2 -3.1z M154.3 539.6l2.2 3.1l-2.2 3.1l-2.2 -3.1z M168.1 486.7l2.2 3.1l-2.2 3.1l-2.2 -3.1z M209.7 509.3l2.2 3.1l-2.2 3.1l-2.2 -3.1z M211.5 560.6l2.2 3.1l-2.2 3.1l-2.2 -3.1z M141.7 537.5l2.2 3.1l-2.2 3.1l-2.2 -3.1z M139.1 553.6l2.2 3.1l-2.2 3.1l-2.2 -3.1z M156.4 526.6l2.2 3.1l-2.2 3.1l-2.2 -3.1z M215.7 519.3l2.2 3.1l-2.2 3.1l-2.2 -3.1z M174.7 511.5l2.2 3.1l-2.2 3.1l-2.2 -3.1z M189.2 507.4l2.2 3.1l-2.2 3.1l-2.2 -3.1z M135.1 528.4l2.2 3.1l-2.2 3.1l-2.2 -3.1z M177.1 530.7l2.2 3.1l-2.2 3.1l-2.2 -3.1z M152.5 530.4l2.2 3.1l-2.2 3.1l-2.2 -3.1z M180.5 515.1l2.2 3.1l-2.2 3.1l-2.2 -3.1z M154.6 518.6l2.2 3.1l-2.2 3.1l-2.2 -3.1z M192.9 524l2.2 3.1l-2.2 3.1l-2.2 -3.1z M179.2 535.8l2.2 3.1l-2.2 3.1l-2.2 -3.1z M174.3 494.8l2.2 3.1l-2.2 3.1l-2.2 -3.1z M190.5 586.7l2.2 3.1l-2.2 3.1l-2.2 -3.1z M185.9 514l2.2 3.1l-2.2 3.1l-2.2 -3.1z M192 503.9l2.2 3.1l-2.2 3.1l-2.2 -3.1z M149.1 529.4l2.2 3.1l-2.2 3.1l-2.2 -3.1z M128.9 523.2l2.2 3.1l-2.2 3.1l-2.2 -3.1z M156.7 532.5l2.2 3.1l-2.2 3.1l-2.2 -3.1z M138.6 545.8l2.2 3.1l-2.2 3.1l-2.2 -3.1z M169 520.7l2.2 3.1l-2.2 3.1l-2.2 -3.1z M176.4 514.9l2.2 3.1l-2.2 3.1l-2.2 -3.1z M194 559.9l2.2 3.1l-2.2 3.1l-2.2 -3.1z M134.6 547.4l2.2 3.1l-2.2 3.1l-2.2 -3.1z M181 526l2.2 3.1l-2.2 3.1l-2.2 -3.1z M195.9 517.3l2.2 3.1l-2.2 3.1l-2.2 -3.1z M180.4 571.6l2.2 3.1l-2.2 3.1l-2.2 -3.1z M160.1 539.6l2.2 3.1l-2.2 3.1l-2.2 -3.1z M147.8 524.8l2.2 3.1l-2.2 3.1l-2.2 -3.1z M134.3 538.2l2.2 3.1l-2.2 3.1l-2.2 -3.1z M154 504.7l2.2 3.1l-2.2 3.1l-2.2 -3.1z M136 514.1l2.2 3.1l-2.2 3.1l-2.2 -3.1z M168.2 540.3l2.2 3.1l-2.2 3.1l-2.2 -3.1z M150.9 518.6l2.2 3.1l-2.2 3.1l-2.2 -3.1z M176 524.1l2.2 3.1l-2.2 3.1l-2.2 -3.1z M221.2 565.9l2.2 3.1l-2.2 3.1l-2.2 -3.1z M187.6 522.2l2.2 3.1l-2.2 3.1l-2.2 -3.1z M133.3 525.1l2.2 3.1l-2.2 3.1l-2.2 -3.1z M185.7 595.6l2.2 3.1l-2.2 3.1l-2.2 -3.1z M159.1 515.2l2.2 3.1l-2.2 3.1l-2.2 -3.1z M183.1 532l2.2 3.1l-2.2 3.1l-2.2 -3.1z M199.6 576.1l2.2 3.1l-2.2 3.1l-2.2 -3.1z M170.9 557.5l2.2 3.1l-2.2 3.1l-2.2 -3.1z M224.7 578.9l2.2 3.1l-2.2 3.1l-2.2 -3.1z M247.7 560.3l2.2 3.1l-2.2 3.1l-2.2 -3.1z M141.3 526.1l2.2 3.1l-2.2 3.1l-2.2 -3.1z M128.8 516.7l2.2 3.1l-2.2 3.1l-2.2 -3.1z M173.7 501.1l2.2 3.1l-2.2 3.1l-2.2 -3.1z M173.9 534.2l2.2 3.1l-2.2 3.1l-2.2 -3.1z M152.3 535.4l2.2 3.1l-2.2 3.1l-2.2 -3.1z M180.9 492.3l2.2 3.1l-2.2 3.1l-2.2 -3.1z M167.4 526.7l2.2 3.1l-2.2 3.1l-2.2 -3.1z M161.9 511.9l2.2 3.1l-2.2 3.1l-2.2 -3.1z M163.1 563.6l2.2 3.1l-2.2 3.1l-2.2 -3.1z M167.6 572l2.2 3.1l-2.2 3.1l-2.2 -3.1z M144 544.4l2.2 3.1l-2.2 3.1l-2.2 -3.1z M183.6 508.2l2.2 3.1l-2.2 3.1l-2.2 -3.1z M204 568.8l2.2 3.1l-2.2 3.1l-2.2 -3.1z M157.4 501.2l2.2 3.1l-2.2 3.1l-2.2 -3.1z M162.5 481.4l2.2 3.1l-2.2 3.1l-2.2 -3.1z M181.8 538.2l2.2 3.1l-2.2 3.1l-2.2 -3.1z M144.7 534l2.2 3.1l-2.2 3.1l-2.2 -3.1z M179.9 508.4l2.2 3.1l-2.2 3.1l-2.2 -3.1z M142.2 531l2.2 3.1l-2.2 3.1l-2.2 -3.1z M172.8 523.1l2.2 3.1l-2.2 3.1l-2.2 -3.1z M144.5 518.6l2.2 3.1l-2.2 3.1l-2.2 -3.1z M160.6 508.3l2.2 3.1l-2.2 3.1l-2.2 -3.1z M139.8 516.3l2.2 3.1l-2.2 3.1l-2.2 -3.1z M191.9 529.8l2.2 3.1l-2.2 3.1l-2.2 -3.1z M172.7 518.7l2.2 3.1l-2.2 3.1l-2.2 -3.1z M211.1 503.3l2.2 3.1l-2.2 3.1l-2.2 -3.1z M202.1 515.8l2.2 3.1l-2.2 3.1l-2.2 -3.1z M169.7 532.6l2.2 3.1l-2.2 3.1l-2.2 -3.1z M117.4 558.9l2.2 3.1l-2.2 3.1l-2.2 -3.1z M248.1 545.1l2.2 3.1l-2.2 3.1l-2.2 -3.1z M165.7 557.1l2.2 3.1l-2.2 3.1l-2.2 -3.1z M194.7 520.3l2.2 3.1l-2.2 3.1l-2.2 -3.1z M181 503.6l2.2 3.1l-2.2 3.1l-2.2 -3.1z M210.2 586.2l2.2 3.1l-2.2 3.1l-2.2 -3.1z M163.3 516.1l2.2 3.1l-2.2 3.1l-2.2 -3.1z M185.7 495l2.2 3.1l-2.2 3.1l-2.2 -3.1z M195.8 512.1l2.2 3.1l-2.2 3.1l-2.2 -3.1z M197.5 508.4l2.2 3.1l-2.2 3.1l-2.2 -3.1z M193.2 584.5l2.2 3.1l-2.2 3.1l-2.2 -3.1z M182.1 522.2l2.2 3.1l-2.2 3.1l-2.2 -3.1z M236.5 548.6l2.2 3.1l-2.2 3.1l-2.2 -3.1z M214.2 540.5l2.2 3.1l-2.2 3.1l-2.2 -3.1z M123.7 527.5l2.2 3.1l-2.2 3.1l-2.2 -3.1z M160.7 544l2.2 3.1l-2.2 3.1l-2.2 -3.1z M166.3 535.6l2.2 3.1l-2.2 3.1l-2.2 -3.1z M166.4 529.9l2.2 3.1l-2.2 3.1l-2.2 -3.1z M184.3 582.6l2.2 3.1l-2.2 3.1l-2.2 -3.1z M239.2 504.9l2.2 3.1l-2.2 3.1l-2.2 -3.1z M192.4 590.9l2.2 3.1l-2.2 3.1l-2.2 -3.1z M144.6 539.6l2.2 3.1l-2.2 3.1l-2.2 -3.1z M155.7 522.8l2.2 3.1l-2.2 3.1l-2.2 -3.1z M171.6 528.8l2.2 3.1l-2.2 3.1l-2.2 -3.1z M182.4 511.7l2.2 3.1l-2.2 3.1l-2.2 -3.1z M176.7 570.6l2.2 3.1l-2.2 3.1l-2.2 -3.1z M214.6 547.3l2.2 3.1l-2.2 3.1l-2.2 -3.1z M177.4 479.8l2.2 3.1l-2.2 3.1l-2.2 -3.1z M126.9 569.8l2.2 3.1l-2.2 3.1l-2.2 -3.1z M124.8 531.8l2.2 3.1l-2.2 3.1l-2.2 -3.1z M137.4 540.4l2.2 3.1l-2.2 3.1l-2.2 -3.1z M159.8 574.5l2.2 3.1l-2.2 3.1l-2.2 -3.1z M151.4 547.3l2.2 3.1l-2.2 3.1l-2.2 -3.1z M152.4 522.4l2.2 3.1l-2.2 3.1l-2.2 -3.1z M252.3 595.5l2.2 3.1l-2.2 3.1l-2.2 -3.1z M212.2 557.3l2.2 3.1l-2.2 3.1l-2.2 -3.1z M212.1 568.4l2.2 3.1l-2.2 3.1l-2.2 -3.1z M203.4 520.3l2.2 3.1l-2.2 3.1l-2.2 -3.1z M159.6 536.1l2.2 3.1l-2.2 3.1l-2.2 -3.1z M144.9 515.1l2.2 3.1l-2.2 3.1l-2.2 -3.1z M187.8 535.5l2.2 3.1l-2.2 3.1l-2.2 -3.1z M185.8 525.5l2.2 3.1l-2.2 3.1l-2.2 -3.1z M190.8 511.4l2.2 3.1l-2.2 3.1l-2.2 -3.1z M201.3 504.6l2.2 3.1l-2.2 3.1l-2.2 -3.1z M137.9 520.5l2.2 3.1l-2.2 3.1l-2.2 -3.1z M230.4 554.4l2.2 3.1l-2.2 3.1l-2.2 -3.1z M164.9 491.4l2.2 3.1l-2.2 3.1l-2.2 -3.1z M145.8 548.6l2.2 3.1l-2.2 3.1l-2.2 -3.1z M151.8 576.1l2.2 3.1l-2.2 3.1l-2.2 -3.1z M198.7 588.8l2.2 3.1l-2.2 3.1l-2.2 -3.1z M194.7 498.1l2.2 3.1l-2.2 3.1l-2.2 -3.1z M251.4 554.9l2.2 3.1l-2.2 3.1l-2.2 -3.1z M153.9 549.7l2.2 3.1l-2.2 3.1l-2.2 -3.1z M181.6 483.9l2.2 3.1l-2.2 3.1l-2.2 -3.1z M204.8 580.4l2.2 3.1l-2.2 3.1l-2.2 -3.1z M177.7 540.4l2.2 3.1l-2.2 3.1l-2.2 -3.1z M154.2 554.7l2.2 3.1l-2.2 3.1l-2.2 -3.1z M151.7 559.4l2.2 3.1l-2.2 3.1l-2.2 -3.1z M194.3 543.2l2.2 3.1l-2.2 3.1l-2.2 -3.1z M200 538.5l2.2 3.1l-2.2 3.1l-2.2 -3.1z M167.2 516.6l2.2 3.1l-2.2 3.1l-2.2 -3.1z M118.7 542l2.2 3.1l-2.2 3.1l-2.2 -3.1z M205.4 526.4l2.2 3.1l-2.2 3.1l-2.2 -3.1z M150.8 538.5l2.2 3.1l-2.2 3.1l-2.2 -3.1z M189.4 514.5l2.2 3.1l-2.2 3.1l-2.2 -3.1z M238.9 562.9l2.2 3.1l-2.2 3.1l-2.2 -3.1z M160.7 520.4l2.2 3.1l-2.2 3.1l-2.2 -3.1z M197.3 585.4l2.2 3.1l-2.2 3.1l-2.2 -3.1z M195.8 566.5l2.2 3.1l-2.2 3.1l-2.2 -3.1z M173.9 581.2l2.2 3.1l-2.2 3.1l-2.2 -3.1z M193.2 539.1l2.2 3.1l-2.2 3.1l-2.2 -3.1z M252.6 498.4l2.2 3.1l-2.2 3.1l-2.2 -3.1z M261.7 532.1l2.2 3.1l-2.2 3.1l-2.2 -3.1z M254 539.8l2.2 3.1l-2.2 3.1l-2.2 -3.1z M312.8 544.5l2.2 3.1l-2.2 3.1l-2.2 -3.1z M293.4 549.5l2.2 3.1l-2.2 3.1l-2.2 -3.1z M301.7 551.4l2.2 3.1l-2.2 3.1l-2.2 -3.1z M252.6 550.8l2.2 3.1l-2.2 3.1l-2.2 -3.1z M260.3 557.5l2.2 3.1l-2.2 3.1l-2.2 -3.1z M235 559.7l2.2 3.1l-2.2 3.1l-2.2 -3.1z M246 564.6l2.2 3.1l-2.2 3.1l-2.2 -3.1z M271.4 564.3l2.2 3.1l-2.2 3.1l-2.2 -3.1z M276.9 562.4l2.2 3.1l-2.2 3.1l-2.2 -3.1z M286 563.2l2.2 3.1l-2.2 3.1l-2.2 -3.1z M291.5 568.5l2.2 3.1l-2.2 3.1l-2.2 -3.1z M254.3 577.6l2.2 3.1l-2.2 3.1l-2.2 -3.1z M250.7 580.3l2.2 3.1l-2.2 3.1l-2.2 -3.1z M216.2 551.4l2.2 3.1l-2.2 3.1l-2.2 -3.1z M224.5 544.5l2.2 3.1l-2.2 3.1l-2.2 -3.1z M216.2 534.8l2.2 3.1l-2.2 3.1l-2.2 -3.1z M223.9 521l2.2 3.1l-2.2 3.1l-2.2 -3.1z M214.3 504.5l2.2 3.1l-2.2 3.1l-2.2 -3.1z M212.1 521l2.2 3.1l-2.2 3.1l-2.2 -3.1z M219 573.5l2.2 3.1l-2.2 3.1l-2.2 -3.1z M221.7 572.1l2.2 3.1l-2.2 3.1l-2.2 -3.1z M213.4 572.1l2.2 3.1l-2.2 3.1l-2.2 -3.1z M209.3 563.8l2.2 3.1l-2.2 3.1l-2.2 -3.1z M201.9 576.2l2.2 3.1l-2.2 3.1l-2.2 -3.1z M193.6 585.3l2.2 3.1l-2.2 3.1l-2.2 -3.1z M173.4 585.9l2.2 3.1l-2.2 3.1l-2.2 -3.1z M179 576.2l2.2 3.1l-2.2 3.1l-2.2 -3.1z M187.2 574.8l2.2 3.1l-2.2 3.1l-2.2 -3.1z M199.1 552.8l2.2 3.1l-2.2 3.1l-2.2 -3.1z M191.4 556.9l2.2 3.1l-2.2 3.1l-2.2 -3.1z M203.8 556.9l2.2 3.1l-2.2 3.1l-2.2 -3.1z M120.4 592.9l2.2 3.1l-2.2 3.1l-2.2 -3.1z M128 581.9l2.2 3.1l-2.2 3.1l-2.2 -3.1z M140 576.9l2.2 3.1l-2.2 3.1l-2.2 -3.1z M150 568.9l2.2 3.1l-2.2 3.1l-2.2 -3.1z M160 586.9l2.2 3.1l-2.2 3.1l-2.2 -3.1z M168 571.9l2.2 3.1l-2.2 3.1l-2.2 -3.1z M216.2 444.1l2.2 3.1l-2.2 3.1l-2.2 -3.1z M196.9 455.2l2.2 3.1l-2.2 3.1l-2.2 -3.1z M184.5 455.2l2.2 3.1l-2.2 3.1l-2.2 -3.1z M320.5 455.2l2.2 3.1l-2.2 3.1l-2.2 -3.1z M298.1 462.1l2.2 3.1l-2.2 3.1l-2.2 -3.1z M289.3 470.3l2.2 3.1l-2.2 3.1l-2.2 -3.1z" fill="#000"/><path d="M202.1 464.3h4.6v4.6h-4.6z M182.3 464.3h4.6v4.6h-4.6z M226.5 489.1h4.6v4.6h-4.6z M188.5 525.1h4.6v4.6h-4.6z M232.7 549.9h4.6v4.6h-4.6z M226.9 488.7h4.6v4.6h-4.6z M196 496.5h4.6v4.6h-4.6z" fill="#fff" stroke="#111" stroke-width="1"/><path d="M47.8 496.5H348.6M133.5 335.4V603.6" stroke="#000" stroke-width="1" stroke-dasharray="1 2.4" fill="none"/><path d="M73.7 604L232.1 335.5" stroke="#000" stroke-width="2.3"/><path d="M59.4 484.1H132.8M98.7 442V525.9 M101.8 457.9H161.8M132 427V490 M158 443.2H178M167.8 433V453 M166 465.1H186M176 458V472 M145 479.6H180M158.7 470V490 M140 496.5H165M153.1 488V505 M150 499H195M164.9 488V545 M108 509.7H142M126.2 498V520 M112 514.5H140M125 505V530 M100 518H135M118 508V528 M126 501H152M139 446V507 M136 501H160M148.4 495V507" stroke="#0a0af5" stroke-width="1"/><path d="M205 374.3H232M217.4 364V386 M207 409.2H223M214.6 402V416 M147.3 543.5H172.1M160.1 532V554.8" stroke="#f50a0a" stroke-width="1"/><path d="M139 498.5l3.3 5.6h-6.6z M148.4 498.5l3.3 5.6h-6.6z M120.4 503.7l3.3 5.6h-6.6z" fill="#0a0af5"/><circle cx="98.7" cy="484.1" r="4.1" fill="#0a0af5"/><circle cx="132" cy="457.9" r="4.1" fill="#0a0af5"/><circle cx="167.8" cy="443.2" r="4.1" fill="#0a0af5"/><circle cx="176" cy="465.1" r="4.1" fill="#0a0af5"/><circle cx="158.7" cy="477.9" r="4.1" fill="#0a0af5"/><circle cx="159.3" cy="481.4" r="4.1" fill="#0a0af5"/><circle cx="153.1" cy="496.5" r="4.1" fill="#0a0af5"/><circle cx="164.9" cy="499" r="4.1" fill="#0a0af5"/><circle cx="126.2" cy="509.7" r="4.1" fill="#0a0af5"/><circle cx="125" cy="514.5" r="4.1" fill="#0a0af5"/><circle cx="118" cy="518" r="4.1" fill="#0a0af5"/><path d="M140.5 482.7l3.6 6.1h-7.2z" fill="#f50a0a" stroke="#000" stroke-width="0.7"/><circle cx="217.4" cy="374.3" r="4.4" fill="#f50a0a" stroke="#000" stroke-width="0.8"/><circle cx="214.6" cy="409.2" r="4.4" fill="#f50a0a" stroke="#000" stroke-width="0.8"/><circle cx="160.1" cy="543.5" r="4.4" fill="#f50a0a" stroke="#000" stroke-width="0.8"/><text x="282.4" y="506.8" font-family="Liberation Sans, sans-serif" font-size="11.2">Solar</text><text transform="translate(130.5,366) rotate(-90)" font-family="Liberation Sans, sans-serif" font-size="11.2">Solar</text><path d="M47.88 603.6v-4.5 M47.88 335.4v4.5 M52.17 603.6v-2.5 M52.17 335.4v2.5 M56.45 603.6v-2.5 M56.45 335.4v2.5 M60.74 603.6v-2.5 M60.74 335.4v2.5 M65.02 603.6v-2.5 M65.02 335.4v2.5 M69.31 603.6v-2.5 M69.31 335.4v2.5 M73.6 603.6v-2.5 M73.6 335.4v2.5 M77.88 603.6v-2.5 M77.88 335.4v2.5 M82.17 603.6v-2.5 M82.17 335.4v2.5 M86.45 603.6v-2.5 M86.45 335.4v2.5 M90.74 603.6v-4.5 M90.74 335.4v4.5 M95.03 603.6v-2.5 M95.03 335.4v2.5 M99.31 603.6v-2.5 M99.31 335.4v2.5 M103.6 603.6v-2.5 M103.6 335.4v2.5 M107.88 603.6v-2.5 M107.88 335.4v2.5 M112.17 603.6v-2.5 M112.17 335.4v2.5 M116.46 603.6v-2.5 M116.46 335.4v2.5 M120.74 603.6v-2.5 M120.74 335.4v2.5 M125.03 603.6v-2.5 M125.03 335.4v2.5 M129.31 603.6v-2.5 M129.31 335.4v2.5 M133.6 603.6v-4.5 M133.6 335.4v4.5 M137.89 603.6v-2.5 M137.89 335.4v2.5 M142.17 603.6v-2.5 M142.17 335.4v2.5 M146.46 603.6v-2.5 M146.46 335.4v2.5 M150.74 603.6v-2.5 M150.74 335.4v2.5 M155.03 603.6v-2.5 M155.03 335.4v2.5 M159.32 603.6v-2.5 M159.32 335.4v2.5 M163.6 603.6v-2.5 M163.6 335.4v2.5 M167.89 603.6v-2.5 M167.89 335.4v2.5 M172.17 603.6v-2.5 M172.17 335.4v2.5 M176.46 603.6v-4.5 M176.46 335.4v4.5 M180.75 603.6v-2.5 M180.75 335.4v2.5 M185.03 603.6v-2.5 M185.03 335.4v2.5 M189.32 603.6v-2.5 M189.32 335.4v2.5 M193.6 603.6v-2.5 M193.6 335.4v2.5 M197.89 603.6v-2.5 M197.89 335.4v2.5 M202.18 603.6v-2.5 M202.18 335.4v2.5 M206.46 603.6v-2.5 M206.46 335.4v2.5 M210.75 603.6v-2.5 M210.75 335.4v2.5 M215.03 603.6v-2.5 M215.03 335.4v2.5 M219.32 603.6v-4.5 M219.32 335.4v4.5 M223.61 603.6v-2.5 M223.61 335.4v2.5 M227.89 603.6v-2.5 M227.89 335.4v2.5 M232.18 603.6v-2.5 M232.18 335.4v2.5 M236.46 603.6v-2.5 M236.46 335.4v2.5 M240.75 603.6v-2.5 M240.75 335.4v2.5 M245.04 603.6v-2.5 M245.04 335.4v2.5 M249.32 603.6v-2.5 M249.32 335.4v2.5 M253.61 603.6v-2.5 M253.61 335.4v2.5 M257.89 603.6v-2.5 M257.89 335.4v2.5 M262.18 603.6v-4.5 M262.18 335.4v4.5 M266.47 603.6v-2.5 M266.47 335.4v2.5 M270.75 603.6v-2.5 M270.75 335.4v2.5 M275.04 603.6v-2.5 M275.04 335.4v2.5 M279.32 603.6v-2.5 M279.32 335.4v2.5 M283.61 603.6v-2.5 M283.61 335.4v2.5 M287.9 603.6v-2.5 M287.9 335.4v2.5 M292.18 603.6v-2.5 M292.18 335.4v2.5 M296.47 603.6v-2.5 M296.47 335.4v2.5 M300.75 603.6v-2.5 M300.75 335.4v2.5 M305.04 603.6v-4.5 M305.04 335.4v4.5 M309.33 603.6v-2.5 M309.33 335.4v2.5 M313.61 603.6v-2.5 M313.61 335.4v2.5 M317.9 603.6v-2.5 M317.9 335.4v2.5 M322.18 603.6v-2.5 M322.18 335.4v2.5 M326.47 603.6v-2.5 M326.47 335.4v2.5 M330.76 603.6v-2.5 M330.76 335.4v2.5 M335.04 603.6v-2.5 M335.04 335.4v2.5 M339.33 603.6v-2.5 M339.33 335.4v2.5 M343.61 603.6v-2.5 M343.61 335.4v2.5 M347.9 603.6v-4.5 M347.9 335.4v4.5 M47.8 603.7h4.5 M348.6 603.7h-4.5 M47.8 598.34h2.5 M348.6 598.34h-2.5 M47.8 592.98h2.5 M348.6 592.98h-2.5 M47.8 587.62h2.5 M348.6 587.62h-2.5 M47.8 582.26h2.5 M348.6 582.26h-2.5 M47.8 576.9h2.5 M348.6 576.9h-2.5 M47.8 571.54h2.5 M348.6 571.54h-2.5 M47.8 566.18h2.5 M348.6 566.18h-2.5 M47.8 560.82h2.5 M348.6 560.82h-2.5 M47.8 555.46h2.5 M348.6 555.46h-2.5 M47.8 550.1h4.5 M348.6 550.1h-4.5 M47.8 544.74h2.5 M348.6 544.74h-2.5 M47.8 539.38h2.5 M348.6 539.38h-2.5 M47.8 534.02h2.5 M348.6 534.02h-2.5 M47.8 528.66h2.5 M348.6 528.66h-2.5 M47.8 523.3h2.5 M348.6 523.3h-2.5 M47.8 517.94h2.5 M348.6 517.94h-2.5 M47.8 512.58h2.5 M348.6 512.58h-2.5 M47.8 507.22h2.5 M348.6 507.22h-2.5 M47.8 501.86h2.5 M348.6 501.86h-2.5 M47.8 496.5h4.5 M348.6 496.5h-4.5 M47.8 491.14h2.5 M348.6 491.14h-2.5 M47.8 485.78h2.5 M348.6 485.78h-2.5 M47.8 480.42h2.5 M348.6 480.42h-2.5 M47.8 475.06h2.5 M348.6 475.06h-2.5 M47.8 469.7h2.5 M348.6 469.7h-2.5 M47.8 464.34h2.5 M348.6 464.34h-2.5 M47.8 458.98h2.5 M348.6 458.98h-2.5 M47.8 453.62h2.5 M348.6 453.62h-2.5 M47.8 448.26h2.5 M348.6 448.26h-2.5 M47.8 442.9h4.5 M348.6 442.9h-4.5 M47.8 437.54h2.5 M348.6 437.54h-2.5 M47.8 432.18h2.5 M348.6 432.18h-2.5 M47.8 426.82h2.5 M348.6 426.82h-2.5 M47.8 421.46h2.5 M348.6 421.46h-2.5 M47.8 416.1h2.5 M348.6 416.1h-2.5 M47.8 410.74h2.5 M348.6 410.74h-2.5 M47.8 405.38h2.5 M348.6 405.38h-2.5 M47.8 400.02h2.5 M348.6 400.02h-2.5 M47.8 394.66h2.5 M348.6 394.66h-2.5 M47.8 389.3h4.5 M348.6 389.3h-4.5 M47.8 383.94h2.5 M348.6 383.94h-2.5 M47.8 378.58h2.5 M348.6 378.58h-2.5 M47.8 373.22h2.5 M348.6 373.22h-2.5 M47.8 367.86h2.5 M348.6 367.86h-2.5 M47.8 362.5h2.5 M348.6 362.5h-2.5 M47.8 357.14h2.5 M348.6 357.14h-2.5 M47.8 351.78h2.5 M348.6 351.78h-2.5 M47.8 346.42h2.5 M348.6 346.42h-2.5 M47.8 341.06h2.5 M348.6 341.06h-2.5 M47.8 335.7h4.5 M348.6 335.7h-4.5" stroke="#000" stroke-width="1" fill="none"/><rect x="47.8" y="335.4" width="300.8" height="268.2" fill="none" stroke="#000" stroke-width="1.3"/><text transform="translate(47.88,621.8) scale(0.935,1)" text-anchor="middle" font-family="Liberation Sans, sans-serif" font-size="15">-200</text><text transform="translate(90.74,621.8) scale(0.935,1)" text-anchor="middle" font-family="Liberation Sans, sans-serif" font-size="15">-100</text><text transform="translate(133.6,621.8) scale(0.935,1)" text-anchor="middle" font-family="Liberation Sans, sans-serif" font-size="15">0</text><text transform="translate(176.46,621.8) scale(0.935,1)" text-anchor="middle" font-family="Liberation Sans, sans-serif" font-size="15">100</text><text transform="translate(219.32,621.8) scale(0.935,1)" text-anchor="middle" font-family="Liberation Sans, sans-serif" font-size="15">200</text><text transform="translate(262.18,621.8) scale(0.935,1)" text-anchor="middle" font-family="Liberation Sans, sans-serif" font-size="15">300</text><text transform="translate(305.04,621.8) scale(0.935,1)" text-anchor="middle" font-family="Liberation Sans, sans-serif" font-size="15">400</text><text transform="translate(347.9,621.8) scale(0.935,1)" text-anchor="middle" font-family="Liberation Sans, sans-serif" font-size="15">500</text><text transform="translate(45.6,604) scale(0.935,1)" text-anchor="end" font-family="Liberation Sans, sans-serif" font-size="15">-200</text><text transform="translate(45.6,554.9) scale(0.935,1)" text-anchor="end" font-family="Liberation Sans, sans-serif" font-size="15">-100</text><text transform="translate(45.6,501.3) scale(0.935,1)" text-anchor="end" font-family="Liberation Sans, sans-serif" font-size="15">0</text><text transform="translate(45.6,447.7) scale(0.935,1)" text-anchor="end" font-family="Liberation Sans, sans-serif" font-size="15">100</text><text transform="translate(45.6,394.1) scale(0.935,1)" text-anchor="end" font-family="Liberation Sans, sans-serif" font-size="15">200</text><text transform="translate(45.6,343.6) scale(0.935,1)" text-anchor="end" font-family="Liberation Sans, sans-serif" font-size="15">300</text><text x="154.5" y="648.6" font-family="Liberation Sans, sans-serif" font-size="21.4">δ<tspan font-size="11.5" dy="-6.5">30</tspan><tspan dy="6.5">Si (‰)</tspan></text><text transform="translate(17.2,471.5) rotate(-90)" text-anchor="middle" font-family="Liberation Sans, sans-serif" font-size="21.2">δ<tspan font-size="11.5" dy="-6.5">29</tspan><tspan dy="6.5">Si (‰)</tspan></text><text x="59.8" y="360.4" font-family="Liberation Sans, sans-serif" font-size="20.5">c</text></g></svg></body></html>
